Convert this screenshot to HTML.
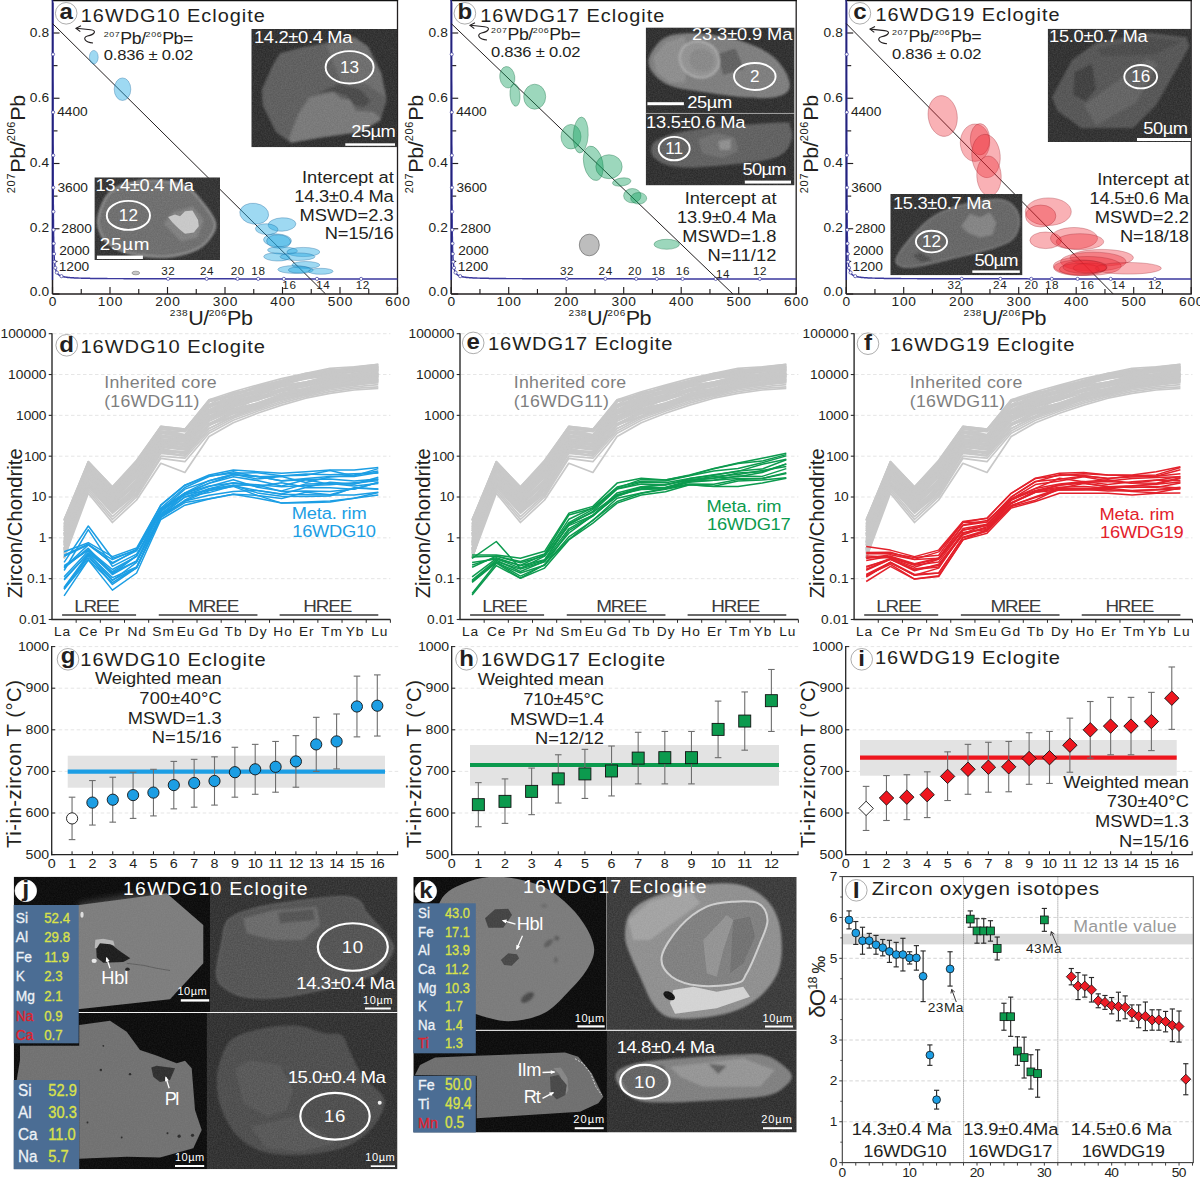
<!DOCTYPE html>
<html><head><meta charset="utf-8"><title>Figure</title>
<style>html,body{margin:0;padding:0;background:#fff;}body{width:1200px;height:1177px;overflow:hidden;font-family:"Liberation Sans",sans-serif;}svg{display:block;}</style></head>
<body>
<svg width="1200" height="1177" viewBox="0 0 1200 1177" font-family="'Liberation Sans', sans-serif">
<defs>
<filter id="nz" x="0" y="0" width="100%" height="100%"><feTurbulence type="fractalNoise" baseFrequency="0.75" numOctaves="2" seed="3" result="t"/><feColorMatrix in="t" type="matrix" values="0 0 0 0 1  0 0 0 0 1  0 0 0 0 1  1.6 0 0 0 -0.35"/></filter>
<filter id="b15" x="-10%" y="-10%" width="120%" height="120%"><feGaussianBlur stdDeviation="1.3"/></filter>
<filter id="b08" x="-10%" y="-10%" width="120%" height="120%"><feGaussianBlur stdDeviation="0.7"/></filter>
<filter id="b30" x="-20%" y="-20%" width="140%" height="140%"><feGaussianBlur stdDeviation="3"/></filter>
<clipPath id="cp1"><rect x="251.30" y="29.00" width="146.00" height="118.30"/></clipPath>
<clipPath id="cp2"><rect x="94.40" y="177.30" width="125.60" height="82.70"/></clipPath>
<clipPath id="cp3"><rect x="645.70" y="27.40" width="148.90" height="86.00"/></clipPath>
<clipPath id="cp4"><rect x="645.70" y="113.40" width="148.90" height="72.00"/></clipPath>
<clipPath id="cp5"><rect x="1047.70" y="28.70" width="143.60" height="113.30"/></clipPath>
<clipPath id="cp6"><rect x="890.30" y="194.00" width="132.20" height="81.30"/></clipPath>
<clipPath id="cp7"><rect x="13.70" y="876.70" width="196.30" height="135.80"/></clipPath>
<clipPath id="cp8"><rect x="13.70" y="1012.50" width="193.80" height="156.70"/></clipPath>
<clipPath id="cp9"><rect x="210.00" y="876.70" width="187.50" height="135.80"/></clipPath>
<clipPath id="cp10"><rect x="206.70" y="1012.50" width="190.80" height="156.70"/></clipPath>
<clipPath id="cp11"><rect x="413.30" y="877.00" width="193.40" height="153.30"/></clipPath>
<clipPath id="cp12"><rect x="413.30" y="1030.30" width="194.20" height="102.20"/></clipPath>
<clipPath id="cp13"><rect x="606.70" y="877.00" width="190.00" height="153.30"/></clipPath>
<clipPath id="cp14"><rect x="606.70" y="1030.30" width="190.00" height="102.20"/></clipPath>
</defs>
<line x1="52.50" y1="294.00" x2="398.10" y2="294.00" stroke="#231f20" stroke-width="1.4"/>
<line x1="397.50" y1="0.00" x2="397.50" y2="294.00" stroke="#231f20" stroke-width="1.3"/>
<line x1="51.90" y1="0.50" x2="398.10" y2="0.50" stroke="#111" stroke-width="1.6"/>
<line x1="52.50" y1="294.00" x2="59.50" y2="294.00" stroke="#231f20" stroke-width="1.15"/>
<line x1="52.50" y1="261.38" x2="57.50" y2="261.38" stroke="#231f20" stroke-width="1.15"/>
<line x1="52.50" y1="228.75" x2="59.50" y2="228.75" stroke="#231f20" stroke-width="1.15"/>
<line x1="52.50" y1="196.12" x2="57.50" y2="196.12" stroke="#231f20" stroke-width="1.15"/>
<line x1="52.50" y1="163.50" x2="59.50" y2="163.50" stroke="#231f20" stroke-width="1.15"/>
<line x1="52.50" y1="130.88" x2="57.50" y2="130.88" stroke="#231f20" stroke-width="1.15"/>
<line x1="52.50" y1="98.25" x2="59.50" y2="98.25" stroke="#231f20" stroke-width="1.15"/>
<line x1="52.50" y1="65.63" x2="57.50" y2="65.63" stroke="#231f20" stroke-width="1.15"/>
<line x1="52.50" y1="33.00" x2="59.50" y2="33.00" stroke="#231f20" stroke-width="1.15"/>
<line x1="52.50" y1="294.00" x2="52.50" y2="287.00" stroke="#231f20" stroke-width="1.15"/>
<line x1="81.25" y1="294.00" x2="81.25" y2="289.00" stroke="#231f20" stroke-width="1.15"/>
<line x1="110.00" y1="294.00" x2="110.00" y2="287.00" stroke="#231f20" stroke-width="1.15"/>
<line x1="138.75" y1="294.00" x2="138.75" y2="289.00" stroke="#231f20" stroke-width="1.15"/>
<line x1="167.50" y1="294.00" x2="167.50" y2="287.00" stroke="#231f20" stroke-width="1.15"/>
<line x1="196.25" y1="294.00" x2="196.25" y2="289.00" stroke="#231f20" stroke-width="1.15"/>
<line x1="225.00" y1="294.00" x2="225.00" y2="287.00" stroke="#231f20" stroke-width="1.15"/>
<line x1="253.75" y1="294.00" x2="253.75" y2="289.00" stroke="#231f20" stroke-width="1.15"/>
<line x1="282.50" y1="294.00" x2="282.50" y2="287.00" stroke="#231f20" stroke-width="1.15"/>
<line x1="311.25" y1="294.00" x2="311.25" y2="289.00" stroke="#231f20" stroke-width="1.15"/>
<line x1="340.00" y1="294.00" x2="340.00" y2="287.00" stroke="#231f20" stroke-width="1.15"/>
<line x1="368.75" y1="294.00" x2="368.75" y2="289.00" stroke="#231f20" stroke-width="1.15"/>
<line x1="397.50" y1="294.00" x2="397.50" y2="287.00" stroke="#231f20" stroke-width="1.15"/>
<text font-size="12.48" fill="#231f20" text-anchor="end" textLength="17.7" lengthAdjust="spacing" transform="translate(49.2 296.0) scale(1.1 1)">0.0</text>
<text font-size="12.48" fill="#231f20" text-anchor="end" textLength="17.7" lengthAdjust="spacing" transform="translate(49.2 232.3) scale(1.1 1)">0.2</text>
<text font-size="12.48" fill="#231f20" text-anchor="end" textLength="17.7" lengthAdjust="spacing" transform="translate(49.2 167.1) scale(1.1 1)">0.4</text>
<text font-size="12.48" fill="#231f20" text-anchor="end" textLength="17.7" lengthAdjust="spacing" transform="translate(49.2 101.8) scale(1.1 1)">0.6</text>
<text font-size="12.48" fill="#231f20" text-anchor="end" textLength="17.7" lengthAdjust="spacing" transform="translate(49.2 36.6) scale(1.1 1)">0.8</text>
<text font-size="12.48" fill="#231f20" text-anchor="middle" transform="translate(52.5 306.3) scale(1.1 1)">0</text>
<text font-size="12.48" fill="#231f20" text-anchor="middle" textLength="22.3" lengthAdjust="spacing" transform="translate(110.0 306.3) scale(1.1 1)">100</text>
<text font-size="12.48" fill="#231f20" text-anchor="middle" textLength="22.3" lengthAdjust="spacing" transform="translate(167.5 306.3) scale(1.1 1)">200</text>
<text font-size="12.48" fill="#231f20" text-anchor="middle" textLength="22.3" lengthAdjust="spacing" transform="translate(225.0 306.3) scale(1.1 1)">300</text>
<text font-size="12.48" fill="#231f20" text-anchor="middle" textLength="22.3" lengthAdjust="spacing" transform="translate(282.5 306.3) scale(1.1 1)">400</text>
<text font-size="12.48" fill="#231f20" text-anchor="middle" textLength="22.3" lengthAdjust="spacing" transform="translate(340.0 306.3) scale(1.1 1)">500</text>
<text font-size="12.48" fill="#231f20" text-anchor="middle" textLength="22.3" lengthAdjust="spacing" transform="translate(397.5 306.3) scale(1.1 1)">600</text>
<text font-size="20.59" fill="#231f20" textLength="93.8" lengthAdjust="spacing" transform="translate(24.5 193.2) rotate(-90) scale(1.05 1)"><tspan font-size="10.40" dy="-10.0" letter-spacing="1.0">207</tspan><tspan font-size="20.59" dy="10.0">Pb/</tspan><tspan font-size="10.40" dy="-10.0" letter-spacing="1.0">206</tspan><tspan font-size="20.59" dy="10.0">Pb</tspan></text>
<text font-size="19.55" fill="#231f20" textLength="75.5" lengthAdjust="spacing" transform="translate(169.8 325.0) scale(1.1 1)"><tspan font-size="9.15" dy="-9.0" letter-spacing="1.0">238</tspan><tspan font-size="19.55" dy="9.0">U/</tspan><tspan font-size="9.15" dy="-9.0" letter-spacing="1.0">206</tspan><tspan font-size="19.55" dy="9.0">Pb</tspan></text>
<polyline points="397.5,278.9 394.1,278.9 390.7,278.9 387.3,278.9 384.0,278.9 380.7,278.9 377.5,278.9 374.3,278.9 371.1,278.9 367.9,278.9 364.8,278.9 361.7,278.9 358.6,278.9 355.6,278.9 352.6,278.9 349.6,278.9 346.7,278.9 343.8,278.9 340.9,278.9 338.0,278.9 335.2,278.9 332.4,278.9 329.6,278.9 326.9,278.9 324.1,278.9 321.5,278.9 318.8,278.9 316.2,278.9 313.5,278.9 311.0,278.9 308.4,278.9 305.9,278.9 303.3,278.9 300.9,278.9 298.4,278.9 296.0,278.9 293.5,278.9 291.2,278.9 288.8,278.9 286.4,278.9 284.1,278.9 281.8,278.9 279.6,278.9 277.3,278.9 275.1,278.9 272.9,278.9 270.7,278.9 268.5,278.9 266.4,278.9 264.3,278.9 262.2,278.9 260.1,278.9 258.0,278.9 256.0,278.9 254.0,278.9 252.0,278.9 250.0,278.9 248.0,278.9 246.1,278.9 244.2,278.9 242.3,278.9 240.4,278.9 238.5,278.9 236.7,278.9 234.9,278.9 233.1,278.8 231.3,278.8 229.5,278.8 227.7,278.8 226.0,278.8 224.3,278.8 222.6,278.8 220.9,278.8 219.2,278.8 217.6,278.8 215.9,278.8 214.3,278.8 212.7,278.8 211.1,278.8 209.5,278.8 208.0,278.8 206.4,278.8 204.9,278.8 203.4,278.8 201.9,278.8 200.4,278.8 199.0,278.8 197.5,278.8 196.1,278.8 194.6,278.8 193.2,278.8 191.8,278.8 190.4,278.8 189.1,278.8 187.7,278.8 186.4,278.8 185.1,278.8 183.7,278.8 182.4,278.8 181.1,278.8 179.9,278.8 178.6,278.8 177.4,278.8 176.1,278.8 174.9,278.8 173.7,278.8 172.5,278.8 171.3,278.8 170.1,278.8 168.9,278.8 167.8,278.8 166.6,278.8 165.5,278.8 164.4,278.8 163.3,278.8 162.2,278.8 161.1,278.8 160.0,278.8 158.9,278.8 157.9,278.8 156.8,278.8 155.8,278.8 154.8,278.7 153.8,278.7 152.8,278.7 151.8,278.7 150.8,278.7 149.8,278.7 148.8,278.7 147.9,278.7 146.9,278.7 146.0,278.7 145.1,278.7 144.1,278.7 143.2,278.7 142.3,278.7 141.4,278.7 140.6,278.7 139.7,278.7 138.8,278.7 138.0,278.7 137.1,278.7 136.3,278.7 135.4,278.7 134.6,278.7 133.8,278.7 133.0,278.7 132.2,278.7 131.4,278.7 130.6,278.7 129.8,278.7 129.1,278.7 128.3,278.7 127.6,278.7 126.8,278.7 126.1,278.7 125.3,278.7 124.6,278.7 123.9,278.7 123.2,278.6 122.5,278.6 121.8,278.6 121.1,278.6 120.4,278.6 119.7,278.6 119.1,278.6 118.4,278.6 117.8,278.6 117.1,278.6 116.5,278.6 115.8,278.6 115.2,278.6 114.6,278.6 114.0,278.6 113.3,278.6 112.7,278.6 112.1,278.6 111.5,278.6 111.0,278.6 110.4,278.6 109.8,278.6 109.2,278.6 108.7,278.6 108.1,278.6 107.6,278.6 107.0,278.5 106.5,278.5 105.9,278.5 105.4,278.5 104.9,278.5 104.3,278.5 103.8,278.5 103.3,278.5 102.8,278.5 102.3,278.5 101.8,278.5 101.3,278.5 100.8,278.5 100.4,278.5 99.9,278.5 99.4,278.5 98.9,278.5 98.5,278.5 98.0,278.5 97.6,278.5 97.1,278.5 96.7,278.4 96.2,278.4 95.8,278.4 95.4,278.4 94.9,278.4 94.5,278.4 94.1,278.4 93.7,278.4 93.3,278.4 92.9,278.4 92.5,278.4 92.1,278.4 91.7,278.4 91.3,278.4 90.9,278.4 90.5,278.4 90.1,278.4 89.8,278.3 89.4,278.3 89.0,278.3 88.7,278.3 88.3,278.3 87.9,278.3 87.6,278.3 87.2,278.3 86.9,278.3 86.5,278.3 86.2,278.3 85.9,278.3 85.5,278.3 85.2,278.3 84.9,278.2 84.5,278.2 84.2,278.2 83.9,278.2 83.6,278.2 83.3,278.2 83.0,278.2 82.7,278.2 82.4,278.2 82.1,278.2 81.8,278.2 81.5,278.2 81.2,278.1 80.9,278.1 80.6,278.1 80.3,278.1 80.1,278.1 79.8,278.1 79.5,278.1 79.2,278.1 79.0,278.1 78.7,278.1 78.5,278.1 78.2,278.0 77.9,278.0 77.7,278.0 77.4,278.0 77.2,278.0 76.9,278.0 76.7,278.0 76.4,278.0 76.2,278.0 76.0,278.0 75.7,277.9 75.5,277.9 75.3,277.9 75.0,277.9 74.8,277.9 74.6,277.9 74.4,277.9 74.1,277.9 73.9,277.9 73.7,277.8 73.5,277.8 73.3,277.8 73.1,277.8 72.9,277.8 72.7,277.8 72.5,277.8 72.3,277.8 72.1,277.7 71.9,277.7 71.7,277.7 71.5,277.7 71.3,277.7 71.1,277.7 70.9,277.7 70.7,277.7 70.6,277.6 70.4,277.6 70.2,277.6 70.0,277.6 69.8,277.6 69.7,277.6 69.5,277.5 69.3,277.5 69.1,277.5 69.0,277.5 68.8,277.5 68.7,277.5 68.5,277.5 68.3,277.4 68.2,277.4 68.0,277.4 67.9,277.4 67.7,277.4 67.5,277.4 67.4,277.3 67.2,277.3 67.1,277.3 66.9,277.3 66.8,277.3 66.7,277.2 66.5,277.2 66.4,277.2 66.2,277.2 66.1,277.2 66.0,277.2 65.8,277.1 65.7,277.1 65.6,277.1 65.4,277.1 65.3,277.0 65.2,277.0 65.0,277.0 64.9,277.0 64.8,277.0 64.7,276.9 64.5,276.9 64.4,276.9 64.3,276.9 64.2,276.9 64.1,276.8 63.9,276.8 63.8,276.8 63.7,276.8 63.6,276.7 63.5,276.7 63.4,276.7 63.3,276.7 63.1,276.6 63.0,276.6 62.9,276.6 62.8,276.6 62.7,276.5 62.6,276.5 62.5,276.5 62.4,276.4 62.3,276.4 62.2,276.4 62.1,276.4 62.0,276.3 61.9,276.3 61.8,276.3 61.7,276.2 61.6,276.2 61.5,276.2 61.4,276.1 61.4,276.1 61.3,276.1 61.2,276.0 61.1,276.0 61.0,276.0 60.9,275.9 60.8,275.9 60.7,275.9 60.7,275.8 60.6,275.8 60.5,275.8 60.4,275.7 60.3,275.7 60.2,275.7 60.2,275.6 60.1,275.6 60.0,275.5 59.9,275.5 59.9,275.5 59.8,275.4 59.7,275.4 59.6,275.3 59.6,275.3 59.5,275.2 59.4,275.2 59.3,275.2 59.3,275.1 59.2,275.1 59.1,275.0 59.1,275.0 59.0,274.9 58.9,274.9 58.9,274.8 58.8,274.8 58.7,274.7 58.7,274.7 58.6,274.6 58.5,274.6 58.5,274.5 58.4,274.5 58.4,274.4 58.3,274.4 58.2,274.3 58.2,274.3 58.1,274.2 58.1,274.1 58.0,274.1 57.9,274.0 57.9,274.0 57.8,273.9 57.8,273.8 57.7,273.8 57.7,273.7 57.6,273.6 57.6,273.6 57.5,273.5 57.5,273.4 57.4,273.4 57.3,273.3 57.3,273.2 57.2,273.2 57.2,273.1 57.1,273.0 57.1,272.9 57.1,272.9 57.0,272.8 57.0,272.7 56.9,272.6 56.9,272.6 56.8,272.5 56.8,272.4 56.7,272.3 56.7,272.2 56.6,272.1 56.6,272.0 56.6,272.0 56.5,271.9 56.5,271.8 56.4,271.7 56.4,271.6 56.3,271.5 56.3,271.4 56.3,271.3 56.2,271.2 56.2,271.1 56.1,271.0 56.1,270.9 56.1,270.8 56.0,270.7 56.0,270.5 56.0,270.4 55.9,270.3 55.9,270.2 55.8,270.1 55.8,270.0 55.8,269.8 55.7,269.7 55.7,269.6 55.7,269.4 55.6,269.3 55.6,269.2 55.6,269.0 55.5,268.9 55.5,268.8 55.5,268.6 55.4,268.5 55.4,268.3 55.4,268.2 55.3,268.0 55.3,267.9 55.3,267.7 55.2,267.5 55.2,267.4 55.2,267.2 55.2,267.0 55.1,266.9 55.1,266.7 55.1,266.5 55.0,266.3 55.0,266.1 55.0,265.9 55.0,265.7 54.9,265.5 54.9,265.3 54.9,265.1 54.9,264.9 54.8,264.7 54.8,264.5 54.8,264.3 54.8,264.0 54.7,263.8 54.7,263.6 54.7,263.3 54.7,263.1 54.6,262.8 54.6,262.6 54.6,262.3 54.6,262.0 54.5,261.8 54.5,261.5 54.5,261.2 54.5,260.9 54.4,260.6 54.4,260.3 54.4,260.0 54.4,259.7 54.4,259.4 54.3,259.0 54.3,258.7 54.3,258.4 54.3,258.0 54.3,257.7 54.2,257.3 54.2,256.9 54.2,256.5 54.2,256.1 54.2,255.7 54.1,255.3 54.1,254.9 54.1,254.5 54.1,254.0 54.1,253.6 54.1,253.1 54.0,252.6 54.0,252.2 54.0,251.7 54.0,251.2 54.0,250.6 53.9,250.1 53.9,249.6 53.9,249.0 53.9,248.4 53.9,247.8 53.9,247.2 53.8,246.6 53.8,246.0 53.8,245.3 53.8,244.6 53.8,244.0 53.8,243.3 53.8,242.5 53.7,241.8 53.7,241.0 53.7,240.2 53.7,239.4 53.7,238.6 53.7,237.7 53.7,236.9 53.6,236.0 53.6,235.0 53.6,234.1 53.6,233.1 53.6,232.1 53.6,231.0 53.6,230.0 53.5,228.9 53.5,227.7 53.5,226.6 53.5,225.3 53.5,224.1 53.5,222.8 53.5,221.5 53.5,220.1 53.4,218.7 53.4,217.3 53.4,215.8 53.4,214.2 53.4,212.6 53.4,211.0 53.4,209.2 53.4,207.5 53.4,205.7 53.3,203.8 53.3,201.8 53.3,199.8 53.3,197.7 53.3,195.5 53.3,193.3 53.3,191.0 53.3,188.6 53.3,186.1 53.3,183.5 53.2,180.8 53.2,178.0 53.2,175.1 53.2,172.2 53.2,169.1 53.2,165.8 53.2,162.5 53.2,159.0 53.2,155.4 53.2,151.6 53.2,147.7 53.1,143.6 53.1,139.4 53.1,135.0 53.1,130.4 53.1,125.6 53.1,120.6 53.1,115.4 53.1,110.0 53.1,104.3 53.1,98.4 53.1,92.2 53.1,85.8 53.0,79.1 53.0,72.0 53.0,64.7 53.0,57.0 53.0,48.9 53.0,40.5 53.0,31.6 53.0,22.4 53.0,12.7 53.0,2.5" fill="none" stroke="#3b399e" stroke-width="1.45" stroke-linejoin="round"/>
<line x1="52.50" y1="0.00" x2="52.50" y2="280.00" stroke="#23227c" stroke-width="1.7"/>
<line x1="52.50" y1="280.00" x2="52.50" y2="294.00" stroke="#231f20" stroke-width="1.5"/>
<circle cx="361.10" cy="278.90" r="1.6" fill="#fff" stroke="#3b399e" stroke-width="0.7"/>
<circle cx="316.98" cy="278.89" r="1.6" fill="#fff" stroke="#3b399e" stroke-width="0.7"/>
<circle cx="283.88" cy="278.88" r="1.6" fill="#fff" stroke="#3b399e" stroke-width="0.7"/>
<circle cx="258.14" cy="278.86" r="1.6" fill="#fff" stroke="#3b399e" stroke-width="0.7"/>
<circle cx="237.55" cy="278.85" r="1.6" fill="#fff" stroke="#3b399e" stroke-width="0.7"/>
<circle cx="206.66" cy="278.83" r="1.6" fill="#fff" stroke="#3b399e" stroke-width="0.7"/>
<circle cx="168.05" cy="278.78" r="1.6" fill="#fff" stroke="#3b399e" stroke-width="0.7"/>
<circle cx="61.48" cy="276.15" r="1.6" fill="#fff" stroke="#3b399e" stroke-width="0.7"/>
<circle cx="56.85" cy="272.53" r="1.6" fill="#fff" stroke="#3b399e" stroke-width="0.7"/>
<circle cx="55.31" cy="267.86" r="1.6" fill="#fff" stroke="#3b399e" stroke-width="0.7"/>
<circle cx="54.54" cy="261.79" r="1.6" fill="#fff" stroke="#3b399e" stroke-width="0.7"/>
<circle cx="54.08" cy="253.88" r="1.6" fill="#fff" stroke="#3b399e" stroke-width="0.7"/>
<circle cx="53.77" cy="243.49" r="1.6" fill="#fff" stroke="#3b399e" stroke-width="0.7"/>
<circle cx="53.56" cy="229.79" r="1.6" fill="#fff" stroke="#3b399e" stroke-width="0.7"/>
<circle cx="53.39" cy="211.65" r="1.6" fill="#fff" stroke="#3b399e" stroke-width="0.7"/>
<circle cx="53.27" cy="187.53" r="1.6" fill="#fff" stroke="#3b399e" stroke-width="0.7"/>
<circle cx="53.17" cy="155.34" r="1.6" fill="#fff" stroke="#3b399e" stroke-width="0.7"/>
<circle cx="53.09" cy="112.23" r="1.6" fill="#fff" stroke="#3b399e" stroke-width="0.7"/>
<circle cx="53.02" cy="54.33" r="1.6" fill="#fff" stroke="#3b399e" stroke-width="0.7"/>
<text font-size="12.48" fill="#231f20" textLength="27.7" lengthAdjust="spacing" transform="translate(57.2 116.4) scale(1.1 1)">4400</text>
<text font-size="12.48" fill="#231f20" textLength="27.7" lengthAdjust="spacing" transform="translate(57.5 191.5) scale(1.1 1)">3600</text>
<text font-size="12.48" fill="#231f20" textLength="27.7" lengthAdjust="spacing" transform="translate(61.3 233.4) scale(1.1 1)">2800</text>
<text font-size="12.48" fill="#231f20" textLength="27.7" lengthAdjust="spacing" transform="translate(59.2 255.3) scale(1.1 1)">2000</text>
<text font-size="12.48" fill="#231f20" textLength="27.7" lengthAdjust="spacing" transform="translate(58.7 270.9) scale(1.1 1)">1200</text>
<text font-size="11.65" fill="#231f20" text-anchor="middle" textLength="13.6" lengthAdjust="spacing" transform="translate(168.0 275.3)">32</text>
<text font-size="11.65" fill="#231f20" text-anchor="middle" textLength="13.6" lengthAdjust="spacing" transform="translate(206.7 275.3)">24</text>
<text font-size="11.65" fill="#231f20" text-anchor="middle" textLength="13.6" lengthAdjust="spacing" transform="translate(237.5 275.3)">20</text>
<text font-size="11.65" fill="#231f20" text-anchor="middle" textLength="13.6" lengthAdjust="spacing" transform="translate(258.1 275.3)">18</text>
<text font-size="11.65" fill="#231f20" text-anchor="middle" textLength="13.6" lengthAdjust="spacing" transform="translate(289.1 288.6)">16</text>
<text font-size="11.65" fill="#231f20" text-anchor="middle" textLength="13.6" lengthAdjust="spacing" transform="translate(323.0 288.6)">14</text>
<text font-size="11.65" fill="#231f20" text-anchor="middle" textLength="13.6" lengthAdjust="spacing" transform="translate(362.5 288.6)">12</text>
<circle cx="66.2" cy="13.3" r="10.8" fill="#fff" stroke="#8a8a8a" stroke-width="0.7"/>
<text font-size="21.84" fill="#231f20" text-anchor="middle" font-weight="bold" transform="translate(66.2 18.9) scale(1.1 1)">a</text>
<text font-size="18.10" fill="#231f20" textLength="167.3" lengthAdjust="spacing" transform="translate(80.8 22.0) scale(1.1 1)">16WDG10 Eclogite</text>
<line x1="52.50" y1="23.50" x2="325.62" y2="294.00" stroke="#231f20" stroke-width="1.0"/>
<ellipse cx="93.80" cy="57.20" rx="4.40" ry="6.80" fill="rgba(41,171,226,0.45)" stroke="rgba(20,95,150,0.65)" stroke-width="0.5"/>
<ellipse cx="122.50" cy="89.20" rx="8.30" ry="11.30" fill="rgba(41,171,226,0.45)" stroke="rgba(20,95,150,0.65)" stroke-width="0.5"/>
<ellipse cx="254.20" cy="213.70" rx="14.50" ry="10.40" fill="rgba(41,171,226,0.45)" stroke="rgba(20,95,150,0.65)" stroke-width="0.5" transform="rotate(8 254.2 213.7)"/>
<ellipse cx="282.00" cy="224.50" rx="13.90" ry="6.70" fill="rgba(41,171,226,0.45)" stroke="rgba(20,95,150,0.65)" stroke-width="0.5" transform="rotate(-3 282.0 224.5)"/>
<ellipse cx="266.70" cy="229.20" rx="11.30" ry="5.40" fill="rgba(41,171,226,0.45)" stroke="rgba(20,95,150,0.65)" stroke-width="0.5" transform="rotate(3 266.7 229.2)"/>
<ellipse cx="277.50" cy="240.30" rx="14.00" ry="6.40" fill="rgba(41,171,226,0.45)" stroke="rgba(20,95,150,0.65)" stroke-width="0.5" transform="rotate(3 277.5 240.3)"/>
<ellipse cx="278.60" cy="241.50" rx="12.00" ry="6.80" fill="rgba(41,171,226,0.45)" stroke="rgba(20,95,150,0.65)" stroke-width="0.5" transform="rotate(3 278.6 241.5)"/>
<ellipse cx="282.50" cy="250.50" rx="15.00" ry="3.80" fill="rgba(41,171,226,0.45)" stroke="rgba(20,95,150,0.65)" stroke-width="0.5" transform="rotate(2 282.5 250.5)"/>
<ellipse cx="303.30" cy="252.00" rx="16.50" ry="4.60" fill="rgba(41,171,226,0.45)" stroke="rgba(20,95,150,0.65)" stroke-width="0.5"/>
<ellipse cx="276.70" cy="257.00" rx="13.00" ry="4.00" fill="rgba(41,171,226,0.45)" stroke="rgba(20,95,150,0.65)" stroke-width="0.5" transform="rotate(2 276.7 257.0)"/>
<ellipse cx="297.50" cy="256.70" rx="17.50" ry="3.80" fill="rgba(41,171,226,0.45)" stroke="rgba(20,95,150,0.65)" stroke-width="0.5"/>
<ellipse cx="305.80" cy="265.00" rx="14.00" ry="3.50" fill="rgba(41,171,226,0.45)" stroke="rgba(20,95,150,0.65)" stroke-width="0.5"/>
<ellipse cx="294.20" cy="269.50" rx="16.40" ry="3.90" fill="rgba(41,171,226,0.45)" stroke="rgba(20,95,150,0.65)" stroke-width="0.5"/>
<ellipse cx="300.80" cy="270.00" rx="12.50" ry="3.30" fill="rgba(41,171,226,0.45)" stroke="rgba(20,95,150,0.65)" stroke-width="0.5"/>
<ellipse cx="320.80" cy="271.30" rx="12.30" ry="3.00" fill="rgba(41,171,226,0.45)" stroke="rgba(20,95,150,0.65)" stroke-width="0.5"/>
<ellipse cx="135.80" cy="273.00" rx="3.90" ry="1.80" fill="#c8c8c8" stroke="#666" stroke-width="0.5"/>
<path d="M93.0,43.0 C85.0,42.5 82.0,37.5 87.5,36.0 C94.5,34.5 97.5,30.5 90.5,29.8 L76.5,28.3" fill="none" stroke="#231f20" stroke-width="1.1"/>
<path d="M81.0,25.8 L76.0,28.3 L80.3,31.6" fill="none" stroke="#231f20" stroke-width="1.1"/>
<text font-size="16.12" fill="#231f20" textLength="81.4" lengthAdjust="spacing" transform="translate(103.8 43.7) scale(1.1 1)"><tspan font-size="8.11" dy="-7.0" letter-spacing="0.9">207</tspan><tspan font-size="16.12" dy="7.0">Pb/</tspan><tspan font-size="8.11" dy="-7.0" letter-spacing="0.9">206</tspan><tspan font-size="16.12" dy="7.0">Pb=</tspan></text>
<text font-size="15.08" fill="#231f20" textLength="81.4" lengthAdjust="spacing" transform="translate(103.8 60.3) scale(1.1 1)">0.836 ± 0.02</text>
<text font-size="16.64" fill="#231f20" text-anchor="end" textLength="83.5" lengthAdjust="spacing" transform="translate(393.8 183.0) scale(1.1 1)">Intercept at</text>
<text font-size="16.64" fill="#231f20" text-anchor="end" textLength="90.5" lengthAdjust="spacing" transform="translate(393.8 202.0) scale(1.1 1)">14.3±0.4 Ma</text>
<text font-size="16.64" fill="#231f20" text-anchor="end" textLength="85.7" lengthAdjust="spacing" transform="translate(393.8 220.8) scale(1.1 1)">MSWD=2.3</text>
<text font-size="16.64" fill="#231f20" text-anchor="end" textLength="62.8" lengthAdjust="spacing" transform="translate(393.8 239.2) scale(1.1 1)">N=15/16</text>
<line x1="451.20" y1="294.00" x2="796.80" y2="294.00" stroke="#231f20" stroke-width="1.4"/>
<line x1="796.20" y1="0.00" x2="796.20" y2="294.00" stroke="#231f20" stroke-width="1.3"/>
<line x1="450.60" y1="0.50" x2="796.80" y2="0.50" stroke="#111" stroke-width="1.6"/>
<line x1="451.20" y1="294.00" x2="458.20" y2="294.00" stroke="#231f20" stroke-width="1.15"/>
<line x1="451.20" y1="261.38" x2="456.20" y2="261.38" stroke="#231f20" stroke-width="1.15"/>
<line x1="451.20" y1="228.75" x2="458.20" y2="228.75" stroke="#231f20" stroke-width="1.15"/>
<line x1="451.20" y1="196.12" x2="456.20" y2="196.12" stroke="#231f20" stroke-width="1.15"/>
<line x1="451.20" y1="163.50" x2="458.20" y2="163.50" stroke="#231f20" stroke-width="1.15"/>
<line x1="451.20" y1="130.88" x2="456.20" y2="130.88" stroke="#231f20" stroke-width="1.15"/>
<line x1="451.20" y1="98.25" x2="458.20" y2="98.25" stroke="#231f20" stroke-width="1.15"/>
<line x1="451.20" y1="65.63" x2="456.20" y2="65.63" stroke="#231f20" stroke-width="1.15"/>
<line x1="451.20" y1="33.00" x2="458.20" y2="33.00" stroke="#231f20" stroke-width="1.15"/>
<line x1="451.20" y1="294.00" x2="451.20" y2="287.00" stroke="#231f20" stroke-width="1.15"/>
<line x1="479.95" y1="294.00" x2="479.95" y2="289.00" stroke="#231f20" stroke-width="1.15"/>
<line x1="508.70" y1="294.00" x2="508.70" y2="287.00" stroke="#231f20" stroke-width="1.15"/>
<line x1="537.45" y1="294.00" x2="537.45" y2="289.00" stroke="#231f20" stroke-width="1.15"/>
<line x1="566.20" y1="294.00" x2="566.20" y2="287.00" stroke="#231f20" stroke-width="1.15"/>
<line x1="594.95" y1="294.00" x2="594.95" y2="289.00" stroke="#231f20" stroke-width="1.15"/>
<line x1="623.70" y1="294.00" x2="623.70" y2="287.00" stroke="#231f20" stroke-width="1.15"/>
<line x1="652.45" y1="294.00" x2="652.45" y2="289.00" stroke="#231f20" stroke-width="1.15"/>
<line x1="681.20" y1="294.00" x2="681.20" y2="287.00" stroke="#231f20" stroke-width="1.15"/>
<line x1="709.95" y1="294.00" x2="709.95" y2="289.00" stroke="#231f20" stroke-width="1.15"/>
<line x1="738.70" y1="294.00" x2="738.70" y2="287.00" stroke="#231f20" stroke-width="1.15"/>
<line x1="767.45" y1="294.00" x2="767.45" y2="289.00" stroke="#231f20" stroke-width="1.15"/>
<line x1="796.20" y1="294.00" x2="796.20" y2="287.00" stroke="#231f20" stroke-width="1.15"/>
<text font-size="12.48" fill="#231f20" text-anchor="end" textLength="17.7" lengthAdjust="spacing" transform="translate(447.9 296.0) scale(1.1 1)">0.0</text>
<text font-size="12.48" fill="#231f20" text-anchor="end" textLength="17.7" lengthAdjust="spacing" transform="translate(447.9 232.3) scale(1.1 1)">0.2</text>
<text font-size="12.48" fill="#231f20" text-anchor="end" textLength="17.7" lengthAdjust="spacing" transform="translate(447.9 167.1) scale(1.1 1)">0.4</text>
<text font-size="12.48" fill="#231f20" text-anchor="end" textLength="17.7" lengthAdjust="spacing" transform="translate(447.9 101.8) scale(1.1 1)">0.6</text>
<text font-size="12.48" fill="#231f20" text-anchor="end" textLength="17.7" lengthAdjust="spacing" transform="translate(447.9 36.6) scale(1.1 1)">0.8</text>
<text font-size="12.48" fill="#231f20" text-anchor="middle" transform="translate(451.2 306.3) scale(1.1 1)">0</text>
<text font-size="12.48" fill="#231f20" text-anchor="middle" textLength="22.3" lengthAdjust="spacing" transform="translate(508.7 306.3) scale(1.1 1)">100</text>
<text font-size="12.48" fill="#231f20" text-anchor="middle" textLength="22.3" lengthAdjust="spacing" transform="translate(566.2 306.3) scale(1.1 1)">200</text>
<text font-size="12.48" fill="#231f20" text-anchor="middle" textLength="22.3" lengthAdjust="spacing" transform="translate(623.7 306.3) scale(1.1 1)">300</text>
<text font-size="12.48" fill="#231f20" text-anchor="middle" textLength="22.3" lengthAdjust="spacing" transform="translate(681.2 306.3) scale(1.1 1)">400</text>
<text font-size="12.48" fill="#231f20" text-anchor="middle" textLength="22.3" lengthAdjust="spacing" transform="translate(738.7 306.3) scale(1.1 1)">500</text>
<text font-size="12.48" fill="#231f20" text-anchor="middle" textLength="22.3" lengthAdjust="spacing" transform="translate(796.2 306.3) scale(1.1 1)">600</text>
<text font-size="20.59" fill="#231f20" textLength="93.8" lengthAdjust="spacing" transform="translate(423.2 193.2) rotate(-90) scale(1.05 1)"><tspan font-size="10.40" dy="-10.0" letter-spacing="1.0">207</tspan><tspan font-size="20.59" dy="10.0">Pb/</tspan><tspan font-size="10.40" dy="-10.0" letter-spacing="1.0">206</tspan><tspan font-size="20.59" dy="10.0">Pb</tspan></text>
<text font-size="19.55" fill="#231f20" textLength="75.5" lengthAdjust="spacing" transform="translate(568.5 325.0) scale(1.1 1)"><tspan font-size="9.15" dy="-9.0" letter-spacing="1.0">238</tspan><tspan font-size="19.55" dy="9.0">U/</tspan><tspan font-size="9.15" dy="-9.0" letter-spacing="1.0">206</tspan><tspan font-size="19.55" dy="9.0">Pb</tspan></text>
<polyline points="796.2,278.9 792.8,278.9 789.4,278.9 786.0,278.9 782.7,278.9 779.4,278.9 776.2,278.9 773.0,278.9 769.8,278.9 766.6,278.9 763.5,278.9 760.4,278.9 757.3,278.9 754.3,278.9 751.3,278.9 748.3,278.9 745.4,278.9 742.5,278.9 739.6,278.9 736.7,278.9 733.9,278.9 731.1,278.9 728.3,278.9 725.6,278.9 722.8,278.9 720.2,278.9 717.5,278.9 714.9,278.9 712.2,278.9 709.7,278.9 707.1,278.9 704.6,278.9 702.0,278.9 699.6,278.9 697.1,278.9 694.7,278.9 692.2,278.9 689.9,278.9 687.5,278.9 685.1,278.9 682.8,278.9 680.5,278.9 678.3,278.9 676.0,278.9 673.8,278.9 671.6,278.9 669.4,278.9 667.2,278.9 665.1,278.9 663.0,278.9 660.9,278.9 658.8,278.9 656.7,278.9 654.7,278.9 652.7,278.9 650.7,278.9 648.7,278.9 646.7,278.9 644.8,278.9 642.9,278.9 641.0,278.9 639.1,278.9 637.2,278.9 635.4,278.9 633.6,278.9 631.8,278.8 630.0,278.8 628.2,278.8 626.4,278.8 624.7,278.8 623.0,278.8 621.3,278.8 619.6,278.8 617.9,278.8 616.3,278.8 614.6,278.8 613.0,278.8 611.4,278.8 609.8,278.8 608.2,278.8 606.7,278.8 605.1,278.8 603.6,278.8 602.1,278.8 600.6,278.8 599.1,278.8 597.7,278.8 596.2,278.8 594.8,278.8 593.3,278.8 591.9,278.8 590.5,278.8 589.1,278.8 587.8,278.8 586.4,278.8 585.1,278.8 583.8,278.8 582.4,278.8 581.1,278.8 579.8,278.8 578.6,278.8 577.3,278.8 576.1,278.8 574.8,278.8 573.6,278.8 572.4,278.8 571.2,278.8 570.0,278.8 568.8,278.8 567.6,278.8 566.5,278.8 565.3,278.8 564.2,278.8 563.1,278.8 562.0,278.8 560.9,278.8 559.8,278.8 558.7,278.8 557.6,278.8 556.6,278.8 555.5,278.8 554.5,278.8 553.5,278.7 552.5,278.7 551.5,278.7 550.5,278.7 549.5,278.7 548.5,278.7 547.5,278.7 546.6,278.7 545.6,278.7 544.7,278.7 543.8,278.7 542.8,278.7 541.9,278.7 541.0,278.7 540.1,278.7 539.3,278.7 538.4,278.7 537.5,278.7 536.7,278.7 535.8,278.7 535.0,278.7 534.1,278.7 533.3,278.7 532.5,278.7 531.7,278.7 530.9,278.7 530.1,278.7 529.3,278.7 528.5,278.7 527.8,278.7 527.0,278.7 526.3,278.7 525.5,278.7 524.8,278.7 524.0,278.7 523.3,278.7 522.6,278.7 521.9,278.6 521.2,278.6 520.5,278.6 519.8,278.6 519.1,278.6 518.4,278.6 517.8,278.6 517.1,278.6 516.5,278.6 515.8,278.6 515.2,278.6 514.5,278.6 513.9,278.6 513.3,278.6 512.7,278.6 512.0,278.6 511.4,278.6 510.8,278.6 510.2,278.6 509.7,278.6 509.1,278.6 508.5,278.6 507.9,278.6 507.4,278.6 506.8,278.6 506.3,278.6 505.7,278.5 505.2,278.5 504.6,278.5 504.1,278.5 503.6,278.5 503.0,278.5 502.5,278.5 502.0,278.5 501.5,278.5 501.0,278.5 500.5,278.5 500.0,278.5 499.5,278.5 499.1,278.5 498.6,278.5 498.1,278.5 497.6,278.5 497.2,278.5 496.7,278.5 496.3,278.5 495.8,278.5 495.4,278.4 494.9,278.4 494.5,278.4 494.1,278.4 493.6,278.4 493.2,278.4 492.8,278.4 492.4,278.4 492.0,278.4 491.6,278.4 491.2,278.4 490.8,278.4 490.4,278.4 490.0,278.4 489.6,278.4 489.2,278.4 488.8,278.4 488.5,278.3 488.1,278.3 487.7,278.3 487.4,278.3 487.0,278.3 486.6,278.3 486.3,278.3 485.9,278.3 485.6,278.3 485.2,278.3 484.9,278.3 484.6,278.3 484.2,278.3 483.9,278.3 483.6,278.2 483.2,278.2 482.9,278.2 482.6,278.2 482.3,278.2 482.0,278.2 481.7,278.2 481.4,278.2 481.1,278.2 480.8,278.2 480.5,278.2 480.2,278.2 479.9,278.1 479.6,278.1 479.3,278.1 479.0,278.1 478.8,278.1 478.5,278.1 478.2,278.1 477.9,278.1 477.7,278.1 477.4,278.1 477.2,278.1 476.9,278.0 476.6,278.0 476.4,278.0 476.1,278.0 475.9,278.0 475.6,278.0 475.4,278.0 475.1,278.0 474.9,278.0 474.7,278.0 474.4,277.9 474.2,277.9 474.0,277.9 473.7,277.9 473.5,277.9 473.3,277.9 473.1,277.9 472.8,277.9 472.6,277.9 472.4,277.8 472.2,277.8 472.0,277.8 471.8,277.8 471.6,277.8 471.4,277.8 471.2,277.8 471.0,277.8 470.8,277.7 470.6,277.7 470.4,277.7 470.2,277.7 470.0,277.7 469.8,277.7 469.6,277.7 469.4,277.7 469.3,277.6 469.1,277.6 468.9,277.6 468.7,277.6 468.5,277.6 468.4,277.6 468.2,277.5 468.0,277.5 467.8,277.5 467.7,277.5 467.5,277.5 467.4,277.5 467.2,277.5 467.0,277.4 466.9,277.4 466.7,277.4 466.6,277.4 466.4,277.4 466.2,277.4 466.1,277.3 465.9,277.3 465.8,277.3 465.6,277.3 465.5,277.3 465.4,277.2 465.2,277.2 465.1,277.2 464.9,277.2 464.8,277.2 464.7,277.2 464.5,277.1 464.4,277.1 464.3,277.1 464.1,277.1 464.0,277.0 463.9,277.0 463.7,277.0 463.6,277.0 463.5,277.0 463.4,276.9 463.2,276.9 463.1,276.9 463.0,276.9 462.9,276.9 462.8,276.8 462.6,276.8 462.5,276.8 462.4,276.8 462.3,276.7 462.2,276.7 462.1,276.7 462.0,276.7 461.8,276.6 461.7,276.6 461.6,276.6 461.5,276.6 461.4,276.5 461.3,276.5 461.2,276.5 461.1,276.4 461.0,276.4 460.9,276.4 460.8,276.4 460.7,276.3 460.6,276.3 460.5,276.3 460.4,276.2 460.3,276.2 460.2,276.2 460.1,276.1 460.1,276.1 460.0,276.1 459.9,276.0 459.8,276.0 459.7,276.0 459.6,275.9 459.5,275.9 459.4,275.9 459.4,275.8 459.3,275.8 459.2,275.8 459.1,275.7 459.0,275.7 458.9,275.7 458.9,275.6 458.8,275.6 458.7,275.5 458.6,275.5 458.6,275.5 458.5,275.4 458.4,275.4 458.3,275.3 458.3,275.3 458.2,275.2 458.1,275.2 458.0,275.2 458.0,275.1 457.9,275.1 457.8,275.0 457.8,275.0 457.7,274.9 457.6,274.9 457.6,274.8 457.5,274.8 457.4,274.7 457.4,274.7 457.3,274.6 457.2,274.6 457.2,274.5 457.1,274.5 457.1,274.4 457.0,274.4 456.9,274.3 456.9,274.3 456.8,274.2 456.8,274.1 456.7,274.1 456.6,274.0 456.6,274.0 456.5,273.9 456.5,273.8 456.4,273.8 456.4,273.7 456.3,273.6 456.3,273.6 456.2,273.5 456.2,273.4 456.1,273.4 456.0,273.3 456.0,273.2 455.9,273.2 455.9,273.1 455.8,273.0 455.8,272.9 455.8,272.9 455.7,272.8 455.7,272.7 455.6,272.6 455.6,272.6 455.5,272.5 455.5,272.4 455.4,272.3 455.4,272.2 455.3,272.1 455.3,272.0 455.3,272.0 455.2,271.9 455.2,271.8 455.1,271.7 455.1,271.6 455.0,271.5 455.0,271.4 455.0,271.3 454.9,271.2 454.9,271.1 454.8,271.0 454.8,270.9 454.8,270.8 454.7,270.7 454.7,270.5 454.7,270.4 454.6,270.3 454.6,270.2 454.5,270.1 454.5,270.0 454.5,269.8 454.4,269.7 454.4,269.6 454.4,269.4 454.3,269.3 454.3,269.2 454.3,269.0 454.2,268.9 454.2,268.8 454.2,268.6 454.1,268.5 454.1,268.3 454.1,268.2 454.0,268.0 454.0,267.9 454.0,267.7 453.9,267.5 453.9,267.4 453.9,267.2 453.9,267.0 453.8,266.9 453.8,266.7 453.8,266.5 453.7,266.3 453.7,266.1 453.7,265.9 453.7,265.7 453.6,265.5 453.6,265.3 453.6,265.1 453.6,264.9 453.5,264.7 453.5,264.5 453.5,264.3 453.5,264.0 453.4,263.8 453.4,263.6 453.4,263.3 453.4,263.1 453.3,262.8 453.3,262.6 453.3,262.3 453.3,262.0 453.2,261.8 453.2,261.5 453.2,261.2 453.2,260.9 453.1,260.6 453.1,260.3 453.1,260.0 453.1,259.7 453.1,259.4 453.0,259.0 453.0,258.7 453.0,258.4 453.0,258.0 453.0,257.7 452.9,257.3 452.9,256.9 452.9,256.5 452.9,256.1 452.9,255.7 452.8,255.3 452.8,254.9 452.8,254.5 452.8,254.0 452.8,253.6 452.8,253.1 452.7,252.6 452.7,252.2 452.7,251.7 452.7,251.2 452.7,250.6 452.6,250.1 452.6,249.6 452.6,249.0 452.6,248.4 452.6,247.8 452.6,247.2 452.5,246.6 452.5,246.0 452.5,245.3 452.5,244.6 452.5,244.0 452.5,243.3 452.5,242.5 452.4,241.8 452.4,241.0 452.4,240.2 452.4,239.4 452.4,238.6 452.4,237.7 452.4,236.9 452.3,236.0 452.3,235.0 452.3,234.1 452.3,233.1 452.3,232.1 452.3,231.0 452.3,230.0 452.2,228.9 452.2,227.7 452.2,226.6 452.2,225.3 452.2,224.1 452.2,222.8 452.2,221.5 452.2,220.1 452.1,218.7 452.1,217.3 452.1,215.8 452.1,214.2 452.1,212.6 452.1,211.0 452.1,209.2 452.1,207.5 452.1,205.7 452.0,203.8 452.0,201.8 452.0,199.8 452.0,197.7 452.0,195.5 452.0,193.3 452.0,191.0 452.0,188.6 452.0,186.1 452.0,183.5 451.9,180.8 451.9,178.0 451.9,175.1 451.9,172.2 451.9,169.1 451.9,165.8 451.9,162.5 451.9,159.0 451.9,155.4 451.9,151.6 451.9,147.7 451.8,143.6 451.8,139.4 451.8,135.0 451.8,130.4 451.8,125.6 451.8,120.6 451.8,115.4 451.8,110.0 451.8,104.3 451.8,98.4 451.8,92.2 451.8,85.8 451.7,79.1 451.7,72.0 451.7,64.7 451.7,57.0 451.7,48.9 451.7,40.5 451.7,31.6 451.7,22.4 451.7,12.7 451.7,2.5" fill="none" stroke="#3b399e" stroke-width="1.45" stroke-linejoin="round"/>
<line x1="451.20" y1="0.00" x2="451.20" y2="280.00" stroke="#23227c" stroke-width="1.7"/>
<line x1="451.20" y1="280.00" x2="451.20" y2="294.00" stroke="#231f20" stroke-width="1.5"/>
<circle cx="759.80" cy="278.90" r="1.6" fill="#fff" stroke="#3b399e" stroke-width="0.7"/>
<circle cx="715.68" cy="278.89" r="1.6" fill="#fff" stroke="#3b399e" stroke-width="0.7"/>
<circle cx="682.58" cy="278.88" r="1.6" fill="#fff" stroke="#3b399e" stroke-width="0.7"/>
<circle cx="656.84" cy="278.86" r="1.6" fill="#fff" stroke="#3b399e" stroke-width="0.7"/>
<circle cx="636.25" cy="278.85" r="1.6" fill="#fff" stroke="#3b399e" stroke-width="0.7"/>
<circle cx="605.36" cy="278.83" r="1.6" fill="#fff" stroke="#3b399e" stroke-width="0.7"/>
<circle cx="566.75" cy="278.78" r="1.6" fill="#fff" stroke="#3b399e" stroke-width="0.7"/>
<circle cx="460.18" cy="276.15" r="1.6" fill="#fff" stroke="#3b399e" stroke-width="0.7"/>
<circle cx="455.55" cy="272.53" r="1.6" fill="#fff" stroke="#3b399e" stroke-width="0.7"/>
<circle cx="454.01" cy="267.86" r="1.6" fill="#fff" stroke="#3b399e" stroke-width="0.7"/>
<circle cx="453.24" cy="261.79" r="1.6" fill="#fff" stroke="#3b399e" stroke-width="0.7"/>
<circle cx="452.78" cy="253.88" r="1.6" fill="#fff" stroke="#3b399e" stroke-width="0.7"/>
<circle cx="452.47" cy="243.49" r="1.6" fill="#fff" stroke="#3b399e" stroke-width="0.7"/>
<circle cx="452.26" cy="229.79" r="1.6" fill="#fff" stroke="#3b399e" stroke-width="0.7"/>
<circle cx="452.09" cy="211.65" r="1.6" fill="#fff" stroke="#3b399e" stroke-width="0.7"/>
<circle cx="451.97" cy="187.53" r="1.6" fill="#fff" stroke="#3b399e" stroke-width="0.7"/>
<circle cx="451.87" cy="155.34" r="1.6" fill="#fff" stroke="#3b399e" stroke-width="0.7"/>
<circle cx="451.79" cy="112.23" r="1.6" fill="#fff" stroke="#3b399e" stroke-width="0.7"/>
<circle cx="451.72" cy="54.33" r="1.6" fill="#fff" stroke="#3b399e" stroke-width="0.7"/>
<text font-size="12.48" fill="#231f20" textLength="27.7" lengthAdjust="spacing" transform="translate(456.2 116.4) scale(1.1 1)">4400</text>
<text font-size="12.48" fill="#231f20" textLength="27.7" lengthAdjust="spacing" transform="translate(456.5 191.5) scale(1.1 1)">3600</text>
<text font-size="12.48" fill="#231f20" textLength="27.7" lengthAdjust="spacing" transform="translate(460.3 233.4) scale(1.1 1)">2800</text>
<text font-size="12.48" fill="#231f20" textLength="27.7" lengthAdjust="spacing" transform="translate(458.2 255.3) scale(1.1 1)">2000</text>
<text font-size="12.48" fill="#231f20" textLength="27.7" lengthAdjust="spacing" transform="translate(457.7 270.9) scale(1.1 1)">1200</text>
<text font-size="11.65" fill="#231f20" text-anchor="middle" textLength="13.6" lengthAdjust="spacing" transform="translate(566.7 275.3)">32</text>
<text font-size="11.65" fill="#231f20" text-anchor="middle" textLength="13.6" lengthAdjust="spacing" transform="translate(605.4 275.3)">24</text>
<text font-size="11.65" fill="#231f20" text-anchor="middle" textLength="13.6" lengthAdjust="spacing" transform="translate(634.7 275.3)">20</text>
<text font-size="11.65" fill="#231f20" text-anchor="middle" textLength="13.6" lengthAdjust="spacing" transform="translate(658.3 275.3)">18</text>
<text font-size="11.65" fill="#231f20" text-anchor="middle" textLength="13.6" lengthAdjust="spacing" transform="translate(682.6 275.3)">16</text>
<text font-size="11.65" fill="#231f20" text-anchor="middle" textLength="13.6" lengthAdjust="spacing" transform="translate(722.7 277.5)">14</text>
<text font-size="11.65" fill="#231f20" text-anchor="middle" textLength="13.6" lengthAdjust="spacing" transform="translate(759.8 275.3)">12</text>
<circle cx="464.9" cy="13.3" r="10.8" fill="#fff" stroke="#8a8a8a" stroke-width="0.7"/>
<text font-size="21.84" fill="#231f20" text-anchor="middle" font-weight="bold" transform="translate(464.9 18.9) scale(1.1 1)">b</text>
<text font-size="18.10" fill="#231f20" textLength="167.3" lengthAdjust="spacing" transform="translate(480.3 21.5) scale(1.1 1)">16WDG17 Eclogite</text>
<line x1="451.20" y1="23.50" x2="732.95" y2="294.00" stroke="#231f20" stroke-width="1.0"/>
<ellipse cx="507.30" cy="77.30" rx="7.50" ry="10.80" fill="rgba(20,160,95,0.42)" stroke="rgba(10,100,55,0.65)" stroke-width="0.5" transform="rotate(-8 507.3 77.3)"/>
<ellipse cx="515.00" cy="95.00" rx="5.00" ry="11.30" fill="rgba(20,160,95,0.42)" stroke="rgba(10,100,55,0.65)" stroke-width="0.5" transform="rotate(-5 515.0 95.0)"/>
<ellipse cx="534.70" cy="96.70" rx="11.00" ry="12.50" fill="rgba(20,160,95,0.42)" stroke="rgba(10,100,55,0.65)" stroke-width="0.5"/>
<ellipse cx="571.00" cy="136.70" rx="10.00" ry="12.30" fill="rgba(20,160,95,0.42)" stroke="rgba(10,100,55,0.65)" stroke-width="0.5"/>
<ellipse cx="580.70" cy="135.00" rx="7.50" ry="18.00" fill="rgba(20,160,95,0.42)" stroke="rgba(10,100,55,0.65)" stroke-width="0.5" transform="rotate(3 580.7 135.0)"/>
<ellipse cx="593.30" cy="163.30" rx="9.50" ry="17.50" fill="rgba(20,160,95,0.42)" stroke="rgba(10,100,55,0.65)" stroke-width="0.5" transform="rotate(-12 593.3 163.3)"/>
<ellipse cx="609.00" cy="166.70" rx="13.20" ry="12.00" fill="rgba(20,160,95,0.42)" stroke="rgba(10,100,55,0.65)" stroke-width="0.5"/>
<ellipse cx="621.70" cy="182.00" rx="9.30" ry="4.00" fill="rgba(20,160,95,0.42)" stroke="rgba(10,100,55,0.65)" stroke-width="0.5" transform="rotate(-8 621.7 182.0)"/>
<ellipse cx="632.30" cy="195.70" rx="8.70" ry="7.20" fill="rgba(20,160,95,0.42)" stroke="rgba(10,100,55,0.65)" stroke-width="0.5"/>
<ellipse cx="638.70" cy="198.30" rx="8.00" ry="5.80" fill="rgba(20,160,95,0.42)" stroke="rgba(10,100,55,0.65)" stroke-width="0.5"/>
<ellipse cx="666.70" cy="244.30" rx="12.70" ry="5.00" fill="rgba(20,160,95,0.42)" stroke="rgba(10,100,55,0.65)" stroke-width="0.5"/>
<ellipse cx="589.30" cy="245.00" rx="10.00" ry="10.80" fill="#bdbdbd" stroke="#555" stroke-width="0.6"/>
<path d="M487.0,40.0 C479.0,39.5 476.0,34.5 481.5,33.0 C488.5,31.5 491.5,27.5 484.5,26.8 L470.5,25.3" fill="none" stroke="#231f20" stroke-width="1.1"/>
<path d="M475.0,22.8 L470.0,25.3 L474.3,28.6" fill="none" stroke="#231f20" stroke-width="1.1"/>
<text font-size="16.12" fill="#231f20" textLength="81.4" lengthAdjust="spacing" transform="translate(491.0 39.5) scale(1.1 1)"><tspan font-size="8.11" dy="-7.0" letter-spacing="0.9">207</tspan><tspan font-size="16.12" dy="7.0">Pb/</tspan><tspan font-size="8.11" dy="-7.0" letter-spacing="0.9">206</tspan><tspan font-size="16.12" dy="7.0">Pb=</tspan></text>
<text font-size="15.08" fill="#231f20" textLength="81.4" lengthAdjust="spacing" transform="translate(491.0 56.5) scale(1.1 1)">0.836 ± 0.02</text>
<text font-size="16.64" fill="#231f20" text-anchor="end" textLength="83.5" lengthAdjust="spacing" transform="translate(776.5 204.0) scale(1.1 1)">Intercept at</text>
<text font-size="16.64" fill="#231f20" text-anchor="end" textLength="90.5" lengthAdjust="spacing" transform="translate(776.5 222.7) scale(1.1 1)">13.9±0.4 Ma</text>
<text font-size="16.64" fill="#231f20" text-anchor="end" textLength="85.7" lengthAdjust="spacing" transform="translate(776.5 241.7) scale(1.1 1)">MSWD=1.8</text>
<text font-size="16.64" fill="#231f20" text-anchor="end" textLength="62.8" lengthAdjust="spacing" transform="translate(776.5 261.0) scale(1.1 1)">N=11/12</text>
<line x1="846.20" y1="294.00" x2="1191.80" y2="294.00" stroke="#231f20" stroke-width="1.4"/>
<line x1="1191.20" y1="0.00" x2="1191.20" y2="294.00" stroke="#231f20" stroke-width="1.3"/>
<line x1="845.60" y1="0.50" x2="1191.80" y2="0.50" stroke="#111" stroke-width="1.6"/>
<line x1="846.20" y1="294.00" x2="853.20" y2="294.00" stroke="#231f20" stroke-width="1.15"/>
<line x1="846.20" y1="261.38" x2="851.20" y2="261.38" stroke="#231f20" stroke-width="1.15"/>
<line x1="846.20" y1="228.75" x2="853.20" y2="228.75" stroke="#231f20" stroke-width="1.15"/>
<line x1="846.20" y1="196.12" x2="851.20" y2="196.12" stroke="#231f20" stroke-width="1.15"/>
<line x1="846.20" y1="163.50" x2="853.20" y2="163.50" stroke="#231f20" stroke-width="1.15"/>
<line x1="846.20" y1="130.88" x2="851.20" y2="130.88" stroke="#231f20" stroke-width="1.15"/>
<line x1="846.20" y1="98.25" x2="853.20" y2="98.25" stroke="#231f20" stroke-width="1.15"/>
<line x1="846.20" y1="65.63" x2="851.20" y2="65.63" stroke="#231f20" stroke-width="1.15"/>
<line x1="846.20" y1="33.00" x2="853.20" y2="33.00" stroke="#231f20" stroke-width="1.15"/>
<line x1="846.20" y1="294.00" x2="846.20" y2="287.00" stroke="#231f20" stroke-width="1.15"/>
<line x1="874.95" y1="294.00" x2="874.95" y2="289.00" stroke="#231f20" stroke-width="1.15"/>
<line x1="903.70" y1="294.00" x2="903.70" y2="287.00" stroke="#231f20" stroke-width="1.15"/>
<line x1="932.45" y1="294.00" x2="932.45" y2="289.00" stroke="#231f20" stroke-width="1.15"/>
<line x1="961.20" y1="294.00" x2="961.20" y2="287.00" stroke="#231f20" stroke-width="1.15"/>
<line x1="989.95" y1="294.00" x2="989.95" y2="289.00" stroke="#231f20" stroke-width="1.15"/>
<line x1="1018.70" y1="294.00" x2="1018.70" y2="287.00" stroke="#231f20" stroke-width="1.15"/>
<line x1="1047.45" y1="294.00" x2="1047.45" y2="289.00" stroke="#231f20" stroke-width="1.15"/>
<line x1="1076.20" y1="294.00" x2="1076.20" y2="287.00" stroke="#231f20" stroke-width="1.15"/>
<line x1="1104.95" y1="294.00" x2="1104.95" y2="289.00" stroke="#231f20" stroke-width="1.15"/>
<line x1="1133.70" y1="294.00" x2="1133.70" y2="287.00" stroke="#231f20" stroke-width="1.15"/>
<line x1="1162.45" y1="294.00" x2="1162.45" y2="289.00" stroke="#231f20" stroke-width="1.15"/>
<line x1="1191.20" y1="294.00" x2="1191.20" y2="287.00" stroke="#231f20" stroke-width="1.15"/>
<text font-size="12.48" fill="#231f20" text-anchor="end" textLength="17.7" lengthAdjust="spacing" transform="translate(842.9 296.0) scale(1.1 1)">0.0</text>
<text font-size="12.48" fill="#231f20" text-anchor="end" textLength="17.7" lengthAdjust="spacing" transform="translate(842.9 232.3) scale(1.1 1)">0.2</text>
<text font-size="12.48" fill="#231f20" text-anchor="end" textLength="17.7" lengthAdjust="spacing" transform="translate(842.9 167.1) scale(1.1 1)">0.4</text>
<text font-size="12.48" fill="#231f20" text-anchor="end" textLength="17.7" lengthAdjust="spacing" transform="translate(842.9 101.8) scale(1.1 1)">0.6</text>
<text font-size="12.48" fill="#231f20" text-anchor="end" textLength="17.7" lengthAdjust="spacing" transform="translate(842.9 36.6) scale(1.1 1)">0.8</text>
<text font-size="12.48" fill="#231f20" text-anchor="middle" transform="translate(846.2 306.3) scale(1.1 1)">0</text>
<text font-size="12.48" fill="#231f20" text-anchor="middle" textLength="22.3" lengthAdjust="spacing" transform="translate(903.7 306.3) scale(1.1 1)">100</text>
<text font-size="12.48" fill="#231f20" text-anchor="middle" textLength="22.3" lengthAdjust="spacing" transform="translate(961.2 306.3) scale(1.1 1)">200</text>
<text font-size="12.48" fill="#231f20" text-anchor="middle" textLength="22.3" lengthAdjust="spacing" transform="translate(1018.7 306.3) scale(1.1 1)">300</text>
<text font-size="12.48" fill="#231f20" text-anchor="middle" textLength="22.3" lengthAdjust="spacing" transform="translate(1076.2 306.3) scale(1.1 1)">400</text>
<text font-size="12.48" fill="#231f20" text-anchor="middle" textLength="22.3" lengthAdjust="spacing" transform="translate(1133.7 306.3) scale(1.1 1)">500</text>
<text font-size="12.48" fill="#231f20" text-anchor="middle" textLength="22.3" lengthAdjust="spacing" transform="translate(1191.2 306.3) scale(1.1 1)">600</text>
<text font-size="20.59" fill="#231f20" textLength="93.8" lengthAdjust="spacing" transform="translate(818.2 193.2) rotate(-90) scale(1.05 1)"><tspan font-size="10.40" dy="-10.0" letter-spacing="1.0">207</tspan><tspan font-size="20.59" dy="10.0">Pb/</tspan><tspan font-size="10.40" dy="-10.0" letter-spacing="1.0">206</tspan><tspan font-size="20.59" dy="10.0">Pb</tspan></text>
<text font-size="19.55" fill="#231f20" textLength="75.5" lengthAdjust="spacing" transform="translate(963.5 325.0) scale(1.1 1)"><tspan font-size="9.15" dy="-9.0" letter-spacing="1.0">238</tspan><tspan font-size="19.55" dy="9.0">U/</tspan><tspan font-size="9.15" dy="-9.0" letter-spacing="1.0">206</tspan><tspan font-size="19.55" dy="9.0">Pb</tspan></text>
<polyline points="1191.2,278.9 1187.8,278.9 1184.4,278.9 1181.0,278.9 1177.7,278.9 1174.4,278.9 1171.2,278.9 1168.0,278.9 1164.8,278.9 1161.6,278.9 1158.5,278.9 1155.4,278.9 1152.3,278.9 1149.3,278.9 1146.3,278.9 1143.3,278.9 1140.4,278.9 1137.5,278.9 1134.6,278.9 1131.7,278.9 1128.9,278.9 1126.1,278.9 1123.3,278.9 1120.6,278.9 1117.8,278.9 1115.2,278.9 1112.5,278.9 1109.9,278.9 1107.2,278.9 1104.7,278.9 1102.1,278.9 1099.6,278.9 1097.0,278.9 1094.6,278.9 1092.1,278.9 1089.7,278.9 1087.2,278.9 1084.9,278.9 1082.5,278.9 1080.1,278.9 1077.8,278.9 1075.5,278.9 1073.3,278.9 1071.0,278.9 1068.8,278.9 1066.6,278.9 1064.4,278.9 1062.2,278.9 1060.1,278.9 1058.0,278.9 1055.9,278.9 1053.8,278.9 1051.7,278.9 1049.7,278.9 1047.7,278.9 1045.7,278.9 1043.7,278.9 1041.7,278.9 1039.8,278.9 1037.9,278.9 1036.0,278.9 1034.1,278.9 1032.2,278.9 1030.4,278.9 1028.6,278.9 1026.8,278.8 1025.0,278.8 1023.2,278.8 1021.4,278.8 1019.7,278.8 1018.0,278.8 1016.3,278.8 1014.6,278.8 1012.9,278.8 1011.3,278.8 1009.6,278.8 1008.0,278.8 1006.4,278.8 1004.8,278.8 1003.2,278.8 1001.7,278.8 1000.1,278.8 998.6,278.8 997.1,278.8 995.6,278.8 994.1,278.8 992.7,278.8 991.2,278.8 989.8,278.8 988.3,278.8 986.9,278.8 985.5,278.8 984.1,278.8 982.8,278.8 981.4,278.8 980.1,278.8 978.8,278.8 977.4,278.8 976.1,278.8 974.8,278.8 973.6,278.8 972.3,278.8 971.1,278.8 969.8,278.8 968.6,278.8 967.4,278.8 966.2,278.8 965.0,278.8 963.8,278.8 962.6,278.8 961.5,278.8 960.3,278.8 959.2,278.8 958.1,278.8 957.0,278.8 955.9,278.8 954.8,278.8 953.7,278.8 952.6,278.8 951.6,278.8 950.5,278.8 949.5,278.8 948.5,278.7 947.5,278.7 946.5,278.7 945.5,278.7 944.5,278.7 943.5,278.7 942.5,278.7 941.6,278.7 940.6,278.7 939.7,278.7 938.8,278.7 937.8,278.7 936.9,278.7 936.0,278.7 935.1,278.7 934.3,278.7 933.4,278.7 932.5,278.7 931.7,278.7 930.8,278.7 930.0,278.7 929.1,278.7 928.3,278.7 927.5,278.7 926.7,278.7 925.9,278.7 925.1,278.7 924.3,278.7 923.5,278.7 922.8,278.7 922.0,278.7 921.3,278.7 920.5,278.7 919.8,278.7 919.0,278.7 918.3,278.7 917.6,278.7 916.9,278.6 916.2,278.6 915.5,278.6 914.8,278.6 914.1,278.6 913.4,278.6 912.8,278.6 912.1,278.6 911.5,278.6 910.8,278.6 910.2,278.6 909.5,278.6 908.9,278.6 908.3,278.6 907.7,278.6 907.0,278.6 906.4,278.6 905.8,278.6 905.2,278.6 904.7,278.6 904.1,278.6 903.5,278.6 902.9,278.6 902.4,278.6 901.8,278.6 901.3,278.6 900.7,278.5 900.2,278.5 899.6,278.5 899.1,278.5 898.6,278.5 898.0,278.5 897.5,278.5 897.0,278.5 896.5,278.5 896.0,278.5 895.5,278.5 895.0,278.5 894.5,278.5 894.1,278.5 893.6,278.5 893.1,278.5 892.6,278.5 892.2,278.5 891.7,278.5 891.3,278.5 890.8,278.5 890.4,278.4 889.9,278.4 889.5,278.4 889.1,278.4 888.6,278.4 888.2,278.4 887.8,278.4 887.4,278.4 887.0,278.4 886.6,278.4 886.2,278.4 885.8,278.4 885.4,278.4 885.0,278.4 884.6,278.4 884.2,278.4 883.8,278.4 883.5,278.3 883.1,278.3 882.7,278.3 882.4,278.3 882.0,278.3 881.6,278.3 881.3,278.3 880.9,278.3 880.6,278.3 880.2,278.3 879.9,278.3 879.6,278.3 879.2,278.3 878.9,278.3 878.6,278.2 878.2,278.2 877.9,278.2 877.6,278.2 877.3,278.2 877.0,278.2 876.7,278.2 876.4,278.2 876.1,278.2 875.8,278.2 875.5,278.2 875.2,278.2 874.9,278.1 874.6,278.1 874.3,278.1 874.0,278.1 873.8,278.1 873.5,278.1 873.2,278.1 872.9,278.1 872.7,278.1 872.4,278.1 872.2,278.1 871.9,278.0 871.6,278.0 871.4,278.0 871.1,278.0 870.9,278.0 870.6,278.0 870.4,278.0 870.1,278.0 869.9,278.0 869.7,278.0 869.4,277.9 869.2,277.9 869.0,277.9 868.7,277.9 868.5,277.9 868.3,277.9 868.1,277.9 867.8,277.9 867.6,277.9 867.4,277.8 867.2,277.8 867.0,277.8 866.8,277.8 866.6,277.8 866.4,277.8 866.2,277.8 866.0,277.8 865.8,277.7 865.6,277.7 865.4,277.7 865.2,277.7 865.0,277.7 864.8,277.7 864.6,277.7 864.4,277.7 864.3,277.6 864.1,277.6 863.9,277.6 863.7,277.6 863.5,277.6 863.4,277.6 863.2,277.5 863.0,277.5 862.8,277.5 862.7,277.5 862.5,277.5 862.4,277.5 862.2,277.5 862.0,277.4 861.9,277.4 861.7,277.4 861.6,277.4 861.4,277.4 861.2,277.4 861.1,277.3 860.9,277.3 860.8,277.3 860.6,277.3 860.5,277.3 860.4,277.2 860.2,277.2 860.1,277.2 859.9,277.2 859.8,277.2 859.7,277.2 859.5,277.1 859.4,277.1 859.3,277.1 859.1,277.1 859.0,277.0 858.9,277.0 858.7,277.0 858.6,277.0 858.5,277.0 858.4,276.9 858.2,276.9 858.1,276.9 858.0,276.9 857.9,276.9 857.8,276.8 857.6,276.8 857.5,276.8 857.4,276.8 857.3,276.7 857.2,276.7 857.1,276.7 857.0,276.7 856.8,276.6 856.7,276.6 856.6,276.6 856.5,276.6 856.4,276.5 856.3,276.5 856.2,276.5 856.1,276.4 856.0,276.4 855.9,276.4 855.8,276.4 855.7,276.3 855.6,276.3 855.5,276.3 855.4,276.2 855.3,276.2 855.2,276.2 855.1,276.1 855.1,276.1 855.0,276.1 854.9,276.0 854.8,276.0 854.7,276.0 854.6,275.9 854.5,275.9 854.4,275.9 854.4,275.8 854.3,275.8 854.2,275.8 854.1,275.7 854.0,275.7 853.9,275.7 853.9,275.6 853.8,275.6 853.7,275.5 853.6,275.5 853.6,275.5 853.5,275.4 853.4,275.4 853.3,275.3 853.3,275.3 853.2,275.2 853.1,275.2 853.0,275.2 853.0,275.1 852.9,275.1 852.8,275.0 852.8,275.0 852.7,274.9 852.6,274.9 852.6,274.8 852.5,274.8 852.4,274.7 852.4,274.7 852.3,274.6 852.2,274.6 852.2,274.5 852.1,274.5 852.1,274.4 852.0,274.4 851.9,274.3 851.9,274.3 851.8,274.2 851.8,274.1 851.7,274.1 851.6,274.0 851.6,274.0 851.5,273.9 851.5,273.8 851.4,273.8 851.4,273.7 851.3,273.6 851.3,273.6 851.2,273.5 851.2,273.4 851.1,273.4 851.0,273.3 851.0,273.2 850.9,273.2 850.9,273.1 850.8,273.0 850.8,272.9 850.8,272.9 850.7,272.8 850.7,272.7 850.6,272.6 850.6,272.6 850.5,272.5 850.5,272.4 850.4,272.3 850.4,272.2 850.3,272.1 850.3,272.0 850.3,272.0 850.2,271.9 850.2,271.8 850.1,271.7 850.1,271.6 850.0,271.5 850.0,271.4 850.0,271.3 849.9,271.2 849.9,271.1 849.8,271.0 849.8,270.9 849.8,270.8 849.7,270.7 849.7,270.5 849.7,270.4 849.6,270.3 849.6,270.2 849.5,270.1 849.5,270.0 849.5,269.8 849.4,269.7 849.4,269.6 849.4,269.4 849.3,269.3 849.3,269.2 849.3,269.0 849.2,268.9 849.2,268.8 849.2,268.6 849.1,268.5 849.1,268.3 849.1,268.2 849.0,268.0 849.0,267.9 849.0,267.7 848.9,267.5 848.9,267.4 848.9,267.2 848.9,267.0 848.8,266.9 848.8,266.7 848.8,266.5 848.7,266.3 848.7,266.1 848.7,265.9 848.7,265.7 848.6,265.5 848.6,265.3 848.6,265.1 848.6,264.9 848.5,264.7 848.5,264.5 848.5,264.3 848.5,264.0 848.4,263.8 848.4,263.6 848.4,263.3 848.4,263.1 848.3,262.8 848.3,262.6 848.3,262.3 848.3,262.0 848.2,261.8 848.2,261.5 848.2,261.2 848.2,260.9 848.1,260.6 848.1,260.3 848.1,260.0 848.1,259.7 848.1,259.4 848.0,259.0 848.0,258.7 848.0,258.4 848.0,258.0 848.0,257.7 847.9,257.3 847.9,256.9 847.9,256.5 847.9,256.1 847.9,255.7 847.8,255.3 847.8,254.9 847.8,254.5 847.8,254.0 847.8,253.6 847.8,253.1 847.7,252.6 847.7,252.2 847.7,251.7 847.7,251.2 847.7,250.6 847.6,250.1 847.6,249.6 847.6,249.0 847.6,248.4 847.6,247.8 847.6,247.2 847.5,246.6 847.5,246.0 847.5,245.3 847.5,244.6 847.5,244.0 847.5,243.3 847.5,242.5 847.4,241.8 847.4,241.0 847.4,240.2 847.4,239.4 847.4,238.6 847.4,237.7 847.4,236.9 847.3,236.0 847.3,235.0 847.3,234.1 847.3,233.1 847.3,232.1 847.3,231.0 847.3,230.0 847.2,228.9 847.2,227.7 847.2,226.6 847.2,225.3 847.2,224.1 847.2,222.8 847.2,221.5 847.2,220.1 847.1,218.7 847.1,217.3 847.1,215.8 847.1,214.2 847.1,212.6 847.1,211.0 847.1,209.2 847.1,207.5 847.1,205.7 847.0,203.8 847.0,201.8 847.0,199.8 847.0,197.7 847.0,195.5 847.0,193.3 847.0,191.0 847.0,188.6 847.0,186.1 847.0,183.5 846.9,180.8 846.9,178.0 846.9,175.1 846.9,172.2 846.9,169.1 846.9,165.8 846.9,162.5 846.9,159.0 846.9,155.4 846.9,151.6 846.9,147.7 846.8,143.6 846.8,139.4 846.8,135.0 846.8,130.4 846.8,125.6 846.8,120.6 846.8,115.4 846.8,110.0 846.8,104.3 846.8,98.4 846.8,92.2 846.8,85.8 846.7,79.1 846.7,72.0 846.7,64.7 846.7,57.0 846.7,48.9 846.7,40.5 846.7,31.6 846.7,22.4 846.7,12.7 846.7,2.5" fill="none" stroke="#3b399e" stroke-width="1.45" stroke-linejoin="round"/>
<line x1="846.20" y1="0.00" x2="846.20" y2="280.00" stroke="#23227c" stroke-width="1.7"/>
<line x1="846.20" y1="280.00" x2="846.20" y2="294.00" stroke="#231f20" stroke-width="1.5"/>
<circle cx="1154.80" cy="278.90" r="1.6" fill="#fff" stroke="#3b399e" stroke-width="0.7"/>
<circle cx="1110.68" cy="278.89" r="1.6" fill="#fff" stroke="#3b399e" stroke-width="0.7"/>
<circle cx="1077.58" cy="278.88" r="1.6" fill="#fff" stroke="#3b399e" stroke-width="0.7"/>
<circle cx="1051.84" cy="278.86" r="1.6" fill="#fff" stroke="#3b399e" stroke-width="0.7"/>
<circle cx="1031.25" cy="278.85" r="1.6" fill="#fff" stroke="#3b399e" stroke-width="0.7"/>
<circle cx="1000.36" cy="278.83" r="1.6" fill="#fff" stroke="#3b399e" stroke-width="0.7"/>
<circle cx="961.75" cy="278.78" r="1.6" fill="#fff" stroke="#3b399e" stroke-width="0.7"/>
<circle cx="855.18" cy="276.15" r="1.6" fill="#fff" stroke="#3b399e" stroke-width="0.7"/>
<circle cx="850.55" cy="272.53" r="1.6" fill="#fff" stroke="#3b399e" stroke-width="0.7"/>
<circle cx="849.01" cy="267.86" r="1.6" fill="#fff" stroke="#3b399e" stroke-width="0.7"/>
<circle cx="848.24" cy="261.79" r="1.6" fill="#fff" stroke="#3b399e" stroke-width="0.7"/>
<circle cx="847.78" cy="253.88" r="1.6" fill="#fff" stroke="#3b399e" stroke-width="0.7"/>
<circle cx="847.47" cy="243.49" r="1.6" fill="#fff" stroke="#3b399e" stroke-width="0.7"/>
<circle cx="847.26" cy="229.79" r="1.6" fill="#fff" stroke="#3b399e" stroke-width="0.7"/>
<circle cx="847.09" cy="211.65" r="1.6" fill="#fff" stroke="#3b399e" stroke-width="0.7"/>
<circle cx="846.97" cy="187.53" r="1.6" fill="#fff" stroke="#3b399e" stroke-width="0.7"/>
<circle cx="846.87" cy="155.34" r="1.6" fill="#fff" stroke="#3b399e" stroke-width="0.7"/>
<circle cx="846.79" cy="112.23" r="1.6" fill="#fff" stroke="#3b399e" stroke-width="0.7"/>
<circle cx="846.72" cy="54.33" r="1.6" fill="#fff" stroke="#3b399e" stroke-width="0.7"/>
<text font-size="12.48" fill="#231f20" textLength="27.7" lengthAdjust="spacing" transform="translate(850.9 116.4) scale(1.1 1)">4400</text>
<text font-size="12.48" fill="#231f20" textLength="27.7" lengthAdjust="spacing" transform="translate(851.2 191.5) scale(1.1 1)">3600</text>
<text font-size="12.48" fill="#231f20" textLength="27.7" lengthAdjust="spacing" transform="translate(855.0 233.4) scale(1.1 1)">2800</text>
<text font-size="12.48" fill="#231f20" textLength="27.7" lengthAdjust="spacing" transform="translate(852.9 255.3) scale(1.1 1)">2000</text>
<text font-size="12.48" fill="#231f20" textLength="27.7" lengthAdjust="spacing" transform="translate(852.4 270.9) scale(1.1 1)">1200</text>
<text font-size="11.65" fill="#231f20" text-anchor="middle" textLength="13.6" lengthAdjust="spacing" transform="translate(954.2 289.3)">32</text>
<text font-size="11.65" fill="#231f20" text-anchor="middle" textLength="13.6" lengthAdjust="spacing" transform="translate(999.9 289.3)">24</text>
<text font-size="11.65" fill="#231f20" text-anchor="middle" textLength="13.6" lengthAdjust="spacing" transform="translate(1031.2 289.3)">20</text>
<text font-size="11.65" fill="#231f20" text-anchor="middle" textLength="13.6" lengthAdjust="spacing" transform="translate(1051.8 289.3)">18</text>
<text font-size="11.65" fill="#231f20" text-anchor="middle" textLength="13.6" lengthAdjust="spacing" transform="translate(1087.1 289.3)">16</text>
<text font-size="11.65" fill="#231f20" text-anchor="middle" textLength="13.6" lengthAdjust="spacing" transform="translate(1118.2 289.3)">14</text>
<text font-size="11.65" fill="#231f20" text-anchor="middle" textLength="13.6" lengthAdjust="spacing" transform="translate(1154.8 289.3)">12</text>
<circle cx="859.9" cy="13.3" r="10.8" fill="#fff" stroke="#8a8a8a" stroke-width="0.7"/>
<text font-size="21.84" fill="#231f20" text-anchor="middle" font-weight="bold" transform="translate(859.9 18.9) scale(1.1 1)">c</text>
<text font-size="18.10" fill="#231f20" textLength="167.3" lengthAdjust="spacing" transform="translate(875.5 20.6) scale(1.1 1)">16WDG19 Eclogite</text>
<line x1="846.20" y1="23.50" x2="1113.29" y2="294.00" stroke="#231f20" stroke-width="1.0"/>
<ellipse cx="942.70" cy="116.00" rx="14.50" ry="20.50" fill="rgba(237,40,50,0.36)" stroke="rgba(150,30,40,0.6)" stroke-width="0.5" transform="rotate(-8 942.7 116.0)"/>
<ellipse cx="975.00" cy="142.70" rx="14.70" ry="18.70" fill="rgba(237,40,50,0.36)" stroke="rgba(150,30,40,0.6)" stroke-width="0.5"/>
<ellipse cx="980.00" cy="139.30" rx="9.70" ry="15.70" fill="rgba(237,40,50,0.36)" stroke="rgba(150,30,40,0.6)" stroke-width="0.5"/>
<ellipse cx="986.00" cy="156.00" rx="14.20" ry="21.70" fill="rgba(237,40,50,0.36)" stroke="rgba(150,30,40,0.6)" stroke-width="0.5" transform="rotate(-5 986.0 156.0)"/>
<ellipse cx="989.00" cy="176.00" rx="12.20" ry="20.00" fill="rgba(237,40,50,0.36)" stroke="rgba(150,30,40,0.6)" stroke-width="0.5" transform="rotate(-3 989.0 176.0)"/>
<ellipse cx="1048.30" cy="211.70" rx="23.00" ry="13.80" fill="rgba(237,40,50,0.36)" stroke="rgba(150,30,40,0.6)" stroke-width="0.5"/>
<ellipse cx="1040.70" cy="216.00" rx="15.20" ry="11.00" fill="rgba(237,40,50,0.36)" stroke="rgba(150,30,40,0.6)" stroke-width="0.5"/>
<ellipse cx="1045.70" cy="240.30" rx="15.80" ry="8.30" fill="rgba(237,40,50,0.36)" stroke="rgba(150,30,40,0.6)" stroke-width="0.5"/>
<ellipse cx="1074.00" cy="238.30" rx="23.50" ry="10.80" fill="rgba(237,40,50,0.36)" stroke="rgba(150,30,40,0.6)" stroke-width="0.5"/>
<ellipse cx="1080.00" cy="241.70" rx="23.70" ry="8.00" fill="rgba(237,40,50,0.36)" stroke="rgba(150,30,40,0.6)" stroke-width="0.5"/>
<ellipse cx="1101.70" cy="257.70" rx="31.70" ry="8.30" fill="rgba(237,40,50,0.36)" stroke="rgba(150,30,40,0.6)" stroke-width="0.5"/>
<ellipse cx="1093.30" cy="261.70" rx="32.80" ry="9.50" fill="rgba(237,40,50,0.36)" stroke="rgba(150,30,40,0.6)" stroke-width="0.5"/>
<ellipse cx="1087.30" cy="266.00" rx="34.00" ry="9.50" fill="rgba(237,40,50,0.36)" stroke="rgba(150,30,40,0.6)" stroke-width="0.5"/>
<ellipse cx="1080.00" cy="267.70" rx="26.30" ry="7.80" fill="rgba(237,40,50,0.36)" stroke="rgba(150,30,40,0.6)" stroke-width="0.5"/>
<ellipse cx="1128.30" cy="268.30" rx="33.00" ry="5.80" fill="rgba(237,40,50,0.36)" stroke="rgba(150,30,40,0.6)" stroke-width="0.5"/>
<ellipse cx="1079.30" cy="269.30" rx="20.00" ry="6.00" fill="rgba(237,40,50,0.36)" stroke="rgba(150,30,40,0.6)" stroke-width="0.5"/>
<ellipse cx="1090.00" cy="268.00" rx="17.00" ry="5.00" fill="rgba(237,40,50,0.36)" stroke="rgba(150,30,40,0.6)" stroke-width="0.5"/>
<ellipse cx="1085.00" cy="267.00" rx="22.00" ry="6.50" fill="rgba(237,40,50,0.36)" stroke="rgba(150,30,40,0.6)" stroke-width="0.5"/>
<path d="M887.0,43.8 C879.0,43.3 876.0,38.3 881.5,36.8 C888.5,35.3 891.5,31.3 884.5,30.6 L870.5,29.1" fill="none" stroke="#231f20" stroke-width="1.1"/>
<path d="M875.0,26.6 L870.0,29.1 L874.3,32.4" fill="none" stroke="#231f20" stroke-width="1.1"/>
<text font-size="16.12" fill="#231f20" textLength="81.4" lengthAdjust="spacing" transform="translate(892.0 42.0) scale(1.1 1)"><tspan font-size="8.11" dy="-7.0" letter-spacing="0.9">207</tspan><tspan font-size="16.12" dy="7.0">Pb/</tspan><tspan font-size="8.11" dy="-7.0" letter-spacing="0.9">206</tspan><tspan font-size="16.12" dy="7.0">Pb=</tspan></text>
<text font-size="15.08" fill="#231f20" textLength="81.4" lengthAdjust="spacing" transform="translate(892.0 59.0) scale(1.1 1)">0.836 ± 0.02</text>
<text font-size="16.64" fill="#231f20" text-anchor="end" textLength="83.5" lengthAdjust="spacing" transform="translate(1189.0 185.0) scale(1.1 1)">Intercept at</text>
<text font-size="16.64" fill="#231f20" text-anchor="end" textLength="90.5" lengthAdjust="spacing" transform="translate(1189.0 204.0) scale(1.1 1)">14.5±0.6 Ma</text>
<text font-size="16.64" fill="#231f20" text-anchor="end" textLength="85.7" lengthAdjust="spacing" transform="translate(1189.0 222.7) scale(1.1 1)">MSWD=2.2</text>
<text font-size="16.64" fill="#231f20" text-anchor="end" textLength="62.8" lengthAdjust="spacing" transform="translate(1189.0 241.7) scale(1.1 1)">N=18/18</text>
<g clip-path="url(#cp1)">
<rect x="251.30" y="29.00" width="146.00" height="118.30" fill="#2b2b2b"/>
<g filter="url(#b15)">
<polygon points="280.0,53.3 300.0,48.0 325.3,42.7 354.7,37.3 368.0,46.7 381.3,73.3 386.7,100.0 380.0,121.3 360.0,132.0 322.7,137.3 290.7,142.7 276.0,132.0 262.7,105.3 262.0,89.3 273.3,64.0" fill="#5a5a5a"/>
<polygon points="326.7,45.3 354.7,37.3 368.0,46.7 381.3,73.3 386.0,97.3 373.3,89.3 366.7,84.0 341.3,82.7 332.0,60.0" fill="#696969"/>
<polygon points="309.3,97.3 333.3,92.0 341.3,98.7 350.7,100.0 356.0,110.7 373.3,112.0 381.3,118.7 360.0,132.0 322.7,137.3 290.7,142.7 289.3,137.3 298.7,113.3" fill="#747474"/>
<polygon points="318.7,92.7 338.7,84.0 360.0,89.3 370.7,101.3 364.0,106.7 354.7,105.3 346.7,96.0 333.3,91.3" fill="#444"/>
</g>
<rect x="251.3" y="29.0" width="146.0" height="118.3" filter="url(#nz)" opacity="0.1"/>
</g>
<text font-size="16.64" fill="#fff" textLength="89.5" lengthAdjust="spacing" transform="translate(254.0 42.7) scale(1.1 1)">14.2±0.4 Ma</text>
<ellipse cx="349.60" cy="67.30" rx="24.00" ry="16.20" fill="none" stroke="#fff" stroke-width="1.9"/>
<text font-size="15.60" fill="#fff" text-anchor="middle" transform="translate(349.6 72.7) scale(1.1 1)">13</text>
<text font-size="16.64" fill="#fff" textLength="40.4" lengthAdjust="spacing" transform="translate(351.3 137.3) scale(1.1 1)">25µm</text>
<rect x="345.30" y="143.30" width="49.70" height="2.50" fill="#fff"/>
<g clip-path="url(#cp2)">
<rect x="94.40" y="177.30" width="125.60" height="82.70" fill="#2e2e2e"/>
<g filter="url(#b15)">
<path d="M98.1,223.8 C97.5,218.3 99.3,212.7 101.2,207.5 C103.2,202.3 105.8,196.5 110.0,192.5 C114.2,188.5 118.8,185.7 126.2,183.8 C133.8,181.8 145.2,180.2 155.0,180.6 C164.8,181.0 177.3,182.8 185.0,186.2 C192.7,189.7 196.2,195.2 201.2,201.2 C206.2,207.3 213.5,216.5 215.0,222.5 C216.5,228.5 212.9,233.1 210.0,237.5 C207.1,241.9 203.8,245.6 197.5,248.8 C191.2,251.9 180.8,255.0 172.5,256.2 C164.2,257.5 155.8,257.1 147.5,256.2 C139.2,255.4 129.6,254.0 122.5,251.2 C115.4,248.5 109.1,244.6 105.0,240.0 C100.9,235.4 98.8,229.2 98.1,223.8Z" fill="#6b6b6b" stroke="#8c8c8c" stroke-width="2.2"/>
<polygon points="163.8,223.8 172.5,212.5 192.5,206.2 203.8,220.0 197.5,237.5 181.2,241.2" fill="#7d7d7d"/>
</g>
<g filter="url(#b08)">
<polygon points="168.1,216.9 175.0,214.4 180.0,216.2 185.0,211.2 192.5,210.6 198.1,220.0 198.8,226.2 193.8,232.5 185.0,233.8 178.8,228.8 172.5,222.5" fill="#c6c6c6"/>
</g>
<rect x="94.4" y="177.3" width="125.6" height="82.7" filter="url(#nz)" opacity="0.1"/>
</g>
<text font-size="16.64" fill="#fff" textLength="89.6" lengthAdjust="spacing" transform="translate(95.4 191.0) scale(1.1 1)">13.4±0.4 Ma</text>
<ellipse cx="128.40" cy="215.40" rx="21.60" ry="14.50" fill="none" stroke="#fff" stroke-width="1.9"/>
<text font-size="15.60" fill="#fff" text-anchor="middle" transform="translate(128.4 220.8) scale(1.1 1)">12</text>
<text font-size="17.16" fill="#fff" textLength="45.1" lengthAdjust="spacing" transform="translate(99.8 250.4) scale(1.1 1)">25µm</text>
<rect x="96.90" y="255.60" width="46.00" height="3.40" fill="#fff"/>
<g clip-path="url(#cp3)">
<rect x="645.70" y="27.40" width="148.90" height="86.00" fill="#2a2a2a"/>
<g filter="url(#b15)">
<path d="M648.9,58.7 C650.4,53.0 656.4,43.5 662.3,39.3 C668.3,35.1 674.4,33.9 684.6,33.4 C694.8,32.9 711.9,34.4 723.3,36.4 C734.7,38.3 744.6,41.8 753.0,45.3 C761.4,48.7 768.1,52.2 773.8,57.2 C779.5,62.1 784.7,69.6 787.2,75.0 C789.7,80.5 790.9,86.2 788.7,89.9 C786.5,93.6 781.3,96.1 773.8,97.3 C766.4,98.6 756.5,98.3 744.1,97.3 C731.7,96.3 711.9,93.4 699.5,91.4 C687.1,89.4 677.4,88.4 669.7,85.4 C662.1,82.5 656.9,78.0 653.4,73.5 C649.9,69.1 647.4,64.4 648.9,58.7Z" fill="#7a7a7a"/>
<polygon points="653.4,57.2 665.3,42.3 684.6,36.4 689.1,57.2 684.6,82.5 669.7,82.5 656.4,72.0" fill="#8a8a8a"/>
<polygon points="717.3,54.2 735.2,48.3 744.1,69.1 723.3,75.0" fill="#5c5c5c"/>
<ellipse cx="699.48" cy="59.41" rx="20.07" ry="17.84" fill="#8f8f8f" stroke="#b0b0b0" stroke-width="1.6" transform="rotate(25 699.5 59.4)"/>
<ellipse cx="701.71" cy="60.15" rx="12.64" ry="11.15" fill="#858585" transform="rotate(25 701.7 60.1)"/>
</g>
<rect x="645.7" y="27.4" width="148.9" height="86.0" filter="url(#nz)" opacity="0.1"/>
</g>
<g clip-path="url(#cp4)">
<rect x="645.70" y="113.40" width="148.90" height="72.00" fill="#2a2a2a"/>
<g filter="url(#b15)">
<path d="M651.2,149.4 C651.4,146.4 652.0,143.2 656.4,140.4 C660.7,137.7 667.0,135.2 677.2,133.0 C687.3,130.8 699.7,128.8 717.3,127.1 C734.9,125.3 770.6,122.6 782.8,122.6 C794.9,122.6 788.7,124.3 790.2,127.1 C791.7,129.8 792.9,134.5 791.7,139.0 C790.4,143.4 788.2,150.1 782.8,153.8 C777.3,157.5 772.8,159.0 759.0,161.3 C745.1,163.5 714.3,166.5 699.5,167.2 C684.6,168.0 677.2,167.2 669.7,165.7 C662.3,164.2 658.0,161.0 654.9,158.3 C651.8,155.6 650.9,152.3 651.2,149.4Z" fill="#5c5c5c"/>
<polygon points="698.0,139.0 717.3,133.0 735.2,137.5 738.1,150.9 723.3,158.3 702.5,153.8" fill="#6c6c6c"/>
<polygon points="718.1,141.2 730.7,139.0 730.7,149.4 720.3,150.1" fill="#8c8c8c"/>
</g>
<rect x="645.7" y="113.4" width="148.9" height="72.0" filter="url(#nz)" opacity="0.1"/>
</g>
<line x1="645.70" y1="113.40" x2="794.60" y2="113.40" stroke="#9a9a9a" stroke-width="0.8"/>
<text font-size="16.64" fill="#fff" textLength="91.3" lengthAdjust="spacing" transform="translate(692.0 40.0) scale(1.1 1)">23.3±0.9 Ma</text>
<ellipse cx="754.80" cy="76.50" rx="20.80" ry="13.50" fill="none" stroke="#fff" stroke-width="1.9"/>
<text font-size="15.60" fill="#fff" text-anchor="middle" transform="translate(754.8 81.9) scale(1.1 1)">2</text>
<text font-size="16.64" fill="#fff" textLength="40.8" lengthAdjust="spacing" transform="translate(687.3 107.7) scale(1.1 1)">25µm</text>
<rect x="647.40" y="102.20" width="36.50" height="3.00" fill="#fff"/>
<text font-size="16.64" fill="#fff" textLength="90.5" lengthAdjust="spacing" transform="translate(646.0 128.3) scale(1.1 1)">13.5±0.6 Ma</text>
<ellipse cx="674.20" cy="148.60" rx="15.50" ry="11.70" fill="none" stroke="#fff" stroke-width="1.9"/>
<text font-size="15.60" fill="#fff" text-anchor="middle" transform="translate(674.2 154.0) scale(1.1 1)">11</text>
<text font-size="16.64" fill="#fff" textLength="39.9" lengthAdjust="spacing" transform="translate(742.6 174.6) scale(1.1 1)">50µm</text>
<rect x="744.80" y="180.60" width="46.20" height="3.00" fill="#fff"/>
<g clip-path="url(#cp5)">
<rect x="1047.70" y="28.70" width="143.60" height="113.30" fill="#2c2c2c"/>
<g filter="url(#b15)">
<polygon points="1052.0,97.3 1072.0,60.0 1096.0,42.7 1149.3,32.7 1186.7,37.3 1189.3,46.7 1156.0,105.3 1133.3,128.0 1081.3,128.0 1057.3,110.7" fill="#515151"/>
<polygon points="1084.0,105.3 1114.7,82.7 1146.7,58.7 1157.3,64.0 1136.0,102.7 1096.0,125.3" fill="#5f5f5f"/>
<polygon points="1074.7,72.0 1092.0,64.0 1096.0,89.3 1085.3,101.3 1073.3,94.7" fill="#3b3b3b"/>
<polygon points="1097.3,49.3 1149.3,37.3 1181.3,41.3 1154.7,54.7 1102.7,56.0" fill="#474747"/>
</g>
<rect x="1047.7" y="28.7" width="143.6" height="113.3" filter="url(#nz)" opacity="0.1"/>
</g>
<text font-size="16.64" fill="#fff" textLength="89.7" lengthAdjust="spacing" transform="translate(1049.0 41.7) scale(1.1 1)">15.0±0.7 Ma</text>
<ellipse cx="1140.70" cy="76.70" rx="16.40" ry="11.70" fill="none" stroke="#fff" stroke-width="1.9"/>
<text font-size="15.60" fill="#fff" text-anchor="middle" transform="translate(1140.7 82.1) scale(1.1 1)">16</text>
<text font-size="16.64" fill="#fff" textLength="40.6" lengthAdjust="spacing" transform="translate(1143.3 134.0) scale(1.1 1)">50µm</text>
<rect x="1137.00" y="138.00" width="54.00" height="3.00" fill="#fff"/>
<g clip-path="url(#cp6)">
<rect x="890.30" y="194.00" width="132.20" height="81.30" fill="#2d2d2d"/>
<g filter="url(#b15)">
<path d="M896.2,260.0 C896.9,256.5 899.8,251.5 905.0,245.0 C910.2,238.5 920.0,227.3 927.5,221.2 C935.0,215.2 941.2,212.1 950.0,208.8 C958.8,205.4 971.2,202.7 980.0,201.2 C988.8,199.8 996.5,198.5 1002.5,200.0 C1008.5,201.5 1013.5,205.6 1016.2,210.0 C1019.0,214.4 1019.6,221.2 1018.8,226.2 C1017.9,231.2 1016.0,236.2 1011.2,240.0 C1006.5,243.8 1000.2,245.6 990.0,248.8 C979.8,251.9 962.1,255.8 950.0,258.8 C937.9,261.7 925.6,265.0 917.5,266.2 C909.4,267.5 904.8,267.3 901.2,266.2 C897.7,265.2 895.6,263.5 896.2,260.0Z" fill="#626262" stroke="#7a7a7a" stroke-width="1.5"/>
<polygon points="961.2,226.2 970.0,213.8 980.0,217.5 990.0,212.5 996.2,222.5 992.5,235.0 980.0,237.5 967.5,232.5" fill="#808080"/>
<polygon points="912.5,255.0 921.2,252.5 932.5,260.0 921.2,262.5" fill="#4a4a4a"/>
</g>
<rect x="890.3" y="194.0" width="132.2" height="81.3" filter="url(#nz)" opacity="0.1"/>
</g>
<text font-size="16.64" fill="#fff" textLength="89.4" lengthAdjust="spacing" transform="translate(893.0 209.4) scale(1.1 1)">15.3±0.7 Ma</text>
<ellipse cx="931.50" cy="241.60" rx="15.60" ry="10.80" fill="none" stroke="#fff" stroke-width="1.9"/>
<text font-size="15.60" fill="#fff" text-anchor="middle" transform="translate(931.5 247.0) scale(1.1 1)">12</text>
<text font-size="16.64" fill="#fff" textLength="40.1" lengthAdjust="spacing" transform="translate(974.4 266.0) scale(1.1 1)">50µm</text>
<rect x="972.30" y="270.40" width="47.50" height="2.50" fill="#fff"/>
<line x1="53.00" y1="578.67" x2="390.38" y2="578.67" stroke="#dedede" stroke-width="0.8" stroke-dasharray="3.5 2.5"/>
<line x1="53.00" y1="537.84" x2="390.38" y2="537.84" stroke="#dedede" stroke-width="0.8" stroke-dasharray="3.5 2.5"/>
<line x1="53.00" y1="497.01" x2="390.38" y2="497.01" stroke="#dedede" stroke-width="0.8" stroke-dasharray="3.5 2.5"/>
<line x1="53.00" y1="456.18" x2="390.38" y2="456.18" stroke="#dedede" stroke-width="0.8" stroke-dasharray="3.5 2.5"/>
<line x1="53.00" y1="415.35" x2="390.38" y2="415.35" stroke="#dedede" stroke-width="0.8" stroke-dasharray="3.5 2.5"/>
<line x1="53.00" y1="374.52" x2="390.38" y2="374.52" stroke="#dedede" stroke-width="0.8" stroke-dasharray="3.5 2.5"/>
<line x1="53.00" y1="333.69" x2="390.38" y2="333.69" stroke="#dedede" stroke-width="0.8" stroke-dasharray="3.5 2.5"/>
<polyline points="64.1,558.3 88.3,486.8 112.4,513.3 136.6,493.3 160.8,453.3 184.9,455.8 209.1,428.4 233.3,416.6 257.4,408.4 281.6,399.8 305.8,394.1 330.0,388.4 354.1,385.1 378.3,382.7" fill="none" stroke="#c8c8c8" stroke-width="1.7" stroke-linejoin="round"/>
<polyline points="64.1,558.3 88.3,486.8 112.4,511.8 136.6,489.3 160.8,452.0 184.9,455.5 209.1,424.8 233.3,416.6 257.4,406.0 281.6,399.8 305.8,394.1 330.0,388.4 354.1,385.1 378.3,380.9" fill="none" stroke="#c8c8c8" stroke-width="1.7" stroke-linejoin="round"/>
<polyline points="64.1,558.3 88.3,485.0 112.4,511.2 136.6,492.4 160.8,451.6 184.9,455.8 209.1,428.4 233.3,416.6 257.4,406.3 281.6,399.0 305.8,393.8 330.0,387.0 354.1,384.3 378.3,382.4" fill="none" stroke="#c8c8c8" stroke-width="1.7" stroke-linejoin="round"/>
<polyline points="64.1,553.1 88.3,483.9 112.4,512.7 136.6,490.3 160.8,451.1 184.9,451.8 209.1,424.9 233.3,415.7 257.4,404.4 281.6,399.8 305.8,392.9 330.0,385.9 354.1,385.0 378.3,381.3" fill="none" stroke="#c8c8c8" stroke-width="1.7" stroke-linejoin="round"/>
<polyline points="64.1,558.0 88.3,483.5 112.4,509.3 136.6,489.6 160.8,448.7 184.9,454.2 209.1,424.5 233.3,413.7 257.4,405.8 281.6,397.9 305.8,390.7 330.0,384.7 354.1,383.4 378.3,380.3" fill="none" stroke="#c8c8c8" stroke-width="1.7" stroke-linejoin="round"/>
<polyline points="64.1,557.0 88.3,482.8 112.4,509.4 136.6,486.1 160.8,448.4 184.9,453.7 209.1,425.7 233.3,412.8 257.4,407.8 281.6,397.5 305.8,393.0 330.0,387.5 354.1,384.6 378.3,379.5" fill="none" stroke="#c8c8c8" stroke-width="1.7" stroke-linejoin="round"/>
<polyline points="64.1,555.7 88.3,484.5 112.4,510.2 136.6,486.2 160.8,451.8 184.9,452.3 209.1,424.1 233.3,411.1 257.4,403.6 281.6,395.3 305.8,392.1 330.0,385.9 354.1,383.1 378.3,378.7" fill="none" stroke="#c8c8c8" stroke-width="1.7" stroke-linejoin="round"/>
<polyline points="64.1,548.5 88.3,484.5 112.4,510.7 136.6,489.7 160.8,450.4 184.9,451.5 209.1,423.2 233.3,413.7 257.4,406.9 281.6,396.7 305.8,391.3 330.0,384.9 354.1,380.5 378.3,379.0" fill="none" stroke="#c8c8c8" stroke-width="1.7" stroke-linejoin="round"/>
<polyline points="64.1,551.0 88.3,481.6 112.4,507.5 136.6,490.2 160.8,446.2 184.9,449.4 209.1,421.0 233.3,410.5 257.4,404.6 281.6,396.3 305.8,391.9 330.0,384.2 354.1,383.3 378.3,380.9" fill="none" stroke="#c8c8c8" stroke-width="1.7" stroke-linejoin="round"/>
<polyline points="64.1,552.6 88.3,483.3 112.4,508.7 136.6,489.5 160.8,450.5 184.9,452.1 209.1,424.8 233.3,412.1 257.4,405.8 281.6,393.9 305.8,389.3 330.0,385.7 354.1,382.3 378.3,379.5" fill="none" stroke="#c8c8c8" stroke-width="1.7" stroke-linejoin="round"/>
<polyline points="64.1,550.5 88.3,483.0 112.4,505.4 136.6,482.5 160.8,447.4 184.9,449.8 209.1,424.3 233.3,412.9 257.4,403.8 281.6,396.0 305.8,388.0 330.0,385.2 354.1,382.7 378.3,376.8" fill="none" stroke="#c8c8c8" stroke-width="1.7" stroke-linejoin="round"/>
<polyline points="64.1,548.4 88.3,482.3 112.4,506.5 136.6,488.2 160.8,446.4 184.9,446.6 209.1,419.2 233.3,409.4 257.4,403.7 281.6,395.1 305.8,390.3 330.0,382.3 354.1,380.4 378.3,377.1" fill="none" stroke="#c8c8c8" stroke-width="1.7" stroke-linejoin="round"/>
<polyline points="64.1,549.1 88.3,481.4 112.4,504.5 136.6,481.1 160.8,444.1 184.9,446.9 209.1,418.8 233.3,408.6 257.4,403.4 281.6,394.0 305.8,389.1 330.0,384.9 354.1,381.9 378.3,378.5" fill="none" stroke="#c8c8c8" stroke-width="1.7" stroke-linejoin="round"/>
<polyline points="64.1,548.8 88.3,478.5 112.4,503.1 136.6,484.0 160.8,443.1 184.9,445.4 209.1,417.4 233.3,409.9 257.4,402.9 281.6,394.8 305.8,389.3 330.0,383.7 354.1,379.3 378.3,375.8" fill="none" stroke="#c8c8c8" stroke-width="1.7" stroke-linejoin="round"/>
<polyline points="64.1,543.5 88.3,479.0 112.4,504.2 136.6,480.9 160.8,447.1 184.9,446.6 209.1,417.1 233.3,407.3 257.4,399.9 281.6,393.2 305.8,388.9 330.0,380.9 354.1,380.0 378.3,375.8" fill="none" stroke="#c8c8c8" stroke-width="1.7" stroke-linejoin="round"/>
<polyline points="64.1,541.7 88.3,478.9 112.4,504.9 136.6,479.2 160.8,443.0 184.9,448.6 209.1,420.9 233.3,409.9 257.4,398.7 281.6,391.4 305.8,388.6 330.0,380.4 354.1,377.2 378.3,375.9" fill="none" stroke="#c8c8c8" stroke-width="1.7" stroke-linejoin="round"/>
<polyline points="64.1,545.6 88.3,477.6 112.4,505.8 136.6,484.7 160.8,441.1 184.9,445.5 209.1,418.0 233.3,405.5 257.4,400.4 281.6,390.6 305.8,385.3 330.0,382.4 354.1,379.5 378.3,376.9" fill="none" stroke="#c8c8c8" stroke-width="1.7" stroke-linejoin="round"/>
<polyline points="64.1,545.6 88.3,476.8 112.4,504.5 136.6,481.3 160.8,445.1 184.9,443.5 209.1,418.4 233.3,407.3 257.4,399.2 281.6,390.0 305.8,386.5 330.0,379.1 354.1,378.1 378.3,375.6" fill="none" stroke="#c8c8c8" stroke-width="1.7" stroke-linejoin="round"/>
<polyline points="64.1,542.6 88.3,479.1 112.4,503.0 136.6,482.1 160.8,445.2 184.9,443.5 209.1,418.8 233.3,406.7 257.4,398.0 281.6,391.1 305.8,386.5 330.0,380.3 354.1,377.5 378.3,374.3" fill="none" stroke="#c8c8c8" stroke-width="1.7" stroke-linejoin="round"/>
<polyline points="64.1,545.0 88.3,475.9 112.4,503.4 136.6,480.8 160.8,440.4 184.9,444.5 209.1,415.9 233.3,404.7 257.4,396.6 281.6,391.1 305.8,384.8 330.0,379.9 354.1,377.3 378.3,374.2" fill="none" stroke="#c8c8c8" stroke-width="1.7" stroke-linejoin="round"/>
<polyline points="64.1,541.5 88.3,475.4 112.4,501.6 136.6,475.7 160.8,440.2 184.9,441.9 209.1,413.2 233.3,406.7 257.4,397.8 281.6,388.5 305.8,383.4 330.0,380.9 354.1,378.3 378.3,374.7" fill="none" stroke="#c8c8c8" stroke-width="1.7" stroke-linejoin="round"/>
<polyline points="64.1,543.6 88.3,476.4 112.4,503.2 136.6,476.8 160.8,439.2 184.9,441.3 209.1,417.0 233.3,403.9 257.4,396.8 281.6,391.4 305.8,382.8 330.0,377.2 354.1,377.6 378.3,372.4" fill="none" stroke="#c8c8c8" stroke-width="1.7" stroke-linejoin="round"/>
<polyline points="64.1,540.3 88.3,474.6 112.4,497.8 136.6,475.0 160.8,442.0 184.9,443.2 209.1,414.3 233.3,405.2 257.4,398.4 281.6,390.2 305.8,383.0 330.0,380.5 354.1,376.0 378.3,373.9" fill="none" stroke="#c8c8c8" stroke-width="1.7" stroke-linejoin="round"/>
<polyline points="64.1,542.3 88.3,474.8 112.4,499.1 136.6,476.4 160.8,441.9 184.9,439.6 209.1,412.2 233.3,401.5 257.4,398.4 281.6,390.0 305.8,385.4 330.0,377.1 354.1,376.6 378.3,374.7" fill="none" stroke="#c8c8c8" stroke-width="1.7" stroke-linejoin="round"/>
<polyline points="64.1,538.4 88.3,471.4 112.4,497.5 136.6,477.3 160.8,440.9 184.9,439.4 209.1,412.8 233.3,402.3 257.4,397.9 281.6,390.4 305.8,382.2 330.0,378.0 354.1,376.9 378.3,371.3" fill="none" stroke="#c8c8c8" stroke-width="1.7" stroke-linejoin="round"/>
<polyline points="64.1,535.9 88.3,471.4 112.4,500.8 136.6,472.6 160.8,440.7 184.9,439.1 209.1,412.8 233.3,403.6 257.4,395.3 281.6,386.3 305.8,383.5 330.0,378.8 354.1,374.9 378.3,373.5" fill="none" stroke="#c8c8c8" stroke-width="1.7" stroke-linejoin="round"/>
<polyline points="64.1,539.1 88.3,474.0 112.4,500.4 136.6,476.3 160.8,438.8 184.9,441.5 209.1,410.5 233.3,403.3 257.4,395.0 281.6,389.0 305.8,382.8 330.0,378.8 354.1,375.5 378.3,373.9" fill="none" stroke="#c8c8c8" stroke-width="1.7" stroke-linejoin="round"/>
<polyline points="64.1,533.5 88.3,471.5 112.4,499.1 136.6,473.7 160.8,434.9 184.9,442.0 209.1,409.5 233.3,402.0 257.4,394.5 281.6,385.7 305.8,382.1 330.0,376.4 354.1,373.5 378.3,369.9" fill="none" stroke="#c8c8c8" stroke-width="1.7" stroke-linejoin="round"/>
<polyline points="64.1,535.7 88.3,469.6 112.4,495.8 136.6,471.9 160.8,437.1 184.9,440.1 209.1,413.3 233.3,403.0 257.4,396.0 281.6,385.7 305.8,382.2 330.0,377.4 354.1,375.3 378.3,370.0" fill="none" stroke="#c8c8c8" stroke-width="1.7" stroke-linejoin="round"/>
<polyline points="64.1,530.8 88.3,469.8 112.4,497.5 136.6,473.8 160.8,437.2 184.9,439.0 209.1,412.0 233.3,400.9 257.4,394.6 281.6,384.3 305.8,378.8 330.0,375.4 354.1,374.3 378.3,369.2" fill="none" stroke="#c8c8c8" stroke-width="1.7" stroke-linejoin="round"/>
<polyline points="64.1,534.3 88.3,470.9 112.4,498.4 136.6,472.2 160.8,435.6 184.9,438.2 209.1,411.2 233.3,400.0 257.4,395.3 281.6,386.8 305.8,382.0 330.0,375.5 354.1,374.6 378.3,372.3" fill="none" stroke="#c8c8c8" stroke-width="1.7" stroke-linejoin="round"/>
<polyline points="64.1,533.5 88.3,470.9 112.4,494.7 136.6,470.5 160.8,433.5 184.9,436.8 209.1,407.6 233.3,397.6 257.4,393.0 281.6,386.0 305.8,377.8 330.0,376.1 354.1,371.7 378.3,369.6" fill="none" stroke="#c8c8c8" stroke-width="1.7" stroke-linejoin="round"/>
<polyline points="64.1,534.6 88.3,467.4 112.4,492.5 136.6,469.1 160.8,433.0 184.9,435.4 209.1,410.3 233.3,398.9 257.4,391.9 281.6,383.4 305.8,378.1 330.0,373.0 354.1,371.8 378.3,368.3" fill="none" stroke="#c8c8c8" stroke-width="1.7" stroke-linejoin="round"/>
<polyline points="64.1,528.9 88.3,467.5 112.4,495.4 136.6,472.4 160.8,435.7 184.9,437.2 209.1,409.9 233.3,396.8 257.4,391.2 281.6,383.8 305.8,378.4 330.0,373.1 354.1,371.8 378.3,371.1" fill="none" stroke="#c8c8c8" stroke-width="1.7" stroke-linejoin="round"/>
<polyline points="64.1,527.2 88.3,466.7 112.4,493.4 136.6,468.3 160.8,432.3 184.9,438.2 209.1,405.6 233.3,399.1 257.4,392.9 281.6,384.9 305.8,377.5 330.0,374.6 354.1,370.5 378.3,367.2" fill="none" stroke="#c8c8c8" stroke-width="1.7" stroke-linejoin="round"/>
<polyline points="64.1,528.7 88.3,468.0 112.4,493.0 136.6,466.6 160.8,431.1 184.9,434.7 209.1,405.5 233.3,399.5 257.4,392.1 281.6,384.5 305.8,377.0 330.0,373.7 354.1,370.7 378.3,370.3" fill="none" stroke="#c8c8c8" stroke-width="1.7" stroke-linejoin="round"/>
<polyline points="64.1,531.2 88.3,468.0 112.4,491.4 136.6,465.8 160.8,431.0 184.9,435.8 209.1,405.6 233.3,397.0 257.4,390.1 281.6,384.6 305.8,376.0 330.0,373.7 354.1,368.8 378.3,366.5" fill="none" stroke="#c8c8c8" stroke-width="1.7" stroke-linejoin="round"/>
<polyline points="64.1,530.7 88.3,466.5 112.4,490.0 136.6,463.3 160.8,431.6 184.9,435.4 209.1,406.8 233.3,394.1 257.4,390.8 281.6,382.2 305.8,378.6 330.0,372.0 354.1,368.5 378.3,369.1" fill="none" stroke="#c8c8c8" stroke-width="1.7" stroke-linejoin="round"/>
<polyline points="64.1,523.7 88.3,465.7 112.4,489.1 136.6,464.3 160.8,432.2 184.9,431.4 209.1,404.6 233.3,398.1 257.4,391.2 281.6,382.1 305.8,376.9 330.0,372.4 354.1,371.1 378.3,367.9" fill="none" stroke="#c8c8c8" stroke-width="1.7" stroke-linejoin="round"/>
<polyline points="64.1,526.7 88.3,463.5 112.4,493.2 136.6,463.3 160.8,428.4 184.9,435.0 209.1,401.4 233.3,394.1 257.4,386.6 281.6,382.5 305.8,376.8 330.0,371.7 354.1,367.5 378.3,366.6" fill="none" stroke="#c8c8c8" stroke-width="1.7" stroke-linejoin="round"/>
<polyline points="64.1,525.5 88.3,465.1 112.4,491.2 136.6,467.2 160.8,431.7 184.9,430.6 209.1,404.5 233.3,392.5 257.4,389.1 281.6,382.1 305.8,375.7 330.0,372.0 354.1,369.4 378.3,364.8" fill="none" stroke="#c8c8c8" stroke-width="1.7" stroke-linejoin="round"/>
<polyline points="64.1,520.7 88.3,462.6 112.4,488.7 136.6,460.8 160.8,426.6 184.9,431.6 209.1,401.4 233.3,396.3 257.4,386.3 281.6,380.9 305.8,374.3 330.0,369.8 354.1,369.3 378.3,367.8" fill="none" stroke="#c8c8c8" stroke-width="1.7" stroke-linejoin="round"/>
<polyline points="64.1,519.9 88.3,465.5 112.4,489.0 136.6,463.8 160.8,429.5 184.9,430.0 209.1,399.8 233.3,394.8 257.4,386.2 281.6,381.1 305.8,374.6 330.0,370.3 354.1,369.4 378.3,367.0" fill="none" stroke="#c8c8c8" stroke-width="1.7" stroke-linejoin="round"/>
<polyline points="64.1,524.2 88.3,461.7 112.4,488.3 136.6,463.9 160.8,426.4 184.9,429.2 209.1,401.7 233.3,394.8 257.4,387.8 281.6,381.5 305.8,375.1 330.0,371.1 354.1,368.7 378.3,366.2" fill="none" stroke="#c8c8c8" stroke-width="1.7" stroke-linejoin="round"/>
<polyline points="64.1,520.6 88.3,461.7 112.4,486.8 136.6,461.9 160.8,427.7 184.9,430.0 209.1,401.5 233.3,393.3 257.4,387.9 281.6,380.2 305.8,373.3 330.0,370.5 354.1,367.3 378.3,364.4" fill="none" stroke="#c8c8c8" stroke-width="1.7" stroke-linejoin="round"/>
<polyline points="64.1,519.9 88.3,461.7 112.4,486.8 136.6,460.3 160.8,426.4 184.9,429.2 209.1,399.8 233.3,391.7 257.4,385.1 281.6,378.6 305.8,373.3 330.0,368.4 354.1,366.8 378.3,364.3" fill="none" stroke="#c8c8c8" stroke-width="1.7" stroke-linejoin="round"/>
<polyline points="64.1,558.3 88.3,493.3 112.4,522.5 136.6,500.0 160.8,463.3 184.9,472.5 209.1,436.6 233.3,422.7 257.4,413.3 281.6,405.1 305.8,398.2 330.0,393.3 354.1,390.0 378.3,388.4" fill="none" stroke="#c8c8c8" stroke-width="1.7" stroke-linejoin="round"/>
<polyline points="64.1,554.2 88.3,490.9 112.4,519.5 136.6,497.0 160.8,458.3 184.9,461.7 209.1,433.3 233.3,420.2 257.4,411.3 281.6,403.1 305.8,396.6 330.0,391.7 354.1,388.4 378.3,386.8" fill="none" stroke="#c8c8c8" stroke-width="1.7" stroke-linejoin="round"/>
<polyline points="64.1,550.1 88.3,488.8 112.4,516.6 136.6,495.0 160.8,456.2 184.9,458.2 209.1,430.9 233.3,418.2 257.4,409.6 281.6,401.5 305.8,395.3 330.0,390.0 354.1,386.8 378.3,384.7" fill="none" stroke="#c8c8c8" stroke-width="1.7" stroke-linejoin="round"/>
<polyline points="64.1,595.8 88.3,559.9 112.4,590.1 136.6,573.0 160.8,519.5 184.9,505.2 209.1,499.1 233.3,494.2 257.4,498.2 281.6,503.1 305.8,502.7 330.0,501.9 354.1,498.2 378.3,495.0" fill="none" stroke="#1c9ee4" stroke-width="1.5" stroke-linejoin="round"/>
<polyline points="64.1,589.2 88.3,559.9 112.4,582.6 136.6,567.5 160.8,517.5 184.9,502.6 209.1,498.8 233.3,494.2 257.4,495.4 281.6,503.1 305.8,502.1 330.0,500.9 354.1,498.2 378.3,492.5" fill="none" stroke="#1c9ee4" stroke-width="1.5" stroke-linejoin="round"/>
<polyline points="64.1,589.2 88.3,555.5 112.4,584.4 136.6,567.9 160.8,517.1 184.9,501.0 209.1,495.3 233.3,491.5 257.4,490.4 281.6,494.3 305.8,494.8 330.0,494.9 354.1,494.9 378.3,492.3" fill="none" stroke="#1c9ee4" stroke-width="1.5" stroke-linejoin="round"/>
<polyline points="64.1,587.9 88.3,557.8 112.4,580.0 136.6,567.8 160.8,514.8 184.9,501.1 209.1,490.6 233.3,486.4 257.4,495.5 281.6,498.4 305.8,492.2 330.0,494.7 354.1,488.1 378.3,489.3" fill="none" stroke="#1c9ee4" stroke-width="1.5" stroke-linejoin="round"/>
<polyline points="64.1,587.5 88.3,554.2 112.4,577.6 136.6,567.0 160.8,516.7 184.9,500.0 209.1,488.9 233.3,485.3 257.4,492.9 281.6,496.2 305.8,496.6 330.0,496.0 354.1,487.6 378.3,489.1" fill="none" stroke="#1c9ee4" stroke-width="1.5" stroke-linejoin="round"/>
<polyline points="64.1,579.0 88.3,553.8 112.4,580.5 136.6,562.3 160.8,515.6 184.9,497.1 209.1,492.6 233.3,485.8 257.4,490.5 281.6,494.0 305.8,487.5 330.0,487.7 354.1,489.3 378.3,482.2" fill="none" stroke="#1c9ee4" stroke-width="1.5" stroke-linejoin="round"/>
<polyline points="64.1,580.0 88.3,552.9 112.4,572.5 136.6,561.2 160.8,514.8 184.9,494.0 209.1,490.4 233.3,485.2 257.4,484.9 281.6,491.5 305.8,490.9 330.0,491.6 354.1,489.0 378.3,482.5" fill="none" stroke="#1c9ee4" stroke-width="1.5" stroke-linejoin="round"/>
<polyline points="64.1,576.7 88.3,550.9 112.4,574.5 136.6,560.8 160.8,510.6 184.9,495.3 209.1,486.5 233.3,479.8 257.4,487.2 281.6,490.9 305.8,483.9 330.0,483.4 354.1,486.0 378.3,483.5" fill="none" stroke="#1c9ee4" stroke-width="1.5" stroke-linejoin="round"/>
<polyline points="64.1,568.1 88.3,548.2 112.4,573.8 136.6,555.9 160.8,509.9 184.9,493.3 209.1,485.9 233.3,483.0 257.4,486.4 281.6,482.7 305.8,487.3 330.0,482.2 354.1,484.1 378.3,477.2" fill="none" stroke="#1c9ee4" stroke-width="1.5" stroke-linejoin="round"/>
<polyline points="64.1,566.8 88.3,549.9 112.4,571.7 136.6,555.8 160.8,512.0 184.9,493.9 209.1,483.4 233.3,476.7 257.4,480.6 281.6,486.0 305.8,479.7 330.0,484.2 354.1,483.9 378.3,479.3" fill="none" stroke="#1c9ee4" stroke-width="1.5" stroke-linejoin="round"/>
<polyline points="64.1,565.6 88.3,549.8 112.4,569.5 136.6,556.4 160.8,509.2 184.9,493.1 209.1,483.1 233.3,474.8 257.4,476.3 281.6,481.1 305.8,479.5 330.0,478.9 354.1,481.1 378.3,479.1" fill="none" stroke="#1c9ee4" stroke-width="1.5" stroke-linejoin="round"/>
<polyline points="64.1,567.5 88.3,544.9 112.4,562.7 136.6,550.9 160.8,510.3 184.9,489.1 209.1,480.7 233.3,474.2 257.4,479.1 281.6,476.4 305.8,482.4 330.0,477.1 354.1,474.9 378.3,471.1" fill="none" stroke="#1c9ee4" stroke-width="1.5" stroke-linejoin="round"/>
<polyline points="64.1,556.4 88.3,544.7 112.4,559.6 136.6,549.5 160.8,508.1 184.9,487.5 209.1,476.5 233.3,471.8 257.4,476.7 281.6,476.0 305.8,473.9 330.0,474.8 354.1,473.8 378.3,473.0" fill="none" stroke="#1c9ee4" stroke-width="1.5" stroke-linejoin="round"/>
<polyline points="64.1,555.2 88.3,544.0 112.4,563.6 136.6,549.6 160.8,505.2 184.9,485.2 209.1,475.9 233.3,473.2 257.4,472.7 281.6,475.7 305.8,475.3 330.0,470.4 354.1,475.9 378.3,468.6" fill="none" stroke="#1c9ee4" stroke-width="1.5" stroke-linejoin="round"/>
<polyline points="64.1,551.7 88.3,542.7 112.4,556.6 136.6,548.0 160.8,505.2 184.9,485.2 209.1,475.0 233.3,470.1 257.4,471.7 281.6,473.3 305.8,471.7 330.0,470.1 354.1,470.1 378.3,467.6" fill="none" stroke="#1c9ee4" stroke-width="1.5" stroke-linejoin="round"/>
<polyline points="64.1,562.3 88.3,526.0 112.4,558.3 136.6,550.1 160.8,509.3 184.9,492.9 209.1,480.7 233.3,474.6 257.4,476.6 281.6,480.7 305.8,478.6 330.0,476.6 354.1,476.6 378.3,472.5" fill="none" stroke="#1c9ee4" stroke-width="1.5" stroke-linejoin="round"/>
<polyline points="64.1,570.5 88.3,529.7 112.4,566.4 136.6,554.2 160.8,513.3 184.9,497.0 209.1,488.8 233.3,482.7 257.4,484.8 281.6,486.8 305.8,485.6 330.0,484.8 354.1,482.7 378.3,480.7" fill="none" stroke="#1c9ee4" stroke-width="1.5" stroke-linejoin="round"/>
<line x1="52.00" y1="333.19" x2="52.00" y2="620.10" stroke="#2a2a2a" stroke-width="1.4"/>
<line x1="51.40" y1="619.50" x2="390.38" y2="619.50" stroke="#2a2a2a" stroke-width="1.4"/>
<line x1="48.70" y1="619.50" x2="52.00" y2="619.50" stroke="#2a2a2a" stroke-width="1.1"/>
<line x1="48.70" y1="578.67" x2="52.00" y2="578.67" stroke="#2a2a2a" stroke-width="1.1"/>
<line x1="48.70" y1="537.84" x2="52.00" y2="537.84" stroke="#2a2a2a" stroke-width="1.1"/>
<line x1="48.70" y1="497.01" x2="52.00" y2="497.01" stroke="#2a2a2a" stroke-width="1.1"/>
<line x1="48.70" y1="456.18" x2="52.00" y2="456.18" stroke="#2a2a2a" stroke-width="1.1"/>
<line x1="48.70" y1="415.35" x2="52.00" y2="415.35" stroke="#2a2a2a" stroke-width="1.1"/>
<line x1="48.70" y1="374.52" x2="52.00" y2="374.52" stroke="#2a2a2a" stroke-width="1.1"/>
<line x1="48.70" y1="333.69" x2="52.00" y2="333.69" stroke="#2a2a2a" stroke-width="1.1"/>
<line x1="76.17" y1="619.50" x2="76.17" y2="622.80" stroke="#2a2a2a" stroke-width="1.0"/>
<line x1="100.34" y1="619.50" x2="100.34" y2="622.80" stroke="#2a2a2a" stroke-width="1.0"/>
<line x1="124.51" y1="619.50" x2="124.51" y2="622.80" stroke="#2a2a2a" stroke-width="1.0"/>
<line x1="148.68" y1="619.50" x2="148.68" y2="622.80" stroke="#2a2a2a" stroke-width="1.0"/>
<line x1="172.85" y1="619.50" x2="172.85" y2="622.80" stroke="#2a2a2a" stroke-width="1.0"/>
<line x1="197.02" y1="619.50" x2="197.02" y2="622.80" stroke="#2a2a2a" stroke-width="1.0"/>
<line x1="221.19" y1="619.50" x2="221.19" y2="622.80" stroke="#2a2a2a" stroke-width="1.0"/>
<line x1="245.36" y1="619.50" x2="245.36" y2="622.80" stroke="#2a2a2a" stroke-width="1.0"/>
<line x1="269.53" y1="619.50" x2="269.53" y2="622.80" stroke="#2a2a2a" stroke-width="1.0"/>
<line x1="293.70" y1="619.50" x2="293.70" y2="622.80" stroke="#2a2a2a" stroke-width="1.0"/>
<line x1="317.87" y1="619.50" x2="317.87" y2="622.80" stroke="#2a2a2a" stroke-width="1.0"/>
<line x1="342.04" y1="619.50" x2="342.04" y2="622.80" stroke="#2a2a2a" stroke-width="1.0"/>
<line x1="366.21" y1="619.50" x2="366.21" y2="622.80" stroke="#2a2a2a" stroke-width="1.0"/>
<line x1="390.38" y1="619.50" x2="390.38" y2="622.80" stroke="#2a2a2a" stroke-width="1.0"/>
<text font-size="12.48" fill="#231f20" text-anchor="end" textLength="41.8" lengthAdjust="spacing" transform="translate(46.5 338.0) scale(1.1 1)">100000</text>
<text font-size="12.48" fill="#231f20" text-anchor="end" textLength="35.0" lengthAdjust="spacing" transform="translate(46.5 378.8) scale(1.1 1)">10000</text>
<text font-size="12.48" fill="#231f20" text-anchor="end" textLength="27.7" lengthAdjust="spacing" transform="translate(46.5 419.7) scale(1.1 1)">1000</text>
<text font-size="12.48" fill="#231f20" text-anchor="end" textLength="20.5" lengthAdjust="spacing" transform="translate(46.5 460.5) scale(1.1 1)">100</text>
<text font-size="12.48" fill="#231f20" text-anchor="end" textLength="13.6" lengthAdjust="spacing" transform="translate(46.5 501.3) scale(1.1 1)">10</text>
<text font-size="12.48" fill="#231f20" text-anchor="end" transform="translate(46.5 542.1) scale(1.1 1)">1</text>
<text font-size="12.48" fill="#231f20" text-anchor="end" textLength="17.7" lengthAdjust="spacing" transform="translate(46.5 583.0) scale(1.1 1)">0.1</text>
<text font-size="12.48" fill="#231f20" text-anchor="end" textLength="25.0" lengthAdjust="spacing" transform="translate(46.5 623.8) scale(1.1 1)">0.01</text>
<text font-size="12.48" fill="#231f20" text-anchor="middle" letter-spacing="0.9" transform="translate(62.5 635.8) scale(1.1 1)">La</text>
<text font-size="12.48" fill="#231f20" text-anchor="middle" letter-spacing="0.9" transform="translate(88.7 635.8) scale(1.1 1)">Ce</text>
<text font-size="12.48" fill="#231f20" text-anchor="middle" letter-spacing="0.9" transform="translate(112.4 635.8) scale(1.1 1)">Pr</text>
<text font-size="12.48" fill="#231f20" text-anchor="middle" letter-spacing="0.9" transform="translate(137.2 635.8) scale(1.1 1)">Nd</text>
<text font-size="12.48" fill="#231f20" text-anchor="middle" letter-spacing="0.9" transform="translate(163.6 635.8) scale(1.1 1)">Sm</text>
<text font-size="12.48" fill="#231f20" text-anchor="middle" letter-spacing="0.9" transform="translate(186.1 635.8) scale(1.1 1)">Eu</text>
<text font-size="12.48" fill="#231f20" text-anchor="middle" letter-spacing="0.9" transform="translate(208.9 635.8) scale(1.1 1)">Gd</text>
<text font-size="12.48" fill="#231f20" text-anchor="middle" letter-spacing="0.9" transform="translate(233.6 635.8) scale(1.1 1)">Tb</text>
<text font-size="12.48" fill="#231f20" text-anchor="middle" letter-spacing="0.9" transform="translate(258.2 635.8) scale(1.1 1)">Dy</text>
<text font-size="12.48" fill="#231f20" text-anchor="middle" letter-spacing="0.9" transform="translate(283.1 635.8) scale(1.1 1)">Ho</text>
<text font-size="12.48" fill="#231f20" text-anchor="middle" letter-spacing="0.9" transform="translate(306.8 635.8) scale(1.1 1)">Er</text>
<text font-size="12.48" fill="#231f20" text-anchor="middle" letter-spacing="0.9" transform="translate(332.0 635.8) scale(1.1 1)">Tm</text>
<text font-size="12.48" fill="#231f20" text-anchor="middle" letter-spacing="0.9" transform="translate(355.1 635.8) scale(1.1 1)">Yb</text>
<text font-size="12.48" fill="#231f20" text-anchor="middle" letter-spacing="0.9" transform="translate(379.8 635.8) scale(1.1 1)">Lu</text>
<line x1="62.09" y1="615.00" x2="136.09" y2="615.00" stroke="#3a3a3a" stroke-width="1.3"/>
<text font-size="17.16" fill="#3c3c3c" textLength="41.4" lengthAdjust="spacing" transform="translate(74.2 612.4) scale(1.1 1)">LREE</text>
<line x1="158.77" y1="615.00" x2="257.45" y2="615.00" stroke="#3a3a3a" stroke-width="1.3"/>
<text font-size="17.16" fill="#3c3c3c" textLength="46.4" lengthAdjust="spacing" transform="translate(188.3 612.4) scale(1.1 1)">MREE</text>
<line x1="279.62" y1="615.00" x2="378.30" y2="615.00" stroke="#3a3a3a" stroke-width="1.3"/>
<text font-size="17.16" fill="#3c3c3c" textLength="44.5" lengthAdjust="spacing" transform="translate(303.3 612.4) scale(1.1 1)">HREE</text>
<text font-size="20.28" fill="#231f20" textLength="150.0" lengthAdjust="spacing" transform="translate(21.5 598.3) rotate(-90)">Zircon/Chondrite</text>
<text font-size="16.12" fill="#7f7f7f" textLength="102.3" lengthAdjust="spacing" transform="translate(104.2 388.0) scale(1.1 1)">Inherited core</text>
<text font-size="16.12" fill="#7f7f7f" textLength="86.6" lengthAdjust="spacing" transform="translate(104.2 407.0) scale(1.1 1)">(16WDG11)</text>
<text font-size="16.64" fill="#1c9ee4" textLength="68.2" lengthAdjust="spacing" transform="translate(291.7 519.0) scale(1.1 1)">Meta. rim</text>
<text font-size="16.64" fill="#1c9ee4" textLength="76.1" lengthAdjust="spacing" transform="translate(292.3 536.7) scale(1.1 1)">16WDG10</text>
<circle cx="66.7" cy="345.3" r="10.8" fill="#fff" stroke="#8a8a8a" stroke-width="0.7"/>
<text font-size="21.84" fill="#231f20" text-anchor="middle" font-weight="bold" transform="translate(66.7 351.8) scale(1.1 1)">d</text>
<text font-size="18.30" fill="#231f20" textLength="167.7" lengthAdjust="spacing" transform="translate(80.5 352.8) scale(1.1 1)">16WDG10 Eclogite</text>
<line x1="461.00" y1="578.67" x2="798.38" y2="578.67" stroke="#dedede" stroke-width="0.8" stroke-dasharray="3.5 2.5"/>
<line x1="461.00" y1="537.84" x2="798.38" y2="537.84" stroke="#dedede" stroke-width="0.8" stroke-dasharray="3.5 2.5"/>
<line x1="461.00" y1="497.01" x2="798.38" y2="497.01" stroke="#dedede" stroke-width="0.8" stroke-dasharray="3.5 2.5"/>
<line x1="461.00" y1="456.18" x2="798.38" y2="456.18" stroke="#dedede" stroke-width="0.8" stroke-dasharray="3.5 2.5"/>
<line x1="461.00" y1="415.35" x2="798.38" y2="415.35" stroke="#dedede" stroke-width="0.8" stroke-dasharray="3.5 2.5"/>
<line x1="461.00" y1="374.52" x2="798.38" y2="374.52" stroke="#dedede" stroke-width="0.8" stroke-dasharray="3.5 2.5"/>
<line x1="461.00" y1="333.69" x2="798.38" y2="333.69" stroke="#dedede" stroke-width="0.8" stroke-dasharray="3.5 2.5"/>
<polyline points="472.1,558.3 496.3,486.8 520.4,513.3 544.6,493.3 568.8,453.3 592.9,455.8 617.1,428.4 641.3,416.6 665.4,408.4 689.6,399.8 713.8,394.1 738.0,388.4 762.1,385.1 786.3,382.7" fill="none" stroke="#c8c8c8" stroke-width="1.7" stroke-linejoin="round"/>
<polyline points="472.1,558.3 496.3,486.8 520.4,511.8 544.6,489.3 568.8,452.0 592.9,455.5 617.1,424.8 641.3,416.6 665.4,406.0 689.6,399.8 713.8,394.1 738.0,388.4 762.1,385.1 786.3,380.9" fill="none" stroke="#c8c8c8" stroke-width="1.7" stroke-linejoin="round"/>
<polyline points="472.1,558.3 496.3,485.0 520.4,511.2 544.6,492.4 568.8,451.6 592.9,455.8 617.1,428.4 641.3,416.6 665.4,406.3 689.6,399.0 713.8,393.8 738.0,387.0 762.1,384.3 786.3,382.4" fill="none" stroke="#c8c8c8" stroke-width="1.7" stroke-linejoin="round"/>
<polyline points="472.1,553.1 496.3,483.9 520.4,512.7 544.6,490.3 568.8,451.1 592.9,451.8 617.1,424.9 641.3,415.7 665.4,404.4 689.6,399.8 713.8,392.9 738.0,385.9 762.1,385.0 786.3,381.3" fill="none" stroke="#c8c8c8" stroke-width="1.7" stroke-linejoin="round"/>
<polyline points="472.1,558.0 496.3,483.5 520.4,509.3 544.6,489.6 568.8,448.7 592.9,454.2 617.1,424.5 641.3,413.7 665.4,405.8 689.6,397.9 713.8,390.7 738.0,384.7 762.1,383.4 786.3,380.3" fill="none" stroke="#c8c8c8" stroke-width="1.7" stroke-linejoin="round"/>
<polyline points="472.1,557.0 496.3,482.8 520.4,509.4 544.6,486.1 568.8,448.4 592.9,453.7 617.1,425.7 641.3,412.8 665.4,407.8 689.6,397.5 713.8,393.0 738.0,387.5 762.1,384.6 786.3,379.5" fill="none" stroke="#c8c8c8" stroke-width="1.7" stroke-linejoin="round"/>
<polyline points="472.1,555.7 496.3,484.5 520.4,510.2 544.6,486.2 568.8,451.8 592.9,452.3 617.1,424.1 641.3,411.1 665.4,403.6 689.6,395.3 713.8,392.1 738.0,385.9 762.1,383.1 786.3,378.7" fill="none" stroke="#c8c8c8" stroke-width="1.7" stroke-linejoin="round"/>
<polyline points="472.1,548.5 496.3,484.5 520.4,510.7 544.6,489.7 568.8,450.4 592.9,451.5 617.1,423.2 641.3,413.7 665.4,406.9 689.6,396.7 713.8,391.3 738.0,384.9 762.1,380.5 786.3,379.0" fill="none" stroke="#c8c8c8" stroke-width="1.7" stroke-linejoin="round"/>
<polyline points="472.1,551.0 496.3,481.6 520.4,507.5 544.6,490.2 568.8,446.2 592.9,449.4 617.1,421.0 641.3,410.5 665.4,404.6 689.6,396.3 713.8,391.9 738.0,384.2 762.1,383.3 786.3,380.9" fill="none" stroke="#c8c8c8" stroke-width="1.7" stroke-linejoin="round"/>
<polyline points="472.1,552.6 496.3,483.3 520.4,508.7 544.6,489.5 568.8,450.5 592.9,452.1 617.1,424.8 641.3,412.1 665.4,405.8 689.6,393.9 713.8,389.3 738.0,385.7 762.1,382.3 786.3,379.5" fill="none" stroke="#c8c8c8" stroke-width="1.7" stroke-linejoin="round"/>
<polyline points="472.1,550.5 496.3,483.0 520.4,505.4 544.6,482.5 568.8,447.4 592.9,449.8 617.1,424.3 641.3,412.9 665.4,403.8 689.6,396.0 713.8,388.0 738.0,385.2 762.1,382.7 786.3,376.8" fill="none" stroke="#c8c8c8" stroke-width="1.7" stroke-linejoin="round"/>
<polyline points="472.1,548.4 496.3,482.3 520.4,506.5 544.6,488.2 568.8,446.4 592.9,446.6 617.1,419.2 641.3,409.4 665.4,403.7 689.6,395.1 713.8,390.3 738.0,382.3 762.1,380.4 786.3,377.1" fill="none" stroke="#c8c8c8" stroke-width="1.7" stroke-linejoin="round"/>
<polyline points="472.1,549.1 496.3,481.4 520.4,504.5 544.6,481.1 568.8,444.1 592.9,446.9 617.1,418.8 641.3,408.6 665.4,403.4 689.6,394.0 713.8,389.1 738.0,384.9 762.1,381.9 786.3,378.5" fill="none" stroke="#c8c8c8" stroke-width="1.7" stroke-linejoin="round"/>
<polyline points="472.1,548.8 496.3,478.5 520.4,503.1 544.6,484.0 568.8,443.1 592.9,445.4 617.1,417.4 641.3,409.9 665.4,402.9 689.6,394.8 713.8,389.3 738.0,383.7 762.1,379.3 786.3,375.8" fill="none" stroke="#c8c8c8" stroke-width="1.7" stroke-linejoin="round"/>
<polyline points="472.1,543.5 496.3,479.0 520.4,504.2 544.6,480.9 568.8,447.1 592.9,446.6 617.1,417.1 641.3,407.3 665.4,399.9 689.6,393.2 713.8,388.9 738.0,380.9 762.1,380.0 786.3,375.8" fill="none" stroke="#c8c8c8" stroke-width="1.7" stroke-linejoin="round"/>
<polyline points="472.1,541.7 496.3,478.9 520.4,504.9 544.6,479.2 568.8,443.0 592.9,448.6 617.1,420.9 641.3,409.9 665.4,398.7 689.6,391.4 713.8,388.6 738.0,380.4 762.1,377.2 786.3,375.9" fill="none" stroke="#c8c8c8" stroke-width="1.7" stroke-linejoin="round"/>
<polyline points="472.1,545.6 496.3,477.6 520.4,505.8 544.6,484.7 568.8,441.1 592.9,445.5 617.1,418.0 641.3,405.5 665.4,400.4 689.6,390.6 713.8,385.3 738.0,382.4 762.1,379.5 786.3,376.9" fill="none" stroke="#c8c8c8" stroke-width="1.7" stroke-linejoin="round"/>
<polyline points="472.1,545.6 496.3,476.8 520.4,504.5 544.6,481.3 568.8,445.1 592.9,443.5 617.1,418.4 641.3,407.3 665.4,399.2 689.6,390.0 713.8,386.5 738.0,379.1 762.1,378.1 786.3,375.6" fill="none" stroke="#c8c8c8" stroke-width="1.7" stroke-linejoin="round"/>
<polyline points="472.1,542.6 496.3,479.1 520.4,503.0 544.6,482.1 568.8,445.2 592.9,443.5 617.1,418.8 641.3,406.7 665.4,398.0 689.6,391.1 713.8,386.5 738.0,380.3 762.1,377.5 786.3,374.3" fill="none" stroke="#c8c8c8" stroke-width="1.7" stroke-linejoin="round"/>
<polyline points="472.1,545.0 496.3,475.9 520.4,503.4 544.6,480.8 568.8,440.4 592.9,444.5 617.1,415.9 641.3,404.7 665.4,396.6 689.6,391.1 713.8,384.8 738.0,379.9 762.1,377.3 786.3,374.2" fill="none" stroke="#c8c8c8" stroke-width="1.7" stroke-linejoin="round"/>
<polyline points="472.1,541.5 496.3,475.4 520.4,501.6 544.6,475.7 568.8,440.2 592.9,441.9 617.1,413.2 641.3,406.7 665.4,397.8 689.6,388.5 713.8,383.4 738.0,380.9 762.1,378.3 786.3,374.7" fill="none" stroke="#c8c8c8" stroke-width="1.7" stroke-linejoin="round"/>
<polyline points="472.1,543.6 496.3,476.4 520.4,503.2 544.6,476.8 568.8,439.2 592.9,441.3 617.1,417.0 641.3,403.9 665.4,396.8 689.6,391.4 713.8,382.8 738.0,377.2 762.1,377.6 786.3,372.4" fill="none" stroke="#c8c8c8" stroke-width="1.7" stroke-linejoin="round"/>
<polyline points="472.1,540.3 496.3,474.6 520.4,497.8 544.6,475.0 568.8,442.0 592.9,443.2 617.1,414.3 641.3,405.2 665.4,398.4 689.6,390.2 713.8,383.0 738.0,380.5 762.1,376.0 786.3,373.9" fill="none" stroke="#c8c8c8" stroke-width="1.7" stroke-linejoin="round"/>
<polyline points="472.1,542.3 496.3,474.8 520.4,499.1 544.6,476.4 568.8,441.9 592.9,439.6 617.1,412.2 641.3,401.5 665.4,398.4 689.6,390.0 713.8,385.4 738.0,377.1 762.1,376.6 786.3,374.7" fill="none" stroke="#c8c8c8" stroke-width="1.7" stroke-linejoin="round"/>
<polyline points="472.1,538.4 496.3,471.4 520.4,497.5 544.6,477.3 568.8,440.9 592.9,439.4 617.1,412.8 641.3,402.3 665.4,397.9 689.6,390.4 713.8,382.2 738.0,378.0 762.1,376.9 786.3,371.3" fill="none" stroke="#c8c8c8" stroke-width="1.7" stroke-linejoin="round"/>
<polyline points="472.1,535.9 496.3,471.4 520.4,500.8 544.6,472.6 568.8,440.7 592.9,439.1 617.1,412.8 641.3,403.6 665.4,395.3 689.6,386.3 713.8,383.5 738.0,378.8 762.1,374.9 786.3,373.5" fill="none" stroke="#c8c8c8" stroke-width="1.7" stroke-linejoin="round"/>
<polyline points="472.1,539.1 496.3,474.0 520.4,500.4 544.6,476.3 568.8,438.8 592.9,441.5 617.1,410.5 641.3,403.3 665.4,395.0 689.6,389.0 713.8,382.8 738.0,378.8 762.1,375.5 786.3,373.9" fill="none" stroke="#c8c8c8" stroke-width="1.7" stroke-linejoin="round"/>
<polyline points="472.1,533.5 496.3,471.5 520.4,499.1 544.6,473.7 568.8,434.9 592.9,442.0 617.1,409.5 641.3,402.0 665.4,394.5 689.6,385.7 713.8,382.1 738.0,376.4 762.1,373.5 786.3,369.9" fill="none" stroke="#c8c8c8" stroke-width="1.7" stroke-linejoin="round"/>
<polyline points="472.1,535.7 496.3,469.6 520.4,495.8 544.6,471.9 568.8,437.1 592.9,440.1 617.1,413.3 641.3,403.0 665.4,396.0 689.6,385.7 713.8,382.2 738.0,377.4 762.1,375.3 786.3,370.0" fill="none" stroke="#c8c8c8" stroke-width="1.7" stroke-linejoin="round"/>
<polyline points="472.1,530.8 496.3,469.8 520.4,497.5 544.6,473.8 568.8,437.2 592.9,439.0 617.1,412.0 641.3,400.9 665.4,394.6 689.6,384.3 713.8,378.8 738.0,375.4 762.1,374.3 786.3,369.2" fill="none" stroke="#c8c8c8" stroke-width="1.7" stroke-linejoin="round"/>
<polyline points="472.1,534.3 496.3,470.9 520.4,498.4 544.6,472.2 568.8,435.6 592.9,438.2 617.1,411.2 641.3,400.0 665.4,395.3 689.6,386.8 713.8,382.0 738.0,375.5 762.1,374.6 786.3,372.3" fill="none" stroke="#c8c8c8" stroke-width="1.7" stroke-linejoin="round"/>
<polyline points="472.1,533.5 496.3,470.9 520.4,494.7 544.6,470.5 568.8,433.5 592.9,436.8 617.1,407.6 641.3,397.6 665.4,393.0 689.6,386.0 713.8,377.8 738.0,376.1 762.1,371.7 786.3,369.6" fill="none" stroke="#c8c8c8" stroke-width="1.7" stroke-linejoin="round"/>
<polyline points="472.1,534.6 496.3,467.4 520.4,492.5 544.6,469.1 568.8,433.0 592.9,435.4 617.1,410.3 641.3,398.9 665.4,391.9 689.6,383.4 713.8,378.1 738.0,373.0 762.1,371.8 786.3,368.3" fill="none" stroke="#c8c8c8" stroke-width="1.7" stroke-linejoin="round"/>
<polyline points="472.1,528.9 496.3,467.5 520.4,495.4 544.6,472.4 568.8,435.7 592.9,437.2 617.1,409.9 641.3,396.8 665.4,391.2 689.6,383.8 713.8,378.4 738.0,373.1 762.1,371.8 786.3,371.1" fill="none" stroke="#c8c8c8" stroke-width="1.7" stroke-linejoin="round"/>
<polyline points="472.1,527.2 496.3,466.7 520.4,493.4 544.6,468.3 568.8,432.3 592.9,438.2 617.1,405.6 641.3,399.1 665.4,392.9 689.6,384.9 713.8,377.5 738.0,374.6 762.1,370.5 786.3,367.2" fill="none" stroke="#c8c8c8" stroke-width="1.7" stroke-linejoin="round"/>
<polyline points="472.1,528.7 496.3,468.0 520.4,493.0 544.6,466.6 568.8,431.1 592.9,434.7 617.1,405.5 641.3,399.5 665.4,392.1 689.6,384.5 713.8,377.0 738.0,373.7 762.1,370.7 786.3,370.3" fill="none" stroke="#c8c8c8" stroke-width="1.7" stroke-linejoin="round"/>
<polyline points="472.1,531.2 496.3,468.0 520.4,491.4 544.6,465.8 568.8,431.0 592.9,435.8 617.1,405.6 641.3,397.0 665.4,390.1 689.6,384.6 713.8,376.0 738.0,373.7 762.1,368.8 786.3,366.5" fill="none" stroke="#c8c8c8" stroke-width="1.7" stroke-linejoin="round"/>
<polyline points="472.1,530.7 496.3,466.5 520.4,490.0 544.6,463.3 568.8,431.6 592.9,435.4 617.1,406.8 641.3,394.1 665.4,390.8 689.6,382.2 713.8,378.6 738.0,372.0 762.1,368.5 786.3,369.1" fill="none" stroke="#c8c8c8" stroke-width="1.7" stroke-linejoin="round"/>
<polyline points="472.1,523.7 496.3,465.7 520.4,489.1 544.6,464.3 568.8,432.2 592.9,431.4 617.1,404.6 641.3,398.1 665.4,391.2 689.6,382.1 713.8,376.9 738.0,372.4 762.1,371.1 786.3,367.9" fill="none" stroke="#c8c8c8" stroke-width="1.7" stroke-linejoin="round"/>
<polyline points="472.1,526.7 496.3,463.5 520.4,493.2 544.6,463.3 568.8,428.4 592.9,435.0 617.1,401.4 641.3,394.1 665.4,386.6 689.6,382.5 713.8,376.8 738.0,371.7 762.1,367.5 786.3,366.6" fill="none" stroke="#c8c8c8" stroke-width="1.7" stroke-linejoin="round"/>
<polyline points="472.1,525.5 496.3,465.1 520.4,491.2 544.6,467.2 568.8,431.7 592.9,430.6 617.1,404.5 641.3,392.5 665.4,389.1 689.6,382.1 713.8,375.7 738.0,372.0 762.1,369.4 786.3,364.8" fill="none" stroke="#c8c8c8" stroke-width="1.7" stroke-linejoin="round"/>
<polyline points="472.1,520.7 496.3,462.6 520.4,488.7 544.6,460.8 568.8,426.6 592.9,431.6 617.1,401.4 641.3,396.3 665.4,386.3 689.6,380.9 713.8,374.3 738.0,369.8 762.1,369.3 786.3,367.8" fill="none" stroke="#c8c8c8" stroke-width="1.7" stroke-linejoin="round"/>
<polyline points="472.1,519.9 496.3,465.5 520.4,489.0 544.6,463.8 568.8,429.5 592.9,430.0 617.1,399.8 641.3,394.8 665.4,386.2 689.6,381.1 713.8,374.6 738.0,370.3 762.1,369.4 786.3,367.0" fill="none" stroke="#c8c8c8" stroke-width="1.7" stroke-linejoin="round"/>
<polyline points="472.1,524.2 496.3,461.7 520.4,488.3 544.6,463.9 568.8,426.4 592.9,429.2 617.1,401.7 641.3,394.8 665.4,387.8 689.6,381.5 713.8,375.1 738.0,371.1 762.1,368.7 786.3,366.2" fill="none" stroke="#c8c8c8" stroke-width="1.7" stroke-linejoin="round"/>
<polyline points="472.1,520.6 496.3,461.7 520.4,486.8 544.6,461.9 568.8,427.7 592.9,430.0 617.1,401.5 641.3,393.3 665.4,387.9 689.6,380.2 713.8,373.3 738.0,370.5 762.1,367.3 786.3,364.4" fill="none" stroke="#c8c8c8" stroke-width="1.7" stroke-linejoin="round"/>
<polyline points="472.1,519.9 496.3,461.7 520.4,486.8 544.6,460.3 568.8,426.4 592.9,429.2 617.1,399.8 641.3,391.7 665.4,385.1 689.6,378.6 713.8,373.3 738.0,368.4 762.1,366.8 786.3,364.3" fill="none" stroke="#c8c8c8" stroke-width="1.7" stroke-linejoin="round"/>
<polyline points="472.1,558.3 496.3,493.3 520.4,522.5 544.6,500.0 568.8,463.3 592.9,472.5 617.1,436.6 641.3,422.7 665.4,413.3 689.6,405.1 713.8,398.2 738.0,393.3 762.1,390.0 786.3,388.4" fill="none" stroke="#c8c8c8" stroke-width="1.7" stroke-linejoin="round"/>
<polyline points="472.1,554.2 496.3,490.9 520.4,519.5 544.6,497.0 568.8,458.3 592.9,461.7 617.1,433.3 641.3,420.2 665.4,411.3 689.6,403.1 713.8,396.6 738.0,391.7 762.1,388.4 786.3,386.8" fill="none" stroke="#c8c8c8" stroke-width="1.7" stroke-linejoin="round"/>
<polyline points="472.1,550.1 496.3,488.8 520.4,516.6 544.6,495.0 568.8,456.2 592.9,458.2 617.1,430.9 641.3,418.2 665.4,409.6 689.6,401.5 713.8,395.3 738.0,390.0 762.1,386.8 786.3,384.7" fill="none" stroke="#c8c8c8" stroke-width="1.7" stroke-linejoin="round"/>
<polyline points="472.1,595.0 496.3,565.6 520.4,578.3 544.6,568.1 568.8,539.9 592.9,523.1 617.1,503.1 641.3,495.0 665.4,491.7 689.6,484.8 713.8,486.4 738.0,486.4 762.1,483.1 786.3,478.2" fill="none" stroke="#0c9a4e" stroke-width="1.5" stroke-linejoin="round"/>
<polyline points="472.1,593.5 496.3,563.2 520.4,578.1 544.6,564.6 568.8,539.5 592.9,520.2 617.1,501.5 641.3,493.3 665.4,489.2 689.6,484.8 713.8,486.2 738.0,481.0 762.1,480.0 786.3,477.8" fill="none" stroke="#0c9a4e" stroke-width="1.5" stroke-linejoin="round"/>
<polyline points="472.1,581.6 496.3,562.2 520.4,576.1 544.6,564.9 568.8,536.9 592.9,520.5 617.1,498.3 641.3,492.9 665.4,488.6 689.6,483.9 713.8,484.2 738.0,479.6 762.1,478.6 786.3,473.6" fill="none" stroke="#0c9a4e" stroke-width="1.5" stroke-linejoin="round"/>
<polyline points="472.1,582.3 496.3,562.6 520.4,573.0 544.6,565.2 568.8,530.6 592.9,516.2 617.1,494.8 641.3,489.4 665.4,488.7 689.6,482.3 713.8,480.3 738.0,478.6 762.1,478.4 786.3,472.7" fill="none" stroke="#0c9a4e" stroke-width="1.5" stroke-linejoin="round"/>
<polyline points="472.1,581.4 496.3,561.6 520.4,569.1 544.6,561.8 568.8,533.2 592.9,515.5 617.1,496.0 641.3,488.6 665.4,488.1 689.6,481.3 713.8,480.2 738.0,476.0 762.1,476.4 786.3,468.6" fill="none" stroke="#0c9a4e" stroke-width="1.5" stroke-linejoin="round"/>
<polyline points="472.1,580.0 496.3,560.2 520.4,571.5 544.6,561.4 568.8,528.8 592.9,514.9 617.1,496.3 641.3,487.5 665.4,487.2 689.6,480.8 713.8,478.3 738.0,473.0 762.1,471.8 786.3,463.9" fill="none" stroke="#0c9a4e" stroke-width="1.5" stroke-linejoin="round"/>
<polyline points="472.1,576.8 496.3,558.7 520.4,568.1 544.6,560.3 568.8,523.8 592.9,512.3 617.1,494.9 641.3,486.9 665.4,484.5 689.6,479.9 713.8,477.9 738.0,476.8 762.1,472.6 786.3,464.0" fill="none" stroke="#0c9a4e" stroke-width="1.5" stroke-linejoin="round"/>
<polyline points="472.1,565.0 496.3,557.6 520.4,565.7 544.6,559.7 568.8,524.5 592.9,511.4 617.1,488.9 641.3,483.9 665.4,485.1 689.6,478.6 713.8,475.3 738.0,471.1 762.1,469.1 786.3,459.8" fill="none" stroke="#0c9a4e" stroke-width="1.5" stroke-linejoin="round"/>
<polyline points="472.1,562.6 496.3,559.0 520.4,565.2 544.6,554.6 568.8,522.6 592.9,509.4 617.1,488.9 641.3,482.3 665.4,482.7 689.6,478.5 713.8,474.7 738.0,471.4 762.1,464.3 786.3,459.3" fill="none" stroke="#0c9a4e" stroke-width="1.5" stroke-linejoin="round"/>
<polyline points="472.1,567.2 496.3,556.1 520.4,562.8 544.6,555.9 568.8,519.3 592.9,507.8 617.1,487.0 641.3,481.2 665.4,481.0 689.6,475.8 713.8,471.0 738.0,468.5 762.1,462.8 786.3,455.9" fill="none" stroke="#0c9a4e" stroke-width="1.5" stroke-linejoin="round"/>
<polyline points="472.1,557.0 496.3,556.1 520.4,561.5 544.6,554.0 568.8,515.0 592.9,508.2 617.1,488.1 641.3,479.4 665.4,480.1 689.6,475.4 713.8,468.8 738.0,463.5 762.1,461.1 786.3,454.6" fill="none" stroke="#0c9a4e" stroke-width="1.5" stroke-linejoin="round"/>
<polyline points="472.1,555.0 496.3,555.0 520.4,558.3 544.6,551.3 568.8,513.3 592.9,506.4 617.1,483.1 641.3,478.2 665.4,479.9 689.6,475.0 713.8,468.4 738.0,463.1 762.1,458.2 786.3,453.3" fill="none" stroke="#0c9a4e" stroke-width="1.5" stroke-linejoin="round"/>
<polyline points="472.1,558.3 496.3,541.5 520.4,568.5 544.6,556.2 568.8,525.6 592.9,515.4 617.1,492.9 641.3,486.8 665.4,484.8 689.6,479.9 713.8,476.6 738.0,474.6 762.1,470.5 786.3,466.4" fill="none" stroke="#0c9a4e" stroke-width="1.5" stroke-linejoin="round"/>
<line x1="460.00" y1="333.19" x2="460.00" y2="620.10" stroke="#2a2a2a" stroke-width="1.4"/>
<line x1="459.40" y1="619.50" x2="798.38" y2="619.50" stroke="#2a2a2a" stroke-width="1.4"/>
<line x1="456.70" y1="619.50" x2="460.00" y2="619.50" stroke="#2a2a2a" stroke-width="1.1"/>
<line x1="456.70" y1="578.67" x2="460.00" y2="578.67" stroke="#2a2a2a" stroke-width="1.1"/>
<line x1="456.70" y1="537.84" x2="460.00" y2="537.84" stroke="#2a2a2a" stroke-width="1.1"/>
<line x1="456.70" y1="497.01" x2="460.00" y2="497.01" stroke="#2a2a2a" stroke-width="1.1"/>
<line x1="456.70" y1="456.18" x2="460.00" y2="456.18" stroke="#2a2a2a" stroke-width="1.1"/>
<line x1="456.70" y1="415.35" x2="460.00" y2="415.35" stroke="#2a2a2a" stroke-width="1.1"/>
<line x1="456.70" y1="374.52" x2="460.00" y2="374.52" stroke="#2a2a2a" stroke-width="1.1"/>
<line x1="456.70" y1="333.69" x2="460.00" y2="333.69" stroke="#2a2a2a" stroke-width="1.1"/>
<line x1="484.17" y1="619.50" x2="484.17" y2="622.80" stroke="#2a2a2a" stroke-width="1.0"/>
<line x1="508.34" y1="619.50" x2="508.34" y2="622.80" stroke="#2a2a2a" stroke-width="1.0"/>
<line x1="532.51" y1="619.50" x2="532.51" y2="622.80" stroke="#2a2a2a" stroke-width="1.0"/>
<line x1="556.68" y1="619.50" x2="556.68" y2="622.80" stroke="#2a2a2a" stroke-width="1.0"/>
<line x1="580.85" y1="619.50" x2="580.85" y2="622.80" stroke="#2a2a2a" stroke-width="1.0"/>
<line x1="605.02" y1="619.50" x2="605.02" y2="622.80" stroke="#2a2a2a" stroke-width="1.0"/>
<line x1="629.19" y1="619.50" x2="629.19" y2="622.80" stroke="#2a2a2a" stroke-width="1.0"/>
<line x1="653.36" y1="619.50" x2="653.36" y2="622.80" stroke="#2a2a2a" stroke-width="1.0"/>
<line x1="677.53" y1="619.50" x2="677.53" y2="622.80" stroke="#2a2a2a" stroke-width="1.0"/>
<line x1="701.70" y1="619.50" x2="701.70" y2="622.80" stroke="#2a2a2a" stroke-width="1.0"/>
<line x1="725.87" y1="619.50" x2="725.87" y2="622.80" stroke="#2a2a2a" stroke-width="1.0"/>
<line x1="750.04" y1="619.50" x2="750.04" y2="622.80" stroke="#2a2a2a" stroke-width="1.0"/>
<line x1="774.21" y1="619.50" x2="774.21" y2="622.80" stroke="#2a2a2a" stroke-width="1.0"/>
<line x1="798.38" y1="619.50" x2="798.38" y2="622.80" stroke="#2a2a2a" stroke-width="1.0"/>
<text font-size="12.48" fill="#231f20" text-anchor="end" textLength="41.8" lengthAdjust="spacing" transform="translate(454.5 338.0) scale(1.1 1)">100000</text>
<text font-size="12.48" fill="#231f20" text-anchor="end" textLength="35.0" lengthAdjust="spacing" transform="translate(454.5 378.8) scale(1.1 1)">10000</text>
<text font-size="12.48" fill="#231f20" text-anchor="end" textLength="27.7" lengthAdjust="spacing" transform="translate(454.5 419.7) scale(1.1 1)">1000</text>
<text font-size="12.48" fill="#231f20" text-anchor="end" textLength="20.5" lengthAdjust="spacing" transform="translate(454.5 460.5) scale(1.1 1)">100</text>
<text font-size="12.48" fill="#231f20" text-anchor="end" textLength="13.6" lengthAdjust="spacing" transform="translate(454.5 501.3) scale(1.1 1)">10</text>
<text font-size="12.48" fill="#231f20" text-anchor="end" transform="translate(454.5 542.1) scale(1.1 1)">1</text>
<text font-size="12.48" fill="#231f20" text-anchor="end" textLength="17.7" lengthAdjust="spacing" transform="translate(454.5 583.0) scale(1.1 1)">0.1</text>
<text font-size="12.48" fill="#231f20" text-anchor="end" textLength="25.0" lengthAdjust="spacing" transform="translate(454.5 623.8) scale(1.1 1)">0.01</text>
<text font-size="12.48" fill="#231f20" text-anchor="middle" letter-spacing="0.9" transform="translate(470.5 635.8) scale(1.1 1)">La</text>
<text font-size="12.48" fill="#231f20" text-anchor="middle" letter-spacing="0.9" transform="translate(496.7 635.8) scale(1.1 1)">Ce</text>
<text font-size="12.48" fill="#231f20" text-anchor="middle" letter-spacing="0.9" transform="translate(520.4 635.8) scale(1.1 1)">Pr</text>
<text font-size="12.48" fill="#231f20" text-anchor="middle" letter-spacing="0.9" transform="translate(545.2 635.8) scale(1.1 1)">Nd</text>
<text font-size="12.48" fill="#231f20" text-anchor="middle" letter-spacing="0.9" transform="translate(571.6 635.8) scale(1.1 1)">Sm</text>
<text font-size="12.48" fill="#231f20" text-anchor="middle" letter-spacing="0.9" transform="translate(594.1 635.8) scale(1.1 1)">Eu</text>
<text font-size="12.48" fill="#231f20" text-anchor="middle" letter-spacing="0.9" transform="translate(616.9 635.8) scale(1.1 1)">Gd</text>
<text font-size="12.48" fill="#231f20" text-anchor="middle" letter-spacing="0.9" transform="translate(641.6 635.8) scale(1.1 1)">Tb</text>
<text font-size="12.48" fill="#231f20" text-anchor="middle" letter-spacing="0.9" transform="translate(666.2 635.8) scale(1.1 1)">Dy</text>
<text font-size="12.48" fill="#231f20" text-anchor="middle" letter-spacing="0.9" transform="translate(691.1 635.8) scale(1.1 1)">Ho</text>
<text font-size="12.48" fill="#231f20" text-anchor="middle" letter-spacing="0.9" transform="translate(714.8 635.8) scale(1.1 1)">Er</text>
<text font-size="12.48" fill="#231f20" text-anchor="middle" letter-spacing="0.9" transform="translate(740.0 635.8) scale(1.1 1)">Tm</text>
<text font-size="12.48" fill="#231f20" text-anchor="middle" letter-spacing="0.9" transform="translate(763.1 635.8) scale(1.1 1)">Yb</text>
<text font-size="12.48" fill="#231f20" text-anchor="middle" letter-spacing="0.9" transform="translate(787.8 635.8) scale(1.1 1)">Lu</text>
<line x1="470.08" y1="615.00" x2="544.10" y2="615.00" stroke="#3a3a3a" stroke-width="1.3"/>
<text font-size="17.16" fill="#3c3c3c" textLength="41.4" lengthAdjust="spacing" transform="translate(482.2 612.4) scale(1.1 1)">LREE</text>
<line x1="566.76" y1="615.00" x2="665.45" y2="615.00" stroke="#3a3a3a" stroke-width="1.3"/>
<text font-size="17.16" fill="#3c3c3c" textLength="46.4" lengthAdjust="spacing" transform="translate(596.3 612.4) scale(1.1 1)">MREE</text>
<line x1="687.62" y1="615.00" x2="786.30" y2="615.00" stroke="#3a3a3a" stroke-width="1.3"/>
<text font-size="17.16" fill="#3c3c3c" textLength="44.5" lengthAdjust="spacing" transform="translate(711.3 612.4) scale(1.1 1)">HREE</text>
<text font-size="20.28" fill="#231f20" textLength="150.0" lengthAdjust="spacing" transform="translate(429.5 598.3) rotate(-90)">Zircon/Chondrite</text>
<text font-size="16.12" fill="#7f7f7f" textLength="102.3" lengthAdjust="spacing" transform="translate(513.7 388.0) scale(1.1 1)">Inherited core</text>
<text font-size="16.12" fill="#7f7f7f" textLength="86.6" lengthAdjust="spacing" transform="translate(513.7 407.0) scale(1.1 1)">(16WDG11)</text>
<text font-size="16.64" fill="#0c9a4e" textLength="68.2" lengthAdjust="spacing" transform="translate(706.5 511.5) scale(1.1 1)">Meta. rim</text>
<text font-size="16.64" fill="#0c9a4e" textLength="76.1" lengthAdjust="spacing" transform="translate(707.0 529.5) scale(1.1 1)">16WDG17</text>
<circle cx="473.2" cy="342.9" r="10.8" fill="#fff" stroke="#8a8a8a" stroke-width="0.7"/>
<text font-size="21.84" fill="#231f20" text-anchor="middle" font-weight="bold" transform="translate(473.2 349.4) scale(1.1 1)">e</text>
<text font-size="18.30" fill="#231f20" textLength="167.7" lengthAdjust="spacing" transform="translate(488.0 349.8) scale(1.1 1)">16WDG17 Eclogite</text>
<line x1="855.10" y1="578.67" x2="1192.48" y2="578.67" stroke="#dedede" stroke-width="0.8" stroke-dasharray="3.5 2.5"/>
<line x1="855.10" y1="537.84" x2="1192.48" y2="537.84" stroke="#dedede" stroke-width="0.8" stroke-dasharray="3.5 2.5"/>
<line x1="855.10" y1="497.01" x2="1192.48" y2="497.01" stroke="#dedede" stroke-width="0.8" stroke-dasharray="3.5 2.5"/>
<line x1="855.10" y1="456.18" x2="1192.48" y2="456.18" stroke="#dedede" stroke-width="0.8" stroke-dasharray="3.5 2.5"/>
<line x1="855.10" y1="415.35" x2="1192.48" y2="415.35" stroke="#dedede" stroke-width="0.8" stroke-dasharray="3.5 2.5"/>
<line x1="855.10" y1="374.52" x2="1192.48" y2="374.52" stroke="#dedede" stroke-width="0.8" stroke-dasharray="3.5 2.5"/>
<line x1="855.10" y1="333.69" x2="1192.48" y2="333.69" stroke="#dedede" stroke-width="0.8" stroke-dasharray="3.5 2.5"/>
<polyline points="866.2,558.3 890.4,486.8 914.5,513.3 938.7,493.3 962.9,453.3 987.0,455.8 1011.2,428.4 1035.4,416.6 1059.5,408.4 1083.7,399.8 1107.9,394.1 1132.1,388.4 1156.2,385.1 1180.4,382.7" fill="none" stroke="#c8c8c8" stroke-width="1.7" stroke-linejoin="round"/>
<polyline points="866.2,558.3 890.4,486.8 914.5,511.8 938.7,489.3 962.9,452.0 987.0,455.5 1011.2,424.8 1035.4,416.6 1059.5,406.0 1083.7,399.8 1107.9,394.1 1132.1,388.4 1156.2,385.1 1180.4,380.9" fill="none" stroke="#c8c8c8" stroke-width="1.7" stroke-linejoin="round"/>
<polyline points="866.2,558.3 890.4,485.0 914.5,511.2 938.7,492.4 962.9,451.6 987.0,455.8 1011.2,428.4 1035.4,416.6 1059.5,406.3 1083.7,399.0 1107.9,393.8 1132.1,387.0 1156.2,384.3 1180.4,382.4" fill="none" stroke="#c8c8c8" stroke-width="1.7" stroke-linejoin="round"/>
<polyline points="866.2,553.1 890.4,483.9 914.5,512.7 938.7,490.3 962.9,451.1 987.0,451.8 1011.2,424.9 1035.4,415.7 1059.5,404.4 1083.7,399.8 1107.9,392.9 1132.1,385.9 1156.2,385.0 1180.4,381.3" fill="none" stroke="#c8c8c8" stroke-width="1.7" stroke-linejoin="round"/>
<polyline points="866.2,558.0 890.4,483.5 914.5,509.3 938.7,489.6 962.9,448.7 987.0,454.2 1011.2,424.5 1035.4,413.7 1059.5,405.8 1083.7,397.9 1107.9,390.7 1132.1,384.7 1156.2,383.4 1180.4,380.3" fill="none" stroke="#c8c8c8" stroke-width="1.7" stroke-linejoin="round"/>
<polyline points="866.2,557.0 890.4,482.8 914.5,509.4 938.7,486.1 962.9,448.4 987.0,453.7 1011.2,425.7 1035.4,412.8 1059.5,407.8 1083.7,397.5 1107.9,393.0 1132.1,387.5 1156.2,384.6 1180.4,379.5" fill="none" stroke="#c8c8c8" stroke-width="1.7" stroke-linejoin="round"/>
<polyline points="866.2,555.7 890.4,484.5 914.5,510.2 938.7,486.2 962.9,451.8 987.0,452.3 1011.2,424.1 1035.4,411.1 1059.5,403.6 1083.7,395.3 1107.9,392.1 1132.1,385.9 1156.2,383.1 1180.4,378.7" fill="none" stroke="#c8c8c8" stroke-width="1.7" stroke-linejoin="round"/>
<polyline points="866.2,548.5 890.4,484.5 914.5,510.7 938.7,489.7 962.9,450.4 987.0,451.5 1011.2,423.2 1035.4,413.7 1059.5,406.9 1083.7,396.7 1107.9,391.3 1132.1,384.9 1156.2,380.5 1180.4,379.0" fill="none" stroke="#c8c8c8" stroke-width="1.7" stroke-linejoin="round"/>
<polyline points="866.2,551.0 890.4,481.6 914.5,507.5 938.7,490.2 962.9,446.2 987.0,449.4 1011.2,421.0 1035.4,410.5 1059.5,404.6 1083.7,396.3 1107.9,391.9 1132.1,384.2 1156.2,383.3 1180.4,380.9" fill="none" stroke="#c8c8c8" stroke-width="1.7" stroke-linejoin="round"/>
<polyline points="866.2,552.6 890.4,483.3 914.5,508.7 938.7,489.5 962.9,450.5 987.0,452.1 1011.2,424.8 1035.4,412.1 1059.5,405.8 1083.7,393.9 1107.9,389.3 1132.1,385.7 1156.2,382.3 1180.4,379.5" fill="none" stroke="#c8c8c8" stroke-width="1.7" stroke-linejoin="round"/>
<polyline points="866.2,550.5 890.4,483.0 914.5,505.4 938.7,482.5 962.9,447.4 987.0,449.8 1011.2,424.3 1035.4,412.9 1059.5,403.8 1083.7,396.0 1107.9,388.0 1132.1,385.2 1156.2,382.7 1180.4,376.8" fill="none" stroke="#c8c8c8" stroke-width="1.7" stroke-linejoin="round"/>
<polyline points="866.2,548.4 890.4,482.3 914.5,506.5 938.7,488.2 962.9,446.4 987.0,446.6 1011.2,419.2 1035.4,409.4 1059.5,403.7 1083.7,395.1 1107.9,390.3 1132.1,382.3 1156.2,380.4 1180.4,377.1" fill="none" stroke="#c8c8c8" stroke-width="1.7" stroke-linejoin="round"/>
<polyline points="866.2,549.1 890.4,481.4 914.5,504.5 938.7,481.1 962.9,444.1 987.0,446.9 1011.2,418.8 1035.4,408.6 1059.5,403.4 1083.7,394.0 1107.9,389.1 1132.1,384.9 1156.2,381.9 1180.4,378.5" fill="none" stroke="#c8c8c8" stroke-width="1.7" stroke-linejoin="round"/>
<polyline points="866.2,548.8 890.4,478.5 914.5,503.1 938.7,484.0 962.9,443.1 987.0,445.4 1011.2,417.4 1035.4,409.9 1059.5,402.9 1083.7,394.8 1107.9,389.3 1132.1,383.7 1156.2,379.3 1180.4,375.8" fill="none" stroke="#c8c8c8" stroke-width="1.7" stroke-linejoin="round"/>
<polyline points="866.2,543.5 890.4,479.0 914.5,504.2 938.7,480.9 962.9,447.1 987.0,446.6 1011.2,417.1 1035.4,407.3 1059.5,399.9 1083.7,393.2 1107.9,388.9 1132.1,380.9 1156.2,380.0 1180.4,375.8" fill="none" stroke="#c8c8c8" stroke-width="1.7" stroke-linejoin="round"/>
<polyline points="866.2,541.7 890.4,478.9 914.5,504.9 938.7,479.2 962.9,443.0 987.0,448.6 1011.2,420.9 1035.4,409.9 1059.5,398.7 1083.7,391.4 1107.9,388.6 1132.1,380.4 1156.2,377.2 1180.4,375.9" fill="none" stroke="#c8c8c8" stroke-width="1.7" stroke-linejoin="round"/>
<polyline points="866.2,545.6 890.4,477.6 914.5,505.8 938.7,484.7 962.9,441.1 987.0,445.5 1011.2,418.0 1035.4,405.5 1059.5,400.4 1083.7,390.6 1107.9,385.3 1132.1,382.4 1156.2,379.5 1180.4,376.9" fill="none" stroke="#c8c8c8" stroke-width="1.7" stroke-linejoin="round"/>
<polyline points="866.2,545.6 890.4,476.8 914.5,504.5 938.7,481.3 962.9,445.1 987.0,443.5 1011.2,418.4 1035.4,407.3 1059.5,399.2 1083.7,390.0 1107.9,386.5 1132.1,379.1 1156.2,378.1 1180.4,375.6" fill="none" stroke="#c8c8c8" stroke-width="1.7" stroke-linejoin="round"/>
<polyline points="866.2,542.6 890.4,479.1 914.5,503.0 938.7,482.1 962.9,445.2 987.0,443.5 1011.2,418.8 1035.4,406.7 1059.5,398.0 1083.7,391.1 1107.9,386.5 1132.1,380.3 1156.2,377.5 1180.4,374.3" fill="none" stroke="#c8c8c8" stroke-width="1.7" stroke-linejoin="round"/>
<polyline points="866.2,545.0 890.4,475.9 914.5,503.4 938.7,480.8 962.9,440.4 987.0,444.5 1011.2,415.9 1035.4,404.7 1059.5,396.6 1083.7,391.1 1107.9,384.8 1132.1,379.9 1156.2,377.3 1180.4,374.2" fill="none" stroke="#c8c8c8" stroke-width="1.7" stroke-linejoin="round"/>
<polyline points="866.2,541.5 890.4,475.4 914.5,501.6 938.7,475.7 962.9,440.2 987.0,441.9 1011.2,413.2 1035.4,406.7 1059.5,397.8 1083.7,388.5 1107.9,383.4 1132.1,380.9 1156.2,378.3 1180.4,374.7" fill="none" stroke="#c8c8c8" stroke-width="1.7" stroke-linejoin="round"/>
<polyline points="866.2,543.6 890.4,476.4 914.5,503.2 938.7,476.8 962.9,439.2 987.0,441.3 1011.2,417.0 1035.4,403.9 1059.5,396.8 1083.7,391.4 1107.9,382.8 1132.1,377.2 1156.2,377.6 1180.4,372.4" fill="none" stroke="#c8c8c8" stroke-width="1.7" stroke-linejoin="round"/>
<polyline points="866.2,540.3 890.4,474.6 914.5,497.8 938.7,475.0 962.9,442.0 987.0,443.2 1011.2,414.3 1035.4,405.2 1059.5,398.4 1083.7,390.2 1107.9,383.0 1132.1,380.5 1156.2,376.0 1180.4,373.9" fill="none" stroke="#c8c8c8" stroke-width="1.7" stroke-linejoin="round"/>
<polyline points="866.2,542.3 890.4,474.8 914.5,499.1 938.7,476.4 962.9,441.9 987.0,439.6 1011.2,412.2 1035.4,401.5 1059.5,398.4 1083.7,390.0 1107.9,385.4 1132.1,377.1 1156.2,376.6 1180.4,374.7" fill="none" stroke="#c8c8c8" stroke-width="1.7" stroke-linejoin="round"/>
<polyline points="866.2,538.4 890.4,471.4 914.5,497.5 938.7,477.3 962.9,440.9 987.0,439.4 1011.2,412.8 1035.4,402.3 1059.5,397.9 1083.7,390.4 1107.9,382.2 1132.1,378.0 1156.2,376.9 1180.4,371.3" fill="none" stroke="#c8c8c8" stroke-width="1.7" stroke-linejoin="round"/>
<polyline points="866.2,535.9 890.4,471.4 914.5,500.8 938.7,472.6 962.9,440.7 987.0,439.1 1011.2,412.8 1035.4,403.6 1059.5,395.3 1083.7,386.3 1107.9,383.5 1132.1,378.8 1156.2,374.9 1180.4,373.5" fill="none" stroke="#c8c8c8" stroke-width="1.7" stroke-linejoin="round"/>
<polyline points="866.2,539.1 890.4,474.0 914.5,500.4 938.7,476.3 962.9,438.8 987.0,441.5 1011.2,410.5 1035.4,403.3 1059.5,395.0 1083.7,389.0 1107.9,382.8 1132.1,378.8 1156.2,375.5 1180.4,373.9" fill="none" stroke="#c8c8c8" stroke-width="1.7" stroke-linejoin="round"/>
<polyline points="866.2,533.5 890.4,471.5 914.5,499.1 938.7,473.7 962.9,434.9 987.0,442.0 1011.2,409.5 1035.4,402.0 1059.5,394.5 1083.7,385.7 1107.9,382.1 1132.1,376.4 1156.2,373.5 1180.4,369.9" fill="none" stroke="#c8c8c8" stroke-width="1.7" stroke-linejoin="round"/>
<polyline points="866.2,535.7 890.4,469.6 914.5,495.8 938.7,471.9 962.9,437.1 987.0,440.1 1011.2,413.3 1035.4,403.0 1059.5,396.0 1083.7,385.7 1107.9,382.2 1132.1,377.4 1156.2,375.3 1180.4,370.0" fill="none" stroke="#c8c8c8" stroke-width="1.7" stroke-linejoin="round"/>
<polyline points="866.2,530.8 890.4,469.8 914.5,497.5 938.7,473.8 962.9,437.2 987.0,439.0 1011.2,412.0 1035.4,400.9 1059.5,394.6 1083.7,384.3 1107.9,378.8 1132.1,375.4 1156.2,374.3 1180.4,369.2" fill="none" stroke="#c8c8c8" stroke-width="1.7" stroke-linejoin="round"/>
<polyline points="866.2,534.3 890.4,470.9 914.5,498.4 938.7,472.2 962.9,435.6 987.0,438.2 1011.2,411.2 1035.4,400.0 1059.5,395.3 1083.7,386.8 1107.9,382.0 1132.1,375.5 1156.2,374.6 1180.4,372.3" fill="none" stroke="#c8c8c8" stroke-width="1.7" stroke-linejoin="round"/>
<polyline points="866.2,533.5 890.4,470.9 914.5,494.7 938.7,470.5 962.9,433.5 987.0,436.8 1011.2,407.6 1035.4,397.6 1059.5,393.0 1083.7,386.0 1107.9,377.8 1132.1,376.1 1156.2,371.7 1180.4,369.6" fill="none" stroke="#c8c8c8" stroke-width="1.7" stroke-linejoin="round"/>
<polyline points="866.2,534.6 890.4,467.4 914.5,492.5 938.7,469.1 962.9,433.0 987.0,435.4 1011.2,410.3 1035.4,398.9 1059.5,391.9 1083.7,383.4 1107.9,378.1 1132.1,373.0 1156.2,371.8 1180.4,368.3" fill="none" stroke="#c8c8c8" stroke-width="1.7" stroke-linejoin="round"/>
<polyline points="866.2,528.9 890.4,467.5 914.5,495.4 938.7,472.4 962.9,435.7 987.0,437.2 1011.2,409.9 1035.4,396.8 1059.5,391.2 1083.7,383.8 1107.9,378.4 1132.1,373.1 1156.2,371.8 1180.4,371.1" fill="none" stroke="#c8c8c8" stroke-width="1.7" stroke-linejoin="round"/>
<polyline points="866.2,527.2 890.4,466.7 914.5,493.4 938.7,468.3 962.9,432.3 987.0,438.2 1011.2,405.6 1035.4,399.1 1059.5,392.9 1083.7,384.9 1107.9,377.5 1132.1,374.6 1156.2,370.5 1180.4,367.2" fill="none" stroke="#c8c8c8" stroke-width="1.7" stroke-linejoin="round"/>
<polyline points="866.2,528.7 890.4,468.0 914.5,493.0 938.7,466.6 962.9,431.1 987.0,434.7 1011.2,405.5 1035.4,399.5 1059.5,392.1 1083.7,384.5 1107.9,377.0 1132.1,373.7 1156.2,370.7 1180.4,370.3" fill="none" stroke="#c8c8c8" stroke-width="1.7" stroke-linejoin="round"/>
<polyline points="866.2,531.2 890.4,468.0 914.5,491.4 938.7,465.8 962.9,431.0 987.0,435.8 1011.2,405.6 1035.4,397.0 1059.5,390.1 1083.7,384.6 1107.9,376.0 1132.1,373.7 1156.2,368.8 1180.4,366.5" fill="none" stroke="#c8c8c8" stroke-width="1.7" stroke-linejoin="round"/>
<polyline points="866.2,530.7 890.4,466.5 914.5,490.0 938.7,463.3 962.9,431.6 987.0,435.4 1011.2,406.8 1035.4,394.1 1059.5,390.8 1083.7,382.2 1107.9,378.6 1132.1,372.0 1156.2,368.5 1180.4,369.1" fill="none" stroke="#c8c8c8" stroke-width="1.7" stroke-linejoin="round"/>
<polyline points="866.2,523.7 890.4,465.7 914.5,489.1 938.7,464.3 962.9,432.2 987.0,431.4 1011.2,404.6 1035.4,398.1 1059.5,391.2 1083.7,382.1 1107.9,376.9 1132.1,372.4 1156.2,371.1 1180.4,367.9" fill="none" stroke="#c8c8c8" stroke-width="1.7" stroke-linejoin="round"/>
<polyline points="866.2,526.7 890.4,463.5 914.5,493.2 938.7,463.3 962.9,428.4 987.0,435.0 1011.2,401.4 1035.4,394.1 1059.5,386.6 1083.7,382.5 1107.9,376.8 1132.1,371.7 1156.2,367.5 1180.4,366.6" fill="none" stroke="#c8c8c8" stroke-width="1.7" stroke-linejoin="round"/>
<polyline points="866.2,525.5 890.4,465.1 914.5,491.2 938.7,467.2 962.9,431.7 987.0,430.6 1011.2,404.5 1035.4,392.5 1059.5,389.1 1083.7,382.1 1107.9,375.7 1132.1,372.0 1156.2,369.4 1180.4,364.8" fill="none" stroke="#c8c8c8" stroke-width="1.7" stroke-linejoin="round"/>
<polyline points="866.2,520.7 890.4,462.6 914.5,488.7 938.7,460.8 962.9,426.6 987.0,431.6 1011.2,401.4 1035.4,396.3 1059.5,386.3 1083.7,380.9 1107.9,374.3 1132.1,369.8 1156.2,369.3 1180.4,367.8" fill="none" stroke="#c8c8c8" stroke-width="1.7" stroke-linejoin="round"/>
<polyline points="866.2,519.9 890.4,465.5 914.5,489.0 938.7,463.8 962.9,429.5 987.0,430.0 1011.2,399.8 1035.4,394.8 1059.5,386.2 1083.7,381.1 1107.9,374.6 1132.1,370.3 1156.2,369.4 1180.4,367.0" fill="none" stroke="#c8c8c8" stroke-width="1.7" stroke-linejoin="round"/>
<polyline points="866.2,524.2 890.4,461.7 914.5,488.3 938.7,463.9 962.9,426.4 987.0,429.2 1011.2,401.7 1035.4,394.8 1059.5,387.8 1083.7,381.5 1107.9,375.1 1132.1,371.1 1156.2,368.7 1180.4,366.2" fill="none" stroke="#c8c8c8" stroke-width="1.7" stroke-linejoin="round"/>
<polyline points="866.2,520.6 890.4,461.7 914.5,486.8 938.7,461.9 962.9,427.7 987.0,430.0 1011.2,401.5 1035.4,393.3 1059.5,387.9 1083.7,380.2 1107.9,373.3 1132.1,370.5 1156.2,367.3 1180.4,364.4" fill="none" stroke="#c8c8c8" stroke-width="1.7" stroke-linejoin="round"/>
<polyline points="866.2,519.9 890.4,461.7 914.5,486.8 938.7,460.3 962.9,426.4 987.0,429.2 1011.2,399.8 1035.4,391.7 1059.5,385.1 1083.7,378.6 1107.9,373.3 1132.1,368.4 1156.2,366.8 1180.4,364.3" fill="none" stroke="#c8c8c8" stroke-width="1.7" stroke-linejoin="round"/>
<polyline points="866.2,558.3 890.4,493.3 914.5,522.5 938.7,500.0 962.9,463.3 987.0,472.5 1011.2,436.6 1035.4,422.7 1059.5,413.3 1083.7,405.1 1107.9,398.2 1132.1,393.3 1156.2,390.0 1180.4,388.4" fill="none" stroke="#c8c8c8" stroke-width="1.7" stroke-linejoin="round"/>
<polyline points="866.2,554.2 890.4,490.9 914.5,519.5 938.7,497.0 962.9,458.3 987.0,461.7 1011.2,433.3 1035.4,420.2 1059.5,411.3 1083.7,403.1 1107.9,396.6 1132.1,391.7 1156.2,388.4 1180.4,386.8" fill="none" stroke="#c8c8c8" stroke-width="1.7" stroke-linejoin="round"/>
<polyline points="866.2,550.1 890.4,488.8 914.5,516.6 938.7,495.0 962.9,456.2 987.0,458.2 1011.2,430.9 1035.4,418.2 1059.5,409.6 1083.7,401.5 1107.9,395.3 1132.1,390.0 1156.2,386.8 1180.4,384.7" fill="none" stroke="#c8c8c8" stroke-width="1.7" stroke-linejoin="round"/>
<polyline points="866.2,581.5 890.4,566.4 914.5,579.1 938.7,576.6 962.9,539.9 987.0,533.3 1011.2,508.0 1035.4,501.5 1059.5,493.3 1083.7,493.3 1107.9,493.3 1132.1,495.0 1156.2,493.3 1180.4,492.9" fill="none" stroke="#e3212b" stroke-width="1.5" stroke-linejoin="round"/>
<polyline points="866.2,575.2 890.4,564.4 914.5,579.1 938.7,575.7 962.9,539.8 987.0,530.5 1011.2,505.5 1035.4,497.5 1059.5,489.8 1083.7,490.1 1107.9,489.5 1132.1,491.6 1156.2,492.7 1180.4,488.1" fill="none" stroke="#e3212b" stroke-width="1.5" stroke-linejoin="round"/>
<polyline points="866.2,576.2 890.4,562.8 914.5,575.2 938.7,573.0 962.9,537.7 987.0,531.3 1011.2,506.4 1035.4,500.2 1059.5,488.5 1083.7,488.5 1107.9,488.1 1132.1,490.8 1156.2,489.6 1180.4,487.2" fill="none" stroke="#e3212b" stroke-width="1.5" stroke-linejoin="round"/>
<polyline points="866.2,577.2 890.4,562.1 914.5,574.5 938.7,573.1 962.9,537.3 987.0,530.0 1011.2,505.8 1035.4,496.7 1059.5,488.4 1083.7,489.3 1107.9,491.1 1132.1,490.6 1156.2,490.1 1180.4,489.0" fill="none" stroke="#e3212b" stroke-width="1.5" stroke-linejoin="round"/>
<polyline points="866.2,574.4 890.4,562.4 914.5,575.3 938.7,568.1 962.9,532.5 987.0,529.5 1011.2,503.1 1035.4,492.3 1059.5,490.1 1083.7,489.4 1107.9,486.7 1132.1,487.6 1156.2,486.5 1180.4,487.9" fill="none" stroke="#e3212b" stroke-width="1.5" stroke-linejoin="round"/>
<polyline points="866.2,570.2 890.4,559.2 914.5,569.1 938.7,565.4 962.9,535.0 987.0,526.8 1011.2,503.5 1035.4,492.2 1059.5,488.3 1083.7,483.6 1107.9,486.5 1132.1,486.9 1156.2,487.5 1180.4,483.1" fill="none" stroke="#e3212b" stroke-width="1.5" stroke-linejoin="round"/>
<polyline points="866.2,566.5 890.4,559.4 914.5,570.8 938.7,564.3 962.9,533.2 987.0,528.0 1011.2,503.3 1035.4,490.9 1059.5,487.2 1083.7,486.4 1107.9,487.9 1132.1,486.1 1156.2,484.2 1180.4,482.0" fill="none" stroke="#e3212b" stroke-width="1.5" stroke-linejoin="round"/>
<polyline points="866.2,569.3 890.4,559.0 914.5,569.5 938.7,567.0 962.9,533.6 987.0,524.3 1011.2,502.6 1035.4,491.8 1059.5,485.2 1083.7,483.0 1107.9,486.7 1132.1,485.7 1156.2,483.9 1180.4,478.4" fill="none" stroke="#e3212b" stroke-width="1.5" stroke-linejoin="round"/>
<polyline points="866.2,567.4 890.4,558.4 914.5,567.2 938.7,559.3 962.9,530.0 987.0,525.4 1011.2,499.6 1035.4,490.4 1059.5,485.1 1083.7,482.3 1107.9,481.6 1132.1,483.1 1156.2,483.2 1180.4,477.8" fill="none" stroke="#e3212b" stroke-width="1.5" stroke-linejoin="round"/>
<polyline points="866.2,557.5 890.4,557.7 914.5,565.2 938.7,561.9 962.9,530.2 987.0,525.2 1011.2,500.4 1035.4,488.6 1059.5,483.9 1083.7,481.5 1107.9,484.4 1132.1,481.7 1156.2,479.9 1180.4,480.8" fill="none" stroke="#e3212b" stroke-width="1.5" stroke-linejoin="round"/>
<polyline points="866.2,556.0 890.4,557.0 914.5,564.5 938.7,558.8 962.9,528.6 987.0,524.3 1011.2,498.6 1035.4,488.4 1059.5,478.3 1083.7,481.8 1107.9,479.7 1132.1,483.3 1156.2,480.2 1180.4,476.5" fill="none" stroke="#e3212b" stroke-width="1.5" stroke-linejoin="round"/>
<polyline points="866.2,560.6 890.4,556.3 914.5,563.7 938.7,558.0 962.9,524.9 987.0,520.6 1011.2,499.2 1035.4,484.6 1059.5,480.9 1083.7,476.7 1107.9,481.0 1132.1,478.5 1156.2,477.5 1180.4,476.7" fill="none" stroke="#e3212b" stroke-width="1.5" stroke-linejoin="round"/>
<polyline points="866.2,558.6 890.4,554.7 914.5,559.4 938.7,558.3 962.9,525.6 987.0,522.1 1011.2,497.1 1035.4,481.5 1059.5,479.2 1083.7,475.9 1107.9,478.2 1132.1,477.1 1156.2,476.3 1180.4,469.7" fill="none" stroke="#e3212b" stroke-width="1.5" stroke-linejoin="round"/>
<polyline points="866.2,552.4 890.4,552.3 914.5,559.4 938.7,551.9 962.9,522.5 987.0,522.1 1011.2,497.0 1035.4,481.7 1059.5,474.8 1083.7,475.6 1107.9,478.8 1132.1,475.7 1156.2,476.2 1180.4,473.7" fill="none" stroke="#e3212b" stroke-width="1.5" stroke-linejoin="round"/>
<polyline points="866.2,553.8 890.4,553.6 914.5,557.4 938.7,555.3 962.9,522.2 987.0,518.2 1011.2,493.3 1035.4,478.5 1059.5,475.6 1083.7,473.8 1107.9,475.1 1132.1,475.7 1156.2,474.9 1180.4,467.5" fill="none" stroke="#e3212b" stroke-width="1.5" stroke-linejoin="round"/>
<polyline points="866.2,546.4 890.4,550.1 914.5,556.6 938.7,550.1 962.9,521.5 987.0,518.2 1011.2,493.3 1035.4,478.2 1059.5,473.3 1083.7,472.5 1107.9,475.0 1132.1,475.0 1156.2,471.7 1180.4,466.8" fill="none" stroke="#e3212b" stroke-width="1.5" stroke-linejoin="round"/>
<line x1="854.10" y1="333.19" x2="854.10" y2="620.10" stroke="#2a2a2a" stroke-width="1.4"/>
<line x1="853.50" y1="619.50" x2="1192.48" y2="619.50" stroke="#2a2a2a" stroke-width="1.4"/>
<line x1="850.80" y1="619.50" x2="854.10" y2="619.50" stroke="#2a2a2a" stroke-width="1.1"/>
<line x1="850.80" y1="578.67" x2="854.10" y2="578.67" stroke="#2a2a2a" stroke-width="1.1"/>
<line x1="850.80" y1="537.84" x2="854.10" y2="537.84" stroke="#2a2a2a" stroke-width="1.1"/>
<line x1="850.80" y1="497.01" x2="854.10" y2="497.01" stroke="#2a2a2a" stroke-width="1.1"/>
<line x1="850.80" y1="456.18" x2="854.10" y2="456.18" stroke="#2a2a2a" stroke-width="1.1"/>
<line x1="850.80" y1="415.35" x2="854.10" y2="415.35" stroke="#2a2a2a" stroke-width="1.1"/>
<line x1="850.80" y1="374.52" x2="854.10" y2="374.52" stroke="#2a2a2a" stroke-width="1.1"/>
<line x1="850.80" y1="333.69" x2="854.10" y2="333.69" stroke="#2a2a2a" stroke-width="1.1"/>
<line x1="878.27" y1="619.50" x2="878.27" y2="622.80" stroke="#2a2a2a" stroke-width="1.0"/>
<line x1="902.44" y1="619.50" x2="902.44" y2="622.80" stroke="#2a2a2a" stroke-width="1.0"/>
<line x1="926.61" y1="619.50" x2="926.61" y2="622.80" stroke="#2a2a2a" stroke-width="1.0"/>
<line x1="950.78" y1="619.50" x2="950.78" y2="622.80" stroke="#2a2a2a" stroke-width="1.0"/>
<line x1="974.95" y1="619.50" x2="974.95" y2="622.80" stroke="#2a2a2a" stroke-width="1.0"/>
<line x1="999.12" y1="619.50" x2="999.12" y2="622.80" stroke="#2a2a2a" stroke-width="1.0"/>
<line x1="1023.29" y1="619.50" x2="1023.29" y2="622.80" stroke="#2a2a2a" stroke-width="1.0"/>
<line x1="1047.46" y1="619.50" x2="1047.46" y2="622.80" stroke="#2a2a2a" stroke-width="1.0"/>
<line x1="1071.63" y1="619.50" x2="1071.63" y2="622.80" stroke="#2a2a2a" stroke-width="1.0"/>
<line x1="1095.80" y1="619.50" x2="1095.80" y2="622.80" stroke="#2a2a2a" stroke-width="1.0"/>
<line x1="1119.97" y1="619.50" x2="1119.97" y2="622.80" stroke="#2a2a2a" stroke-width="1.0"/>
<line x1="1144.14" y1="619.50" x2="1144.14" y2="622.80" stroke="#2a2a2a" stroke-width="1.0"/>
<line x1="1168.31" y1="619.50" x2="1168.31" y2="622.80" stroke="#2a2a2a" stroke-width="1.0"/>
<line x1="1192.48" y1="619.50" x2="1192.48" y2="622.80" stroke="#2a2a2a" stroke-width="1.0"/>
<text font-size="12.48" fill="#231f20" text-anchor="end" textLength="41.8" lengthAdjust="spacing" transform="translate(848.6 338.0) scale(1.1 1)">100000</text>
<text font-size="12.48" fill="#231f20" text-anchor="end" textLength="35.0" lengthAdjust="spacing" transform="translate(848.6 378.8) scale(1.1 1)">10000</text>
<text font-size="12.48" fill="#231f20" text-anchor="end" textLength="27.7" lengthAdjust="spacing" transform="translate(848.6 419.7) scale(1.1 1)">1000</text>
<text font-size="12.48" fill="#231f20" text-anchor="end" textLength="20.5" lengthAdjust="spacing" transform="translate(848.6 460.5) scale(1.1 1)">100</text>
<text font-size="12.48" fill="#231f20" text-anchor="end" textLength="13.6" lengthAdjust="spacing" transform="translate(848.6 501.3) scale(1.1 1)">10</text>
<text font-size="12.48" fill="#231f20" text-anchor="end" transform="translate(848.6 542.1) scale(1.1 1)">1</text>
<text font-size="12.48" fill="#231f20" text-anchor="end" textLength="17.7" lengthAdjust="spacing" transform="translate(848.6 583.0) scale(1.1 1)">0.1</text>
<text font-size="12.48" fill="#231f20" text-anchor="end" textLength="25.0" lengthAdjust="spacing" transform="translate(848.6 623.8) scale(1.1 1)">0.01</text>
<text font-size="12.48" fill="#231f20" text-anchor="middle" letter-spacing="0.9" transform="translate(864.6 635.8) scale(1.1 1)">La</text>
<text font-size="12.48" fill="#231f20" text-anchor="middle" letter-spacing="0.9" transform="translate(890.8 635.8) scale(1.1 1)">Ce</text>
<text font-size="12.48" fill="#231f20" text-anchor="middle" letter-spacing="0.9" transform="translate(914.5 635.8) scale(1.1 1)">Pr</text>
<text font-size="12.48" fill="#231f20" text-anchor="middle" letter-spacing="0.9" transform="translate(939.3 635.8) scale(1.1 1)">Nd</text>
<text font-size="12.48" fill="#231f20" text-anchor="middle" letter-spacing="0.9" transform="translate(965.7 635.8) scale(1.1 1)">Sm</text>
<text font-size="12.48" fill="#231f20" text-anchor="middle" letter-spacing="0.9" transform="translate(988.2 635.8) scale(1.1 1)">Eu</text>
<text font-size="12.48" fill="#231f20" text-anchor="middle" letter-spacing="0.9" transform="translate(1011.0 635.8) scale(1.1 1)">Gd</text>
<text font-size="12.48" fill="#231f20" text-anchor="middle" letter-spacing="0.9" transform="translate(1035.7 635.8) scale(1.1 1)">Tb</text>
<text font-size="12.48" fill="#231f20" text-anchor="middle" letter-spacing="0.9" transform="translate(1060.3 635.8) scale(1.1 1)">Dy</text>
<text font-size="12.48" fill="#231f20" text-anchor="middle" letter-spacing="0.9" transform="translate(1085.2 635.8) scale(1.1 1)">Ho</text>
<text font-size="12.48" fill="#231f20" text-anchor="middle" letter-spacing="0.9" transform="translate(1108.9 635.8) scale(1.1 1)">Er</text>
<text font-size="12.48" fill="#231f20" text-anchor="middle" letter-spacing="0.9" transform="translate(1134.1 635.8) scale(1.1 1)">Tm</text>
<text font-size="12.48" fill="#231f20" text-anchor="middle" letter-spacing="0.9" transform="translate(1157.2 635.8) scale(1.1 1)">Yb</text>
<text font-size="12.48" fill="#231f20" text-anchor="middle" letter-spacing="0.9" transform="translate(1181.9 635.8) scale(1.1 1)">Lu</text>
<line x1="864.19" y1="615.00" x2="938.20" y2="615.00" stroke="#3a3a3a" stroke-width="1.3"/>
<text font-size="17.16" fill="#3c3c3c" textLength="41.4" lengthAdjust="spacing" transform="translate(876.3 612.4) scale(1.1 1)">LREE</text>
<line x1="960.87" y1="615.00" x2="1059.55" y2="615.00" stroke="#3a3a3a" stroke-width="1.3"/>
<text font-size="17.16" fill="#3c3c3c" textLength="46.4" lengthAdjust="spacing" transform="translate(990.4 612.4) scale(1.1 1)">MREE</text>
<line x1="1081.72" y1="615.00" x2="1180.39" y2="615.00" stroke="#3a3a3a" stroke-width="1.3"/>
<text font-size="17.16" fill="#3c3c3c" textLength="44.5" lengthAdjust="spacing" transform="translate(1105.4 612.4) scale(1.1 1)">HREE</text>
<text font-size="20.28" fill="#231f20" textLength="150.0" lengthAdjust="spacing" transform="translate(823.6 598.3) rotate(-90)">Zircon/Chondrite</text>
<text font-size="16.12" fill="#7f7f7f" textLength="102.3" lengthAdjust="spacing" transform="translate(909.8 388.0) scale(1.1 1)">Inherited core</text>
<text font-size="16.12" fill="#7f7f7f" textLength="86.6" lengthAdjust="spacing" transform="translate(909.8 407.0) scale(1.1 1)">(16WDG11)</text>
<text font-size="16.64" fill="#e3212b" textLength="68.2" lengthAdjust="spacing" transform="translate(1099.5 519.5) scale(1.1 1)">Meta. rim</text>
<text font-size="16.64" fill="#e3212b" textLength="76.1" lengthAdjust="spacing" transform="translate(1100.0 537.5) scale(1.1 1)">16WDG19</text>
<circle cx="868.0" cy="343.7" r="10.8" fill="#fff" stroke="#8a8a8a" stroke-width="0.7"/>
<text font-size="21.84" fill="#231f20" text-anchor="middle" font-weight="bold" transform="translate(868.0 350.2) scale(1.1 1)">f</text>
<text font-size="18.30" fill="#231f20" textLength="167.7" lengthAdjust="spacing" transform="translate(890.0 350.8) scale(1.1 1)">16WDG19 Eclogite</text>
<line x1="52.70" y1="813.00" x2="398.15" y2="813.00" stroke="#dedede" stroke-width="0.8" stroke-dasharray="3.5 2.5"/>
<line x1="52.70" y1="771.40" x2="398.15" y2="771.40" stroke="#dedede" stroke-width="0.8" stroke-dasharray="3.5 2.5"/>
<line x1="52.70" y1="729.80" x2="398.15" y2="729.80" stroke="#dedede" stroke-width="0.8" stroke-dasharray="3.5 2.5"/>
<line x1="52.70" y1="688.20" x2="398.15" y2="688.20" stroke="#dedede" stroke-width="0.8" stroke-dasharray="3.5 2.5"/>
<line x1="52.70" y1="646.60" x2="398.15" y2="646.60" stroke="#dedede" stroke-width="0.8" stroke-dasharray="3.5 2.5"/>
<rect x="67.70" y="755.70" width="317.30" height="32.00" fill="#e3e3e3"/>
<line x1="67.70" y1="771.70" x2="385.00" y2="771.70" stroke="#1c9ee4" stroke-width="4.2"/>
<line x1="51.70" y1="646.10" x2="51.70" y2="855.20" stroke="#232323" stroke-width="1.3"/>
<line x1="51.10" y1="854.60" x2="398.15" y2="854.60" stroke="#232323" stroke-width="1.3"/>
<line x1="51.70" y1="854.60" x2="55.20" y2="854.60" stroke="#232323" stroke-width="1.0"/>
<text font-size="12.79" fill="#231f20" text-anchor="end" textLength="21.4" lengthAdjust="spacing" transform="translate(49.1 858.6) scale(1.1 1)">500</text>
<line x1="51.70" y1="813.00" x2="55.20" y2="813.00" stroke="#232323" stroke-width="1.0"/>
<text font-size="12.79" fill="#231f20" text-anchor="end" textLength="21.4" lengthAdjust="spacing" transform="translate(49.1 817.0) scale(1.1 1)">600</text>
<line x1="51.70" y1="771.40" x2="55.20" y2="771.40" stroke="#232323" stroke-width="1.0"/>
<text font-size="12.79" fill="#231f20" text-anchor="end" textLength="21.4" lengthAdjust="spacing" transform="translate(49.1 775.4) scale(1.1 1)">700</text>
<line x1="51.70" y1="729.80" x2="55.20" y2="729.80" stroke="#232323" stroke-width="1.0"/>
<text font-size="12.79" fill="#231f20" text-anchor="end" textLength="21.4" lengthAdjust="spacing" transform="translate(49.1 733.8) scale(1.1 1)">800</text>
<line x1="51.70" y1="688.20" x2="55.20" y2="688.20" stroke="#232323" stroke-width="1.0"/>
<text font-size="12.79" fill="#231f20" text-anchor="end" textLength="21.4" lengthAdjust="spacing" transform="translate(49.1 692.2) scale(1.1 1)">900</text>
<line x1="51.70" y1="646.60" x2="55.20" y2="646.60" stroke="#232323" stroke-width="1.0"/>
<text font-size="12.79" fill="#231f20" text-anchor="end" textLength="28.2" lengthAdjust="spacing" transform="translate(49.1 650.6) scale(1.1 1)">1000</text>
<line x1="397.65" y1="854.60" x2="397.65" y2="851.30" stroke="#232323" stroke-width="1.0"/>
<line x1="51.70" y1="854.60" x2="51.70" y2="851.30" stroke="#232323" stroke-width="1.0"/>
<text font-size="13.00" fill="#231f20" text-anchor="middle" transform="translate(51.7 867.8) scale(1.1 1)">0</text>
<line x1="72.05" y1="854.60" x2="72.05" y2="851.30" stroke="#232323" stroke-width="1.0"/>
<text font-size="13.00" fill="#231f20" text-anchor="middle" transform="translate(72.1 867.8) scale(1.1 1)">1</text>
<line x1="92.40" y1="854.60" x2="92.40" y2="851.30" stroke="#232323" stroke-width="1.0"/>
<text font-size="13.00" fill="#231f20" text-anchor="middle" transform="translate(92.4 867.8) scale(1.1 1)">2</text>
<line x1="112.75" y1="854.60" x2="112.75" y2="851.30" stroke="#232323" stroke-width="1.0"/>
<text font-size="13.00" fill="#231f20" text-anchor="middle" transform="translate(112.8 867.8) scale(1.1 1)">3</text>
<line x1="133.10" y1="854.60" x2="133.10" y2="851.30" stroke="#232323" stroke-width="1.0"/>
<text font-size="13.00" fill="#231f20" text-anchor="middle" transform="translate(133.1 867.8) scale(1.1 1)">4</text>
<line x1="153.45" y1="854.60" x2="153.45" y2="851.30" stroke="#232323" stroke-width="1.0"/>
<text font-size="13.00" fill="#231f20" text-anchor="middle" transform="translate(153.4 867.8) scale(1.1 1)">5</text>
<line x1="173.80" y1="854.60" x2="173.80" y2="851.30" stroke="#232323" stroke-width="1.0"/>
<text font-size="13.00" fill="#231f20" text-anchor="middle" transform="translate(173.8 867.8) scale(1.1 1)">6</text>
<line x1="194.15" y1="854.60" x2="194.15" y2="851.30" stroke="#232323" stroke-width="1.0"/>
<text font-size="13.00" fill="#231f20" text-anchor="middle" transform="translate(194.2 867.8) scale(1.1 1)">7</text>
<line x1="214.50" y1="854.60" x2="214.50" y2="851.30" stroke="#232323" stroke-width="1.0"/>
<text font-size="13.00" fill="#231f20" text-anchor="middle" transform="translate(214.5 867.8) scale(1.1 1)">8</text>
<line x1="234.85" y1="854.60" x2="234.85" y2="851.30" stroke="#232323" stroke-width="1.0"/>
<text font-size="13.00" fill="#231f20" text-anchor="middle" transform="translate(234.9 867.8) scale(1.1 1)">9</text>
<line x1="255.20" y1="854.60" x2="255.20" y2="851.30" stroke="#232323" stroke-width="1.0"/>
<text font-size="13.00" fill="#231f20" text-anchor="middle" textLength="13.6" lengthAdjust="spacing" transform="translate(255.2 867.8) scale(1.1 1)">10</text>
<line x1="275.55" y1="854.60" x2="275.55" y2="851.30" stroke="#232323" stroke-width="1.0"/>
<text font-size="13.00" fill="#231f20" text-anchor="middle" textLength="13.6" lengthAdjust="spacing" transform="translate(275.6 867.8) scale(1.1 1)">11</text>
<line x1="295.90" y1="854.60" x2="295.90" y2="851.30" stroke="#232323" stroke-width="1.0"/>
<text font-size="13.00" fill="#231f20" text-anchor="middle" textLength="13.6" lengthAdjust="spacing" transform="translate(295.9 867.8) scale(1.1 1)">12</text>
<line x1="316.25" y1="854.60" x2="316.25" y2="851.30" stroke="#232323" stroke-width="1.0"/>
<text font-size="13.00" fill="#231f20" text-anchor="middle" textLength="13.6" lengthAdjust="spacing" transform="translate(316.2 867.8) scale(1.1 1)">13</text>
<line x1="336.60" y1="854.60" x2="336.60" y2="851.30" stroke="#232323" stroke-width="1.0"/>
<text font-size="13.00" fill="#231f20" text-anchor="middle" textLength="13.6" lengthAdjust="spacing" transform="translate(336.6 867.8) scale(1.1 1)">14</text>
<line x1="356.95" y1="854.60" x2="356.95" y2="851.30" stroke="#232323" stroke-width="1.0"/>
<text font-size="13.00" fill="#231f20" text-anchor="middle" textLength="13.6" lengthAdjust="spacing" transform="translate(356.9 867.8) scale(1.1 1)">15</text>
<line x1="377.30" y1="854.60" x2="377.30" y2="851.30" stroke="#232323" stroke-width="1.0"/>
<text font-size="13.00" fill="#231f20" text-anchor="middle" textLength="13.6" lengthAdjust="spacing" transform="translate(377.3 867.8) scale(1.1 1)">16</text>
<line x1="72.05" y1="797.19" x2="72.05" y2="839.62" stroke="#6e6e6e" stroke-width="1.1"/>
<line x1="68.75" y1="797.19" x2="75.35" y2="797.19" stroke="#6e6e6e" stroke-width="1.1"/>
<line x1="68.75" y1="839.62" x2="75.35" y2="839.62" stroke="#6e6e6e" stroke-width="1.1"/>
<line x1="92.40" y1="780.55" x2="92.40" y2="825.06" stroke="#6e6e6e" stroke-width="1.1"/>
<line x1="89.10" y1="780.55" x2="95.70" y2="780.55" stroke="#6e6e6e" stroke-width="1.1"/>
<line x1="89.10" y1="825.06" x2="95.70" y2="825.06" stroke="#6e6e6e" stroke-width="1.1"/>
<line x1="112.75" y1="777.22" x2="112.75" y2="822.15" stroke="#6e6e6e" stroke-width="1.1"/>
<line x1="109.45" y1="777.22" x2="116.05" y2="777.22" stroke="#6e6e6e" stroke-width="1.1"/>
<line x1="109.45" y1="822.15" x2="116.05" y2="822.15" stroke="#6e6e6e" stroke-width="1.1"/>
<line x1="133.10" y1="772.23" x2="133.10" y2="818.41" stroke="#6e6e6e" stroke-width="1.1"/>
<line x1="129.80" y1="772.23" x2="136.40" y2="772.23" stroke="#6e6e6e" stroke-width="1.1"/>
<line x1="129.80" y1="818.41" x2="136.40" y2="818.41" stroke="#6e6e6e" stroke-width="1.1"/>
<line x1="153.45" y1="769.32" x2="153.45" y2="815.91" stroke="#6e6e6e" stroke-width="1.1"/>
<line x1="150.15" y1="769.32" x2="156.75" y2="769.32" stroke="#6e6e6e" stroke-width="1.1"/>
<line x1="150.15" y1="815.91" x2="156.75" y2="815.91" stroke="#6e6e6e" stroke-width="1.1"/>
<line x1="173.80" y1="761.42" x2="173.80" y2="808.84" stroke="#6e6e6e" stroke-width="1.1"/>
<line x1="170.50" y1="761.42" x2="177.10" y2="761.42" stroke="#6e6e6e" stroke-width="1.1"/>
<line x1="170.50" y1="808.84" x2="177.10" y2="808.84" stroke="#6e6e6e" stroke-width="1.1"/>
<line x1="194.15" y1="759.34" x2="194.15" y2="807.18" stroke="#6e6e6e" stroke-width="1.1"/>
<line x1="190.85" y1="759.34" x2="197.45" y2="759.34" stroke="#6e6e6e" stroke-width="1.1"/>
<line x1="190.85" y1="807.18" x2="197.45" y2="807.18" stroke="#6e6e6e" stroke-width="1.1"/>
<line x1="214.50" y1="756.84" x2="214.50" y2="805.10" stroke="#6e6e6e" stroke-width="1.1"/>
<line x1="211.20" y1="756.84" x2="217.80" y2="756.84" stroke="#6e6e6e" stroke-width="1.1"/>
<line x1="211.20" y1="805.10" x2="217.80" y2="805.10" stroke="#6e6e6e" stroke-width="1.1"/>
<line x1="234.85" y1="747.27" x2="234.85" y2="797.19" stroke="#6e6e6e" stroke-width="1.1"/>
<line x1="231.55" y1="747.27" x2="238.15" y2="747.27" stroke="#6e6e6e" stroke-width="1.1"/>
<line x1="231.55" y1="797.19" x2="238.15" y2="797.19" stroke="#6e6e6e" stroke-width="1.1"/>
<line x1="255.20" y1="744.36" x2="255.20" y2="794.28" stroke="#6e6e6e" stroke-width="1.1"/>
<line x1="251.90" y1="744.36" x2="258.50" y2="744.36" stroke="#6e6e6e" stroke-width="1.1"/>
<line x1="251.90" y1="794.28" x2="258.50" y2="794.28" stroke="#6e6e6e" stroke-width="1.1"/>
<line x1="275.55" y1="741.45" x2="275.55" y2="792.20" stroke="#6e6e6e" stroke-width="1.1"/>
<line x1="272.25" y1="741.45" x2="278.85" y2="741.45" stroke="#6e6e6e" stroke-width="1.1"/>
<line x1="272.25" y1="792.20" x2="278.85" y2="792.20" stroke="#6e6e6e" stroke-width="1.1"/>
<line x1="295.90" y1="735.62" x2="295.90" y2="787.21" stroke="#6e6e6e" stroke-width="1.1"/>
<line x1="292.60" y1="735.62" x2="299.20" y2="735.62" stroke="#6e6e6e" stroke-width="1.1"/>
<line x1="292.60" y1="787.21" x2="299.20" y2="787.21" stroke="#6e6e6e" stroke-width="1.1"/>
<line x1="316.25" y1="717.32" x2="316.25" y2="771.40" stroke="#6e6e6e" stroke-width="1.1"/>
<line x1="312.95" y1="717.32" x2="319.55" y2="717.32" stroke="#6e6e6e" stroke-width="1.1"/>
<line x1="312.95" y1="771.40" x2="319.55" y2="771.40" stroke="#6e6e6e" stroke-width="1.1"/>
<line x1="336.60" y1="713.99" x2="336.60" y2="768.90" stroke="#6e6e6e" stroke-width="1.1"/>
<line x1="333.30" y1="713.99" x2="339.90" y2="713.99" stroke="#6e6e6e" stroke-width="1.1"/>
<line x1="333.30" y1="768.90" x2="339.90" y2="768.90" stroke="#6e6e6e" stroke-width="1.1"/>
<line x1="356.95" y1="676.14" x2="356.95" y2="736.87" stroke="#6e6e6e" stroke-width="1.1"/>
<line x1="353.65" y1="676.14" x2="360.25" y2="676.14" stroke="#6e6e6e" stroke-width="1.1"/>
<line x1="353.65" y1="736.87" x2="360.25" y2="736.87" stroke="#6e6e6e" stroke-width="1.1"/>
<line x1="377.30" y1="674.89" x2="377.30" y2="736.04" stroke="#6e6e6e" stroke-width="1.1"/>
<line x1="374.00" y1="674.89" x2="380.60" y2="674.89" stroke="#6e6e6e" stroke-width="1.1"/>
<line x1="374.00" y1="736.04" x2="380.60" y2="736.04" stroke="#6e6e6e" stroke-width="1.1"/>
<circle cx="72.1" cy="818.4" r="5.6" fill="#fff" stroke="#111" stroke-width="0.9"/>
<circle cx="92.4" cy="802.6" r="5.6" fill="#1c9ee4" stroke="#111" stroke-width="0.9"/>
<circle cx="112.8" cy="799.7" r="5.6" fill="#1c9ee4" stroke="#111" stroke-width="0.9"/>
<circle cx="133.1" cy="795.1" r="5.6" fill="#1c9ee4" stroke="#111" stroke-width="0.9"/>
<circle cx="153.4" cy="792.6" r="5.6" fill="#1c9ee4" stroke="#111" stroke-width="0.9"/>
<circle cx="173.8" cy="785.1" r="5.6" fill="#1c9ee4" stroke="#111" stroke-width="0.9"/>
<circle cx="194.2" cy="783.0" r="5.6" fill="#1c9ee4" stroke="#111" stroke-width="0.9"/>
<circle cx="214.5" cy="781.0" r="5.6" fill="#1c9ee4" stroke="#111" stroke-width="0.9"/>
<circle cx="234.9" cy="772.2" r="5.6" fill="#1c9ee4" stroke="#111" stroke-width="0.9"/>
<circle cx="255.2" cy="769.3" r="5.6" fill="#1c9ee4" stroke="#111" stroke-width="0.9"/>
<circle cx="275.6" cy="766.8" r="5.6" fill="#1c9ee4" stroke="#111" stroke-width="0.9"/>
<circle cx="295.9" cy="761.4" r="5.6" fill="#1c9ee4" stroke="#111" stroke-width="0.9"/>
<circle cx="316.2" cy="744.4" r="5.6" fill="#1c9ee4" stroke="#111" stroke-width="0.9"/>
<circle cx="336.6" cy="741.4" r="5.6" fill="#1c9ee4" stroke="#111" stroke-width="0.9"/>
<circle cx="356.9" cy="706.5" r="5.6" fill="#1c9ee4" stroke="#111" stroke-width="0.9"/>
<circle cx="377.3" cy="705.7" r="5.6" fill="#1c9ee4" stroke="#111" stroke-width="0.9"/>
<text font-size="20.28" fill="#231f20" textLength="168.0" lengthAdjust="spacing" transform="translate(21.0 848.0) rotate(-90)">Ti-in-zircon T (°C)</text>
<circle cx="68.0" cy="659.3" r="10.8" fill="#fff" stroke="#8a8a8a" stroke-width="0.7"/>
<text font-size="21.84" fill="#231f20" text-anchor="middle" font-weight="bold" transform="translate(68.0 663.1) scale(1.1 1)">g</text>
<text font-size="18.20" fill="#231f20" textLength="168.6" lengthAdjust="spacing" transform="translate(80.3 666.0) scale(1.1 1)">16WDG10 Eclogite</text>
<text font-size="16.64" fill="#231f20" text-anchor="end" textLength="115.2" lengthAdjust="spacing" transform="translate(221.7 684.3) scale(1.1 1)">Weighted mean</text>
<text font-size="16.64" fill="#231f20" text-anchor="end" textLength="74.9" lengthAdjust="spacing" transform="translate(221.7 704.0) scale(1.1 1)">700±40°C</text>
<text font-size="16.64" fill="#231f20" text-anchor="end" textLength="85.5" lengthAdjust="spacing" transform="translate(221.7 724.3) scale(1.1 1)">MSWD=1.3</text>
<text font-size="16.64" fill="#231f20" text-anchor="end" textLength="63.6" lengthAdjust="spacing" transform="translate(221.7 743.3) scale(1.1 1)">N=15/16</text>
<line x1="452.70" y1="813.00" x2="798.52" y2="813.00" stroke="#dedede" stroke-width="0.8" stroke-dasharray="3.5 2.5"/>
<line x1="452.70" y1="771.40" x2="798.52" y2="771.40" stroke="#dedede" stroke-width="0.8" stroke-dasharray="3.5 2.5"/>
<line x1="452.70" y1="729.80" x2="798.52" y2="729.80" stroke="#dedede" stroke-width="0.8" stroke-dasharray="3.5 2.5"/>
<line x1="452.70" y1="688.20" x2="798.52" y2="688.20" stroke="#dedede" stroke-width="0.8" stroke-dasharray="3.5 2.5"/>
<line x1="452.70" y1="646.60" x2="798.52" y2="646.60" stroke="#dedede" stroke-width="0.8" stroke-dasharray="3.5 2.5"/>
<rect x="470.00" y="745.00" width="309.00" height="40.70" fill="#e3e3e3"/>
<line x1="470.00" y1="765.00" x2="779.00" y2="765.00" stroke="#0c9a4e" stroke-width="4.2"/>
<line x1="451.70" y1="646.10" x2="451.70" y2="855.20" stroke="#232323" stroke-width="1.3"/>
<line x1="451.10" y1="854.60" x2="798.52" y2="854.60" stroke="#232323" stroke-width="1.3"/>
<line x1="451.70" y1="854.60" x2="455.20" y2="854.60" stroke="#232323" stroke-width="1.0"/>
<text font-size="12.79" fill="#231f20" text-anchor="end" textLength="21.4" lengthAdjust="spacing" transform="translate(449.1 858.6) scale(1.1 1)">500</text>
<line x1="451.70" y1="813.00" x2="455.20" y2="813.00" stroke="#232323" stroke-width="1.0"/>
<text font-size="12.79" fill="#231f20" text-anchor="end" textLength="21.4" lengthAdjust="spacing" transform="translate(449.1 817.0) scale(1.1 1)">600</text>
<line x1="451.70" y1="771.40" x2="455.20" y2="771.40" stroke="#232323" stroke-width="1.0"/>
<text font-size="12.79" fill="#231f20" text-anchor="end" textLength="21.4" lengthAdjust="spacing" transform="translate(449.1 775.4) scale(1.1 1)">700</text>
<line x1="451.70" y1="729.80" x2="455.20" y2="729.80" stroke="#232323" stroke-width="1.0"/>
<text font-size="12.79" fill="#231f20" text-anchor="end" textLength="21.4" lengthAdjust="spacing" transform="translate(449.1 733.8) scale(1.1 1)">800</text>
<line x1="451.70" y1="688.20" x2="455.20" y2="688.20" stroke="#232323" stroke-width="1.0"/>
<text font-size="12.79" fill="#231f20" text-anchor="end" textLength="21.4" lengthAdjust="spacing" transform="translate(449.1 692.2) scale(1.1 1)">900</text>
<line x1="451.70" y1="646.60" x2="455.20" y2="646.60" stroke="#232323" stroke-width="1.0"/>
<text font-size="12.79" fill="#231f20" text-anchor="end" textLength="28.2" lengthAdjust="spacing" transform="translate(449.1 650.6) scale(1.1 1)">1000</text>
<line x1="798.02" y1="854.60" x2="798.02" y2="851.30" stroke="#232323" stroke-width="1.0"/>
<line x1="451.70" y1="854.60" x2="451.70" y2="851.30" stroke="#232323" stroke-width="1.0"/>
<text font-size="13.00" fill="#231f20" text-anchor="middle" transform="translate(451.7 867.8) scale(1.1 1)">0</text>
<line x1="478.34" y1="854.60" x2="478.34" y2="851.30" stroke="#232323" stroke-width="1.0"/>
<text font-size="13.00" fill="#231f20" text-anchor="middle" transform="translate(478.3 867.8) scale(1.1 1)">1</text>
<line x1="504.98" y1="854.60" x2="504.98" y2="851.30" stroke="#232323" stroke-width="1.0"/>
<text font-size="13.00" fill="#231f20" text-anchor="middle" transform="translate(505.0 867.8) scale(1.1 1)">2</text>
<line x1="531.62" y1="854.60" x2="531.62" y2="851.30" stroke="#232323" stroke-width="1.0"/>
<text font-size="13.00" fill="#231f20" text-anchor="middle" transform="translate(531.6 867.8) scale(1.1 1)">3</text>
<line x1="558.26" y1="854.60" x2="558.26" y2="851.30" stroke="#232323" stroke-width="1.0"/>
<text font-size="13.00" fill="#231f20" text-anchor="middle" transform="translate(558.3 867.8) scale(1.1 1)">4</text>
<line x1="584.90" y1="854.60" x2="584.90" y2="851.30" stroke="#232323" stroke-width="1.0"/>
<text font-size="13.00" fill="#231f20" text-anchor="middle" transform="translate(584.9 867.8) scale(1.1 1)">5</text>
<line x1="611.54" y1="854.60" x2="611.54" y2="851.30" stroke="#232323" stroke-width="1.0"/>
<text font-size="13.00" fill="#231f20" text-anchor="middle" transform="translate(611.5 867.8) scale(1.1 1)">6</text>
<line x1="638.18" y1="854.60" x2="638.18" y2="851.30" stroke="#232323" stroke-width="1.0"/>
<text font-size="13.00" fill="#231f20" text-anchor="middle" transform="translate(638.2 867.8) scale(1.1 1)">7</text>
<line x1="664.82" y1="854.60" x2="664.82" y2="851.30" stroke="#232323" stroke-width="1.0"/>
<text font-size="13.00" fill="#231f20" text-anchor="middle" transform="translate(664.8 867.8) scale(1.1 1)">8</text>
<line x1="691.46" y1="854.60" x2="691.46" y2="851.30" stroke="#232323" stroke-width="1.0"/>
<text font-size="13.00" fill="#231f20" text-anchor="middle" transform="translate(691.5 867.8) scale(1.1 1)">9</text>
<line x1="718.10" y1="854.60" x2="718.10" y2="851.30" stroke="#232323" stroke-width="1.0"/>
<text font-size="13.00" fill="#231f20" text-anchor="middle" textLength="13.6" lengthAdjust="spacing" transform="translate(718.1 867.8) scale(1.1 1)">10</text>
<line x1="744.74" y1="854.60" x2="744.74" y2="851.30" stroke="#232323" stroke-width="1.0"/>
<text font-size="13.00" fill="#231f20" text-anchor="middle" textLength="13.6" lengthAdjust="spacing" transform="translate(744.7 867.8) scale(1.1 1)">11</text>
<line x1="771.38" y1="854.60" x2="771.38" y2="851.30" stroke="#232323" stroke-width="1.0"/>
<text font-size="13.00" fill="#231f20" text-anchor="middle" textLength="13.6" lengthAdjust="spacing" transform="translate(771.4 867.8) scale(1.1 1)">12</text>
<line x1="478.34" y1="782.63" x2="478.34" y2="826.73" stroke="#6e6e6e" stroke-width="1.1"/>
<line x1="475.04" y1="782.63" x2="481.64" y2="782.63" stroke="#6e6e6e" stroke-width="1.1"/>
<line x1="475.04" y1="826.73" x2="481.64" y2="826.73" stroke="#6e6e6e" stroke-width="1.1"/>
<line x1="504.98" y1="778.89" x2="504.98" y2="823.40" stroke="#6e6e6e" stroke-width="1.1"/>
<line x1="501.68" y1="778.89" x2="508.28" y2="778.89" stroke="#6e6e6e" stroke-width="1.1"/>
<line x1="501.68" y1="823.40" x2="508.28" y2="823.40" stroke="#6e6e6e" stroke-width="1.1"/>
<line x1="531.62" y1="768.07" x2="531.62" y2="814.66" stroke="#6e6e6e" stroke-width="1.1"/>
<line x1="528.32" y1="768.07" x2="534.92" y2="768.07" stroke="#6e6e6e" stroke-width="1.1"/>
<line x1="528.32" y1="814.66" x2="534.92" y2="814.66" stroke="#6e6e6e" stroke-width="1.1"/>
<line x1="558.26" y1="754.76" x2="558.26" y2="803.02" stroke="#6e6e6e" stroke-width="1.1"/>
<line x1="554.96" y1="754.76" x2="561.56" y2="754.76" stroke="#6e6e6e" stroke-width="1.1"/>
<line x1="554.96" y1="803.02" x2="561.56" y2="803.02" stroke="#6e6e6e" stroke-width="1.1"/>
<line x1="584.90" y1="749.35" x2="584.90" y2="798.44" stroke="#6e6e6e" stroke-width="1.1"/>
<line x1="581.60" y1="749.35" x2="588.20" y2="749.35" stroke="#6e6e6e" stroke-width="1.1"/>
<line x1="581.60" y1="798.44" x2="588.20" y2="798.44" stroke="#6e6e6e" stroke-width="1.1"/>
<line x1="611.54" y1="746.02" x2="611.54" y2="795.94" stroke="#6e6e6e" stroke-width="1.1"/>
<line x1="608.24" y1="746.02" x2="614.84" y2="746.02" stroke="#6e6e6e" stroke-width="1.1"/>
<line x1="608.24" y1="795.94" x2="614.84" y2="795.94" stroke="#6e6e6e" stroke-width="1.1"/>
<line x1="638.18" y1="732.30" x2="638.18" y2="783.88" stroke="#6e6e6e" stroke-width="1.1"/>
<line x1="634.88" y1="732.30" x2="641.48" y2="732.30" stroke="#6e6e6e" stroke-width="1.1"/>
<line x1="634.88" y1="783.88" x2="641.48" y2="783.88" stroke="#6e6e6e" stroke-width="1.1"/>
<line x1="664.82" y1="731.46" x2="664.82" y2="783.88" stroke="#6e6e6e" stroke-width="1.1"/>
<line x1="661.52" y1="731.46" x2="668.12" y2="731.46" stroke="#6e6e6e" stroke-width="1.1"/>
<line x1="661.52" y1="783.88" x2="668.12" y2="783.88" stroke="#6e6e6e" stroke-width="1.1"/>
<line x1="691.46" y1="731.46" x2="691.46" y2="783.88" stroke="#6e6e6e" stroke-width="1.1"/>
<line x1="688.16" y1="731.46" x2="694.76" y2="731.46" stroke="#6e6e6e" stroke-width="1.1"/>
<line x1="688.16" y1="783.88" x2="694.76" y2="783.88" stroke="#6e6e6e" stroke-width="1.1"/>
<line x1="718.10" y1="701.10" x2="718.10" y2="757.67" stroke="#6e6e6e" stroke-width="1.1"/>
<line x1="714.80" y1="701.10" x2="721.40" y2="701.10" stroke="#6e6e6e" stroke-width="1.1"/>
<line x1="714.80" y1="757.67" x2="721.40" y2="757.67" stroke="#6e6e6e" stroke-width="1.1"/>
<line x1="744.74" y1="691.94" x2="744.74" y2="750.18" stroke="#6e6e6e" stroke-width="1.1"/>
<line x1="741.44" y1="691.94" x2="748.04" y2="691.94" stroke="#6e6e6e" stroke-width="1.1"/>
<line x1="741.44" y1="750.18" x2="748.04" y2="750.18" stroke="#6e6e6e" stroke-width="1.1"/>
<line x1="771.38" y1="669.48" x2="771.38" y2="731.46" stroke="#6e6e6e" stroke-width="1.1"/>
<line x1="768.08" y1="669.48" x2="774.68" y2="669.48" stroke="#6e6e6e" stroke-width="1.1"/>
<line x1="768.08" y1="731.46" x2="774.68" y2="731.46" stroke="#6e6e6e" stroke-width="1.1"/>
<rect x="472.34" y="798.68" width="12.00" height="12.00" fill="#0c9a4e" stroke="#111" stroke-width="0.9"/>
<rect x="498.98" y="795.35" width="12.00" height="12.00" fill="#0c9a4e" stroke="#111" stroke-width="0.9"/>
<rect x="525.62" y="785.37" width="12.00" height="12.00" fill="#0c9a4e" stroke="#111" stroke-width="0.9"/>
<rect x="552.26" y="772.89" width="12.00" height="12.00" fill="#0c9a4e" stroke="#111" stroke-width="0.9"/>
<rect x="578.90" y="767.90" width="12.00" height="12.00" fill="#0c9a4e" stroke="#111" stroke-width="0.9"/>
<rect x="605.54" y="764.98" width="12.00" height="12.00" fill="#0c9a4e" stroke="#111" stroke-width="0.9"/>
<rect x="632.18" y="752.09" width="12.00" height="12.00" fill="#0c9a4e" stroke="#111" stroke-width="0.9"/>
<rect x="658.82" y="751.67" width="12.00" height="12.00" fill="#0c9a4e" stroke="#111" stroke-width="0.9"/>
<rect x="685.46" y="751.67" width="12.00" height="12.00" fill="#0c9a4e" stroke="#111" stroke-width="0.9"/>
<rect x="712.10" y="723.38" width="12.00" height="12.00" fill="#0c9a4e" stroke="#111" stroke-width="0.9"/>
<rect x="738.74" y="715.06" width="12.00" height="12.00" fill="#0c9a4e" stroke="#111" stroke-width="0.9"/>
<rect x="765.38" y="694.68" width="12.00" height="12.00" fill="#0c9a4e" stroke="#111" stroke-width="0.9"/>
<text font-size="20.28" fill="#231f20" textLength="168.0" lengthAdjust="spacing" transform="translate(421.0 848.0) rotate(-90)">Ti-in-zircon T (°C)</text>
<circle cx="466.5" cy="659.3" r="10.8" fill="#fff" stroke="#8a8a8a" stroke-width="0.7"/>
<text font-size="21.84" fill="#231f20" text-anchor="middle" font-weight="bold" transform="translate(466.5 665.8) scale(1.1 1)">h</text>
<text font-size="18.20" fill="#231f20" textLength="167.3" lengthAdjust="spacing" transform="translate(481.0 666.0) scale(1.1 1)">16WDG17 Eclogite</text>
<text font-size="16.64" fill="#231f20" text-anchor="end" textLength="114.8" lengthAdjust="spacing" transform="translate(604.0 685.0) scale(1.1 1)">Weighted mean</text>
<text font-size="16.64" fill="#231f20" text-anchor="end" textLength="73.4" lengthAdjust="spacing" transform="translate(604.0 705.0) scale(1.1 1)">710±45°C</text>
<text font-size="16.64" fill="#231f20" text-anchor="end" textLength="85.5" lengthAdjust="spacing" transform="translate(604.0 725.0) scale(1.1 1)">MSWD=1.4</text>
<text font-size="16.64" fill="#231f20" text-anchor="end" textLength="62.7" lengthAdjust="spacing" transform="translate(604.0 744.3) scale(1.1 1)">N=12/12</text>
<line x1="846.70" y1="813.00" x2="1192.66" y2="813.00" stroke="#dedede" stroke-width="0.8" stroke-dasharray="3.5 2.5"/>
<line x1="846.70" y1="771.40" x2="1192.66" y2="771.40" stroke="#dedede" stroke-width="0.8" stroke-dasharray="3.5 2.5"/>
<line x1="846.70" y1="729.80" x2="1192.66" y2="729.80" stroke="#dedede" stroke-width="0.8" stroke-dasharray="3.5 2.5"/>
<line x1="846.70" y1="688.20" x2="1192.66" y2="688.20" stroke="#dedede" stroke-width="0.8" stroke-dasharray="3.5 2.5"/>
<line x1="846.70" y1="646.60" x2="1192.66" y2="646.60" stroke="#dedede" stroke-width="0.8" stroke-dasharray="3.5 2.5"/>
<rect x="860.00" y="740.00" width="316.70" height="35.70" fill="#e3e3e3"/>
<line x1="860.00" y1="757.70" x2="1176.70" y2="757.70" stroke="#ee161e" stroke-width="4.2"/>
<line x1="845.70" y1="646.10" x2="845.70" y2="855.20" stroke="#232323" stroke-width="1.3"/>
<line x1="845.10" y1="854.60" x2="1192.66" y2="854.60" stroke="#232323" stroke-width="1.3"/>
<line x1="845.70" y1="854.60" x2="849.20" y2="854.60" stroke="#232323" stroke-width="1.0"/>
<text font-size="12.79" fill="#231f20" text-anchor="end" textLength="21.4" lengthAdjust="spacing" transform="translate(843.1 858.6) scale(1.1 1)">500</text>
<line x1="845.70" y1="813.00" x2="849.20" y2="813.00" stroke="#232323" stroke-width="1.0"/>
<text font-size="12.79" fill="#231f20" text-anchor="end" textLength="21.4" lengthAdjust="spacing" transform="translate(843.1 817.0) scale(1.1 1)">600</text>
<line x1="845.70" y1="771.40" x2="849.20" y2="771.40" stroke="#232323" stroke-width="1.0"/>
<text font-size="12.79" fill="#231f20" text-anchor="end" textLength="21.4" lengthAdjust="spacing" transform="translate(843.1 775.4) scale(1.1 1)">700</text>
<line x1="845.70" y1="729.80" x2="849.20" y2="729.80" stroke="#232323" stroke-width="1.0"/>
<text font-size="12.79" fill="#231f20" text-anchor="end" textLength="21.4" lengthAdjust="spacing" transform="translate(843.1 733.8) scale(1.1 1)">800</text>
<line x1="845.70" y1="688.20" x2="849.20" y2="688.20" stroke="#232323" stroke-width="1.0"/>
<text font-size="12.79" fill="#231f20" text-anchor="end" textLength="21.4" lengthAdjust="spacing" transform="translate(843.1 692.2) scale(1.1 1)">900</text>
<line x1="845.70" y1="646.60" x2="849.20" y2="646.60" stroke="#232323" stroke-width="1.0"/>
<text font-size="12.79" fill="#231f20" text-anchor="end" textLength="28.2" lengthAdjust="spacing" transform="translate(843.1 650.6) scale(1.1 1)">1000</text>
<line x1="1192.16" y1="854.60" x2="1192.16" y2="851.30" stroke="#232323" stroke-width="1.0"/>
<line x1="845.70" y1="854.60" x2="845.70" y2="851.30" stroke="#232323" stroke-width="1.0"/>
<text font-size="13.00" fill="#231f20" text-anchor="middle" transform="translate(845.7 867.8) scale(1.1 1)">0</text>
<line x1="866.08" y1="854.60" x2="866.08" y2="851.30" stroke="#232323" stroke-width="1.0"/>
<text font-size="13.00" fill="#231f20" text-anchor="middle" transform="translate(866.1 867.8) scale(1.1 1)">1</text>
<line x1="886.46" y1="854.60" x2="886.46" y2="851.30" stroke="#232323" stroke-width="1.0"/>
<text font-size="13.00" fill="#231f20" text-anchor="middle" transform="translate(886.5 867.8) scale(1.1 1)">2</text>
<line x1="906.84" y1="854.60" x2="906.84" y2="851.30" stroke="#232323" stroke-width="1.0"/>
<text font-size="13.00" fill="#231f20" text-anchor="middle" transform="translate(906.8 867.8) scale(1.1 1)">3</text>
<line x1="927.22" y1="854.60" x2="927.22" y2="851.30" stroke="#232323" stroke-width="1.0"/>
<text font-size="13.00" fill="#231f20" text-anchor="middle" transform="translate(927.2 867.8) scale(1.1 1)">4</text>
<line x1="947.60" y1="854.60" x2="947.60" y2="851.30" stroke="#232323" stroke-width="1.0"/>
<text font-size="13.00" fill="#231f20" text-anchor="middle" transform="translate(947.6 867.8) scale(1.1 1)">5</text>
<line x1="967.98" y1="854.60" x2="967.98" y2="851.30" stroke="#232323" stroke-width="1.0"/>
<text font-size="13.00" fill="#231f20" text-anchor="middle" transform="translate(968.0 867.8) scale(1.1 1)">6</text>
<line x1="988.36" y1="854.60" x2="988.36" y2="851.30" stroke="#232323" stroke-width="1.0"/>
<text font-size="13.00" fill="#231f20" text-anchor="middle" transform="translate(988.4 867.8) scale(1.1 1)">7</text>
<line x1="1008.74" y1="854.60" x2="1008.74" y2="851.30" stroke="#232323" stroke-width="1.0"/>
<text font-size="13.00" fill="#231f20" text-anchor="middle" transform="translate(1008.7 867.8) scale(1.1 1)">8</text>
<line x1="1029.12" y1="854.60" x2="1029.12" y2="851.30" stroke="#232323" stroke-width="1.0"/>
<text font-size="13.00" fill="#231f20" text-anchor="middle" transform="translate(1029.1 867.8) scale(1.1 1)">9</text>
<line x1="1049.50" y1="854.60" x2="1049.50" y2="851.30" stroke="#232323" stroke-width="1.0"/>
<text font-size="13.00" fill="#231f20" text-anchor="middle" textLength="13.6" lengthAdjust="spacing" transform="translate(1049.5 867.8) scale(1.1 1)">10</text>
<line x1="1069.88" y1="854.60" x2="1069.88" y2="851.30" stroke="#232323" stroke-width="1.0"/>
<text font-size="13.00" fill="#231f20" text-anchor="middle" textLength="13.6" lengthAdjust="spacing" transform="translate(1069.9 867.8) scale(1.1 1)">11</text>
<line x1="1090.26" y1="854.60" x2="1090.26" y2="851.30" stroke="#232323" stroke-width="1.0"/>
<text font-size="13.00" fill="#231f20" text-anchor="middle" textLength="13.6" lengthAdjust="spacing" transform="translate(1090.3 867.8) scale(1.1 1)">12</text>
<line x1="1110.64" y1="854.60" x2="1110.64" y2="851.30" stroke="#232323" stroke-width="1.0"/>
<text font-size="13.00" fill="#231f20" text-anchor="middle" textLength="13.6" lengthAdjust="spacing" transform="translate(1110.6 867.8) scale(1.1 1)">13</text>
<line x1="1131.02" y1="854.60" x2="1131.02" y2="851.30" stroke="#232323" stroke-width="1.0"/>
<text font-size="13.00" fill="#231f20" text-anchor="middle" textLength="13.6" lengthAdjust="spacing" transform="translate(1131.0 867.8) scale(1.1 1)">14</text>
<line x1="1151.40" y1="854.60" x2="1151.40" y2="851.30" stroke="#232323" stroke-width="1.0"/>
<text font-size="13.00" fill="#231f20" text-anchor="middle" textLength="13.6" lengthAdjust="spacing" transform="translate(1151.4 867.8) scale(1.1 1)">15</text>
<line x1="1171.78" y1="854.60" x2="1171.78" y2="851.30" stroke="#232323" stroke-width="1.0"/>
<text font-size="13.00" fill="#231f20" text-anchor="middle" textLength="13.6" lengthAdjust="spacing" transform="translate(1171.8 867.8) scale(1.1 1)">16</text>
<line x1="866.08" y1="786.38" x2="866.08" y2="830.47" stroke="#6e6e6e" stroke-width="1.1"/>
<line x1="862.78" y1="786.38" x2="869.38" y2="786.38" stroke="#6e6e6e" stroke-width="1.1"/>
<line x1="862.78" y1="830.47" x2="869.38" y2="830.47" stroke="#6e6e6e" stroke-width="1.1"/>
<line x1="886.46" y1="775.56" x2="886.46" y2="820.49" stroke="#6e6e6e" stroke-width="1.1"/>
<line x1="883.16" y1="775.56" x2="889.76" y2="775.56" stroke="#6e6e6e" stroke-width="1.1"/>
<line x1="883.16" y1="820.49" x2="889.76" y2="820.49" stroke="#6e6e6e" stroke-width="1.1"/>
<line x1="906.84" y1="774.73" x2="906.84" y2="819.66" stroke="#6e6e6e" stroke-width="1.1"/>
<line x1="903.54" y1="774.73" x2="910.14" y2="774.73" stroke="#6e6e6e" stroke-width="1.1"/>
<line x1="903.54" y1="819.66" x2="910.14" y2="819.66" stroke="#6e6e6e" stroke-width="1.1"/>
<line x1="927.22" y1="771.82" x2="927.22" y2="817.58" stroke="#6e6e6e" stroke-width="1.1"/>
<line x1="923.92" y1="771.82" x2="930.52" y2="771.82" stroke="#6e6e6e" stroke-width="1.1"/>
<line x1="923.92" y1="817.58" x2="930.52" y2="817.58" stroke="#6e6e6e" stroke-width="1.1"/>
<line x1="947.60" y1="751.85" x2="947.60" y2="800.52" stroke="#6e6e6e" stroke-width="1.1"/>
<line x1="944.30" y1="751.85" x2="950.90" y2="751.85" stroke="#6e6e6e" stroke-width="1.1"/>
<line x1="944.30" y1="800.52" x2="950.90" y2="800.52" stroke="#6e6e6e" stroke-width="1.1"/>
<line x1="967.98" y1="744.36" x2="967.98" y2="794.28" stroke="#6e6e6e" stroke-width="1.1"/>
<line x1="964.68" y1="744.36" x2="971.28" y2="744.36" stroke="#6e6e6e" stroke-width="1.1"/>
<line x1="964.68" y1="794.28" x2="971.28" y2="794.28" stroke="#6e6e6e" stroke-width="1.1"/>
<line x1="988.36" y1="742.28" x2="988.36" y2="792.20" stroke="#6e6e6e" stroke-width="1.1"/>
<line x1="985.06" y1="742.28" x2="991.66" y2="742.28" stroke="#6e6e6e" stroke-width="1.1"/>
<line x1="985.06" y1="792.20" x2="991.66" y2="792.20" stroke="#6e6e6e" stroke-width="1.1"/>
<line x1="1008.74" y1="741.45" x2="1008.74" y2="791.78" stroke="#6e6e6e" stroke-width="1.1"/>
<line x1="1005.44" y1="741.45" x2="1012.04" y2="741.45" stroke="#6e6e6e" stroke-width="1.1"/>
<line x1="1005.44" y1="791.78" x2="1012.04" y2="791.78" stroke="#6e6e6e" stroke-width="1.1"/>
<line x1="1029.12" y1="732.71" x2="1029.12" y2="784.30" stroke="#6e6e6e" stroke-width="1.1"/>
<line x1="1025.82" y1="732.71" x2="1032.42" y2="732.71" stroke="#6e6e6e" stroke-width="1.1"/>
<line x1="1025.82" y1="784.30" x2="1032.42" y2="784.30" stroke="#6e6e6e" stroke-width="1.1"/>
<line x1="1049.50" y1="731.46" x2="1049.50" y2="783.46" stroke="#6e6e6e" stroke-width="1.1"/>
<line x1="1046.20" y1="731.46" x2="1052.80" y2="731.46" stroke="#6e6e6e" stroke-width="1.1"/>
<line x1="1046.20" y1="783.46" x2="1052.80" y2="783.46" stroke="#6e6e6e" stroke-width="1.1"/>
<line x1="1069.88" y1="718.15" x2="1069.88" y2="772.23" stroke="#6e6e6e" stroke-width="1.1"/>
<line x1="1066.58" y1="718.15" x2="1073.18" y2="718.15" stroke="#6e6e6e" stroke-width="1.1"/>
<line x1="1066.58" y1="772.23" x2="1073.18" y2="772.23" stroke="#6e6e6e" stroke-width="1.1"/>
<line x1="1090.26" y1="701.51" x2="1090.26" y2="758.09" stroke="#6e6e6e" stroke-width="1.1"/>
<line x1="1086.96" y1="701.51" x2="1093.56" y2="701.51" stroke="#6e6e6e" stroke-width="1.1"/>
<line x1="1086.96" y1="758.09" x2="1093.56" y2="758.09" stroke="#6e6e6e" stroke-width="1.1"/>
<line x1="1110.64" y1="697.35" x2="1110.64" y2="754.76" stroke="#6e6e6e" stroke-width="1.1"/>
<line x1="1107.34" y1="697.35" x2="1113.94" y2="697.35" stroke="#6e6e6e" stroke-width="1.1"/>
<line x1="1107.34" y1="754.76" x2="1113.94" y2="754.76" stroke="#6e6e6e" stroke-width="1.1"/>
<line x1="1131.02" y1="697.35" x2="1131.02" y2="754.76" stroke="#6e6e6e" stroke-width="1.1"/>
<line x1="1127.72" y1="697.35" x2="1134.32" y2="697.35" stroke="#6e6e6e" stroke-width="1.1"/>
<line x1="1127.72" y1="754.76" x2="1134.32" y2="754.76" stroke="#6e6e6e" stroke-width="1.1"/>
<line x1="1151.40" y1="692.36" x2="1151.40" y2="750.60" stroke="#6e6e6e" stroke-width="1.1"/>
<line x1="1148.10" y1="692.36" x2="1154.70" y2="692.36" stroke="#6e6e6e" stroke-width="1.1"/>
<line x1="1148.10" y1="750.60" x2="1154.70" y2="750.60" stroke="#6e6e6e" stroke-width="1.1"/>
<line x1="1171.78" y1="666.98" x2="1171.78" y2="729.38" stroke="#6e6e6e" stroke-width="1.1"/>
<line x1="1168.48" y1="666.98" x2="1175.08" y2="666.98" stroke="#6e6e6e" stroke-width="1.1"/>
<line x1="1168.48" y1="729.38" x2="1175.08" y2="729.38" stroke="#6e6e6e" stroke-width="1.1"/>
<polygon points="866.1,801.2 873.3,808.4 866.1,815.6 858.9,808.4" fill="#fff" stroke="#111" stroke-width="0.9"/>
<polygon points="886.5,790.8 893.7,798.0 886.5,805.2 879.3,798.0" fill="#ee161e" stroke="#111" stroke-width="0.9"/>
<polygon points="906.8,790.0 914.0,797.2 906.8,804.4 899.6,797.2" fill="#ee161e" stroke="#111" stroke-width="0.9"/>
<polygon points="927.2,787.5 934.4,794.7 927.2,801.9 920.0,794.7" fill="#ee161e" stroke="#111" stroke-width="0.9"/>
<polygon points="947.6,769.2 954.8,776.4 947.6,783.6 940.4,776.4" fill="#ee161e" stroke="#111" stroke-width="0.9"/>
<polygon points="968.0,762.1 975.2,769.3 968.0,776.5 960.8,769.3" fill="#ee161e" stroke="#111" stroke-width="0.9"/>
<polygon points="988.4,760.0 995.6,767.2 988.4,774.4 981.2,767.2" fill="#ee161e" stroke="#111" stroke-width="0.9"/>
<polygon points="1008.7,759.6 1015.9,766.8 1008.7,774.0 1001.5,766.8" fill="#ee161e" stroke="#111" stroke-width="0.9"/>
<polygon points="1029.1,751.3 1036.3,758.5 1029.1,765.7 1021.9,758.5" fill="#ee161e" stroke="#111" stroke-width="0.9"/>
<polygon points="1049.5,750.5 1056.7,757.7 1049.5,764.9 1042.3,757.7" fill="#ee161e" stroke="#111" stroke-width="0.9"/>
<polygon points="1069.9,738.0 1077.1,745.2 1069.9,752.4 1062.7,745.2" fill="#ee161e" stroke="#111" stroke-width="0.9"/>
<polygon points="1090.3,722.6 1097.5,729.8 1090.3,737.0 1083.1,729.8" fill="#ee161e" stroke="#111" stroke-width="0.9"/>
<polygon points="1110.6,718.9 1117.8,726.1 1110.6,733.3 1103.4,726.1" fill="#ee161e" stroke="#111" stroke-width="0.9"/>
<polygon points="1131.0,718.9 1138.2,726.1 1131.0,733.3 1123.8,726.1" fill="#ee161e" stroke="#111" stroke-width="0.9"/>
<polygon points="1151.4,714.3 1158.6,721.5 1151.4,728.7 1144.2,721.5" fill="#ee161e" stroke="#111" stroke-width="0.9"/>
<polygon points="1171.8,691.0 1179.0,698.2 1171.8,705.4 1164.6,698.2" fill="#ee161e" stroke="#111" stroke-width="0.9"/>
<text font-size="20.28" fill="#231f20" textLength="168.0" lengthAdjust="spacing" transform="translate(815.0 848.0) rotate(-90)">Ti-in-zircon T (°C)</text>
<circle cx="861.7" cy="659.3" r="10.8" fill="#fff" stroke="#8a8a8a" stroke-width="0.7"/>
<text font-size="21.84" fill="#231f20" text-anchor="middle" font-weight="bold" transform="translate(861.7 665.8) scale(1.1 1)">i</text>
<text font-size="18.20" fill="#231f20" textLength="168.2" lengthAdjust="spacing" transform="translate(875.0 664.0) scale(1.1 1)">16WDG19 Eclogite</text>
<text font-size="16.64" fill="#231f20" text-anchor="end" textLength="114.3" lengthAdjust="spacing" transform="translate(1189.0 787.7) scale(1.1 1)">Weighted mean</text>
<text font-size="16.64" fill="#231f20" text-anchor="end" textLength="74.9" lengthAdjust="spacing" transform="translate(1189.0 807.3) scale(1.1 1)">730±40°C</text>
<text font-size="16.64" fill="#231f20" text-anchor="end" textLength="85.5" lengthAdjust="spacing" transform="translate(1189.0 827.3) scale(1.1 1)">MSWD=1.3</text>
<text font-size="16.64" fill="#231f20" text-anchor="end" textLength="63.6" lengthAdjust="spacing" transform="translate(1189.0 846.7) scale(1.1 1)">N=15/16</text>
<g clip-path="url(#cp7)">
<rect x="13.70" y="876.70" width="196.30" height="135.80" fill="#0b0b0b"/>
<g filter="url(#b30)">
<polygon points="78.7,903.3 126.7,895.0 166.7,890.8 166.7,906.7 78.7,913.3" fill="#3a3a3a"/>
</g>
<g filter="url(#b08)">
<polygon points="73.3,905.8 126.7,898.7 166.7,893.3 203.3,925.0 203.3,963.3 170.0,999.2 73.3,1009.7" fill="#7b7b7b"/>
<polygon points="95.8,940.8 110.0,943.3 118.3,950.0 130.3,958.3 123.3,962.0 103.3,962.8 96.7,957.5" fill="#1e1e1e"/>
<polygon points="95.3,939.7 103.3,938.7 113.3,940.8 114.7,945.8 110.0,944.2 100.0,943.3 96.7,948.3 94.7,948.3" fill="#b8b8b8"/>
<ellipse cx="94.17" cy="960.83" rx="2.60" ry="2.20" fill="#e8e8e8"/>
<ellipse cx="127.50" cy="969.17" rx="2.20" ry="1.60" fill="#222"/>
<ellipse cx="82.00" cy="914.67" rx="1.60" ry="3.00" fill="#ddd"/>
</g>
<polyline points="126.7,963.3 143.3,965.3 156.7,968.3 170.0,970.5" fill="none" stroke="#4a4a4a" stroke-width="0.6"/>
<rect x="13.7" y="876.7" width="196.3" height="135.8" filter="url(#nz)" opacity="0.05"/>
</g>
<g clip-path="url(#cp8)">
<rect x="13.70" y="1012.50" width="193.80" height="156.70" fill="#0b0b0b"/>
<g filter="url(#b08)">
<polygon points="20.0,1045.8 79.2,1045.8 79.2,1025.0 110.0,1020.8 126.7,1031.7 140.0,1050.0 155.0,1055.0 176.7,1063.3 185.0,1060.8 191.7,1068.3 195.0,1110.0 201.7,1130.0 193.3,1148.3 160.0,1157.5 126.7,1156.7 79.2,1158.7 79.2,1080.0 16.7,1080.0 20.0,1060.0" fill="#6f6f6f"/>
<polygon points="151.3,1067.5 156.7,1065.8 175.0,1068.3 170.0,1080.0 160.0,1082.0 153.3,1076.7" fill="#2f2f2f"/>
<ellipse cx="100.83" cy="1070.00" rx="1.20" ry="1.20" fill="#2a2a2a"/>
<ellipse cx="130.00" cy="1074.17" rx="1.20" ry="1.20" fill="#2a2a2a"/>
<ellipse cx="179.17" cy="1136.17" rx="1.60" ry="1.60" fill="#2a2a2a"/>
<ellipse cx="192.50" cy="1135.33" rx="1.60" ry="1.60" fill="#2a2a2a"/>
<ellipse cx="87.50" cy="1122.50" rx="1.00" ry="1.00" fill="#2a2a2a"/>
<ellipse cx="167.50" cy="1133.33" rx="1.00" ry="1.00" fill="#2a2a2a"/>
<ellipse cx="103.33" cy="1045.83" rx="0.90" ry="0.90" fill="#2a2a2a"/>
<ellipse cx="121.67" cy="1137.50" rx="0.90" ry="0.90" fill="#2a2a2a"/>
</g>
<rect x="13.7" y="1012.5" width="193.8" height="156.7" filter="url(#nz)" opacity="0.05"/>
</g>
<g clip-path="url(#cp9)">
<rect x="210.00" y="876.70" width="187.50" height="135.80" fill="#2d2d2d"/>
<g filter="url(#b15)">
<path d="M216.7,973.3 C216.4,966.1 219.7,952.2 221.7,943.3 C223.6,934.4 222.8,925.8 228.3,920.0 C233.9,914.2 244.2,911.4 255.0,908.3 C265.8,905.3 278.9,903.6 293.3,901.7 C307.8,899.7 330.6,896.7 341.7,896.7 C352.8,896.7 355.8,898.9 360.0,901.7 C364.2,904.4 361.7,906.9 366.7,913.3 C371.7,919.7 385.8,933.3 390.0,940.0 C394.2,946.7 394.2,947.8 391.7,953.3 C389.2,958.9 384.7,967.8 375.0,973.3 C365.3,978.9 348.6,982.8 333.3,986.7 C318.1,990.6 298.1,995.0 283.3,996.7 C268.6,998.3 255.0,998.3 245.0,996.7 C235.0,995.0 228.1,990.6 223.3,986.7 C218.6,982.8 216.9,980.6 216.7,973.3Z" fill="#4f4f4f" stroke="#5c5c5c" stroke-width="1.5"/>
<polygon points="243.3,918.3 275.0,910.0 316.7,906.7 320.0,925.0 303.3,940.0 273.3,940.0 246.7,933.3" fill="#666"/>
<polygon points="278.3,912.5 313.3,909.2 315.0,920.0 280.0,923.3" fill="#505050"/>
</g>
<rect x="210.0" y="876.7" width="187.5" height="135.8" filter="url(#nz)" opacity="0.1"/>
</g>
<g clip-path="url(#cp10)">
<rect x="206.70" y="1012.50" width="190.80" height="156.70" fill="#2c2c2c"/>
<g filter="url(#b15)">
<path d="M216.7,1080.0 C216.7,1071.1 218.9,1063.6 221.7,1056.7 C224.4,1049.7 226.4,1043.1 233.3,1038.3 C240.3,1033.6 252.8,1030.4 263.3,1028.3 C273.9,1026.2 286.4,1025.0 296.7,1025.8 C306.9,1026.7 317.5,1031.8 325.0,1033.3 C332.5,1034.9 337.5,1031.9 341.7,1035.0 C345.8,1038.1 346.4,1044.7 350.0,1051.7 C353.6,1058.6 357.8,1069.2 363.3,1076.7 C368.9,1084.2 380.3,1090.6 383.3,1096.7 C386.4,1102.8 384.4,1107.2 381.7,1113.3 C378.9,1119.4 373.3,1127.5 366.7,1133.3 C360.0,1139.2 352.8,1144.7 341.7,1148.3 C330.6,1151.9 313.1,1154.4 300.0,1155.0 C286.9,1155.6 273.6,1154.7 263.3,1151.7 C253.1,1148.6 245.3,1143.6 238.3,1136.7 C231.4,1129.7 225.3,1119.4 221.7,1110.0 C218.1,1100.6 216.7,1088.9 216.7,1080.0Z" fill="#494949"/>
<polygon points="235.0,1068.3 250.0,1060.0 280.0,1065.0 293.3,1090.0 286.7,1110.0 266.7,1116.7 243.3,1103.3" fill="#525252"/>
<polygon points="250.0,1126.7 293.3,1116.7 316.7,1130.0 336.7,1143.3 300.0,1151.7 266.7,1148.3" fill="#525252"/>
</g>
<g filter="url(#b08)">
<ellipse cx="379.70" cy="1102.80" rx="2.00" ry="2.00" fill="#f0f0f0"/>
</g>
<rect x="206.7" y="1012.5" width="190.8" height="156.7" filter="url(#nz)" opacity="0.1"/>
</g>
<line x1="78.70" y1="1012.50" x2="397.50" y2="1012.50" stroke="#f2f2f2" stroke-width="1.0"/>
<rect x="13.70" y="905.00" width="65.00" height="138.30" fill="#4b6d94"/>
<text font-size="14.56" fill="#eef2f7" transform="translate(15.8 922.5) scale(0.95 1)" stroke="#eef2f7" stroke-width="0.3">Si</text>
<text font-size="15.08" fill="#d9e14a" transform="translate(44.2 922.5) scale(0.88 1)" stroke="#d9e14a" stroke-width="0.35">52.4</text>
<text font-size="14.56" fill="#eef2f7" transform="translate(15.8 942.1) scale(0.95 1)" stroke="#eef2f7" stroke-width="0.3">Al</text>
<text font-size="15.08" fill="#d9e14a" transform="translate(44.2 942.1) scale(0.88 1)" stroke="#d9e14a" stroke-width="0.35">29.8</text>
<text font-size="14.56" fill="#eef2f7" transform="translate(15.8 961.7) scale(0.95 1)" stroke="#eef2f7" stroke-width="0.3">Fe</text>
<text font-size="15.08" fill="#d9e14a" transform="translate(44.2 961.7) scale(0.88 1)" stroke="#d9e14a" stroke-width="0.35">11.9</text>
<text font-size="14.56" fill="#eef2f7" transform="translate(15.8 981.3) scale(0.95 1)" stroke="#eef2f7" stroke-width="0.3">K</text>
<text font-size="15.08" fill="#d9e14a" transform="translate(44.2 981.3) scale(0.88 1)" stroke="#d9e14a" stroke-width="0.35">2.3</text>
<text font-size="14.56" fill="#eef2f7" transform="translate(15.8 1000.9) scale(0.95 1)" stroke="#eef2f7" stroke-width="0.3">Mg</text>
<text font-size="15.08" fill="#d9e14a" transform="translate(44.2 1000.9) scale(0.88 1)" stroke="#d9e14a" stroke-width="0.35">2.1</text>
<text font-size="14.56" fill="#e0222c" transform="translate(15.8 1020.5) scale(0.95 1)" stroke="#e0222c" stroke-width="0.3">Na</text>
<text font-size="15.08" fill="#d9e14a" transform="translate(44.2 1020.5) scale(0.88 1)" stroke="#d9e14a" stroke-width="0.35">0.9</text>
<text font-size="14.56" fill="#e0222c" transform="translate(15.8 1040.1) scale(0.95 1)" stroke="#e0222c" stroke-width="0.3">Ca</text>
<text font-size="15.08" fill="#d9e14a" transform="translate(44.2 1040.1) scale(0.88 1)" stroke="#d9e14a" stroke-width="0.35">0.7</text>
<rect x="13.70" y="1080.00" width="65.50" height="89.20" fill="#4b6d94"/>
<text font-size="16.12" fill="#eef2f7" transform="translate(18.0 1095.8) scale(0.95 1)" stroke="#eef2f7" stroke-width="0.3">Si</text>
<text font-size="16.64" fill="#d9e14a" transform="translate(48.3 1095.8) scale(0.88 1)" stroke="#d9e14a" stroke-width="0.35">52.9</text>
<text font-size="16.12" fill="#eef2f7" transform="translate(18.0 1117.8) scale(0.95 1)" stroke="#eef2f7" stroke-width="0.3">Al</text>
<text font-size="16.64" fill="#d9e14a" transform="translate(48.3 1117.8) scale(0.88 1)" stroke="#d9e14a" stroke-width="0.35">30.3</text>
<text font-size="16.12" fill="#eef2f7" transform="translate(18.0 1139.8) scale(0.95 1)" stroke="#eef2f7" stroke-width="0.3">Ca</text>
<text font-size="16.64" fill="#d9e14a" transform="translate(48.3 1139.8) scale(0.88 1)" stroke="#d9e14a" stroke-width="0.35">11.0</text>
<text font-size="16.12" fill="#eef2f7" transform="translate(18.0 1161.8) scale(0.95 1)" stroke="#eef2f7" stroke-width="0.3">Na</text>
<text font-size="16.64" fill="#d9e14a" transform="translate(48.3 1161.8) scale(0.88 1)" stroke="#d9e14a" stroke-width="0.35">5.7</text>
<circle cx="25.8" cy="890.8" r="10.8" fill="#fff" stroke="#fff" stroke-width="0.7"/>
<text font-size="22.88" fill="#231f20" text-anchor="middle" font-weight="bold" transform="translate(25.8 895.8) scale(1.1 1)">j</text>
<text font-size="17.68" fill="#fff" textLength="167.7" lengthAdjust="spacing" transform="translate(123.0 895.3) scale(1.1 1)">16WDG10 Eclogite</text>
<text font-size="18.20" fill="#fff" textLength="27.0" lengthAdjust="spacing" transform="translate(101.3 984.2)">Hbl</text>
<line x1="110.00" y1="968.30" x2="106.50" y2="957.80" stroke="#fff" stroke-width="1.3"/>
<polygon points="106.2,956.9 109.6,960.7 105.8,961.9" fill="#fff"/>
<text font-size="11.02" fill="#fff" textLength="29.2" lengthAdjust="spacing" transform="translate(177.5 995.0)">10µm</text>
<rect x="180.80" y="999.20" width="28.40" height="2.40" fill="#fff"/>
<text font-size="18.20" fill="#fff" textLength="14.5" lengthAdjust="spacing" transform="translate(164.7 1104.7)">Pl</text>
<line x1="169.20" y1="1088.30" x2="165.80" y2="1077.30" stroke="#fff" stroke-width="1.3"/>
<polygon points="165.5,1076.3 168.8,1080.3 165.0,1081.4" fill="#fff"/>
<text font-size="11.02" fill="#fff" textLength="29.2" lengthAdjust="spacing" transform="translate(175.0 1160.8)">10µm</text>
<rect x="175.00" y="1165.00" width="29.20" height="2.00" fill="#fff"/>
<ellipse cx="352.80" cy="947.00" rx="35.00" ry="23.75" fill="none" stroke="#fff" stroke-width="2.2"/>
<text font-size="16.95" fill="#fff" text-anchor="middle" letter-spacing="0.6" transform="translate(352.8 952.9) scale(1.1 1)">10</text>
<text font-size="16.95" fill="#fff" textLength="89.7" lengthAdjust="spacing" transform="translate(296.3 988.8) scale(1.1 1)">14.3±0.4 Ma</text>
<text font-size="11.02" fill="#fff" textLength="29.5" lengthAdjust="spacing" transform="translate(363.0 1004.2)">10µm</text>
<rect x="365.00" y="1007.50" width="25.80" height="2.00" fill="#fff"/>
<ellipse cx="335.00" cy="1116.20" rx="34.70" ry="23.40" fill="none" stroke="#fff" stroke-width="2.2"/>
<text font-size="16.95" fill="#fff" text-anchor="middle" letter-spacing="0.6" transform="translate(335.0 1122.1) scale(1.1 1)">16</text>
<text font-size="16.95" fill="#fff" textLength="89.1" lengthAdjust="spacing" transform="translate(287.8 1082.5) scale(1.1 1)">15.0±0.4 Ma</text>
<text font-size="11.02" fill="#fff" textLength="29.4" lengthAdjust="spacing" transform="translate(365.3 1160.8)">10µm</text>
<rect x="370.80" y="1165.30" width="24.20" height="1.70" fill="#fff"/>
<g clip-path="url(#cp11)">
<rect x="413.30" y="877.00" width="193.40" height="153.30" fill="#0b0b0b"/>
<g filter="url(#b08)">
<path d="M440.0,901.7 C445.6,889.7 457.8,885.8 468.3,881.7 C478.9,877.6 490.8,876.2 503.3,877.0 C515.8,877.8 532.2,881.7 543.3,886.7 C554.4,891.6 562.8,899.7 570.0,906.7 C577.2,913.6 582.6,921.1 586.7,928.3 C590.7,935.6 594.2,943.1 594.2,950.0 C594.2,956.9 590.7,963.3 586.7,970.0 C582.6,976.7 576.7,983.1 570.0,990.0 C563.3,996.9 555.6,1006.5 546.7,1011.7 C537.8,1016.8 526.1,1019.7 516.7,1020.8 C507.2,1021.9 499.4,1021.2 490.0,1018.3 C480.6,1015.4 469.2,1014.2 460.0,1003.3 C450.8,992.5 438.3,970.3 435.0,953.3 C431.7,936.4 434.4,913.6 440.0,901.7Z" fill="#7a7a7a"/>
<polygon points="485.0,918.3 495.0,909.2 508.3,908.7 512.0,915.0 503.3,927.8 488.3,927.8" fill="#434343"/>
<polygon points="500.8,960.0 508.3,953.3 516.7,954.2 519.2,958.3 511.7,965.8 504.2,965.0" fill="#474747"/>
</g>
<g filter="url(#b15)">
<ellipse cx="527.50" cy="997.50" rx="7.50" ry="3.60" fill="#4a4a4a" transform="rotate(-35 527.5 997.5)"/>
<ellipse cx="548.33" cy="943.33" rx="5.50" ry="2.60" fill="#5c5c5c" transform="rotate(-40 548.3 943.3)"/>
<ellipse cx="556.67" cy="938.33" rx="2.50" ry="2.50" fill="#5c5c5c"/>
<ellipse cx="555.83" cy="960.00" rx="1.80" ry="3.00" fill="#626262"/>
<ellipse cx="544.17" cy="905.83" rx="3.00" ry="2.00" fill="#6a6a6a"/>
</g>
<rect x="413.3" y="877.0" width="193.4" height="153.3" filter="url(#nz)" opacity="0.05"/>
</g>
<g clip-path="url(#cp12)">
<rect x="413.30" y="1030.30" width="194.20" height="102.20" fill="#0b0b0b"/>
<g filter="url(#b08)">
<polygon points="415.0,1075.0 420.0,1065.0 435.0,1057.5 476.7,1055.8 565.0,1052.5 578.3,1056.7 591.7,1073.3 603.3,1096.7 598.3,1103.3 580.0,1111.7 476.7,1118.3 476.7,1075.8" fill="#6e6e6e"/>
<polygon points="553.3,1068.3 560.8,1067.5 567.5,1078.3 568.3,1090.0 565.8,1095.0 560.0,1075.0" fill="#858585"/>
<polygon points="550.0,1076.7 558.3,1075.0 566.7,1085.0 565.3,1095.0 556.7,1099.5 550.8,1093.3" fill="#474747"/>
<polyline points="575.0,1058.7 583.3,1063.7 590.8,1073.7 595.8,1086.7 601.7,1095.0" fill="none" stroke="#cfcfcf" stroke-width="1.0" stroke-dasharray="2 1.5"/>
</g>
<rect x="413.3" y="1030.3" width="194.2" height="102.2" filter="url(#nz)" opacity="0.05"/>
</g>
<g clip-path="url(#cp13)">
<rect x="606.70" y="877.00" width="190.00" height="153.30" fill="#363636"/>
<g filter="url(#b15)">
<path d="M625.0,933.3 C625.3,927.2 625.8,919.2 630.0,913.3 C634.2,907.5 639.4,902.9 650.0,898.3 C660.6,893.8 678.9,888.2 693.3,885.8 C707.8,883.5 725.0,882.4 736.7,884.2 C748.3,886.0 756.4,890.7 763.3,896.7 C770.3,902.6 775.3,910.6 778.3,920.0 C781.4,929.4 782.2,943.6 781.7,953.3 C781.1,963.1 779.7,970.3 775.0,978.3 C770.3,986.4 762.5,995.6 753.3,1001.7 C744.2,1007.8 733.1,1012.2 720.0,1015.0 C706.9,1017.8 685.8,1019.7 675.0,1018.3 C664.2,1016.9 660.8,1013.6 655.0,1006.7 C649.2,999.7 644.4,986.1 640.0,976.7 C635.6,967.2 630.8,957.2 628.3,950.0 C625.8,942.8 624.7,939.4 625.0,933.3Z" fill="#8c8c8c"/>
<polygon points="628.3,920.0 650.0,901.7 690.0,890.0 700.0,903.3 670.0,925.0 650.0,940.0 633.3,940.0" fill="#a0a0a0"/>
</g>
<g filter="url(#b08)">
<path d="M661.7,956.7 C663.1,948.3 672.5,935.0 680.0,926.7 C687.5,918.3 697.8,910.8 706.7,906.7 C715.6,902.5 724.7,902.2 733.3,901.7 C741.9,901.1 752.6,900.3 758.3,903.3 C764.0,906.4 767.2,913.3 767.5,920.0 C767.8,926.7 763.5,934.4 760.0,943.3 C756.5,952.2 750.6,966.7 746.7,973.3 C742.8,980.0 744.4,981.2 736.7,983.3 C728.9,985.4 710.8,986.9 700.0,985.8 C689.2,984.7 678.1,981.5 671.7,976.7 C665.3,971.8 660.3,965.0 661.7,956.7Z" fill="#7c7c7c" stroke="#cdcdcd" stroke-width="2.0"/>
<polygon points="703.3,940.0 726.7,915.0 733.3,920.0 723.3,950.0 716.7,976.7 706.7,973.3" fill="#909090"/>
<polygon points="733.3,920.0 750.0,916.7 755.0,936.7 743.3,963.3 730.0,973.3 731.7,945.0" fill="#6e6e6e"/>
<polygon points="673.3,990.0 693.3,986.7 716.7,991.7 743.3,986.7 750.0,996.7 716.7,1008.3 675.0,1013.7 670.0,1003.3" fill="#d2d2d2"/>
<ellipse cx="669.17" cy="995.83" rx="6.30" ry="3.70" fill="#0a0a0a" transform="rotate(30 669.2 995.8)"/>
</g>
<rect x="606.7" y="877.0" width="190.0" height="153.3" filter="url(#nz)" opacity="0.1"/>
</g>
<g clip-path="url(#cp14)">
<rect x="606.70" y="1030.30" width="190.00" height="102.20" fill="#2c2c2c"/>
<g filter="url(#b15)">
<path d="M615.8,1075.0 C616.7,1071.7 617.9,1069.2 625.0,1066.7 C632.1,1064.2 638.6,1062.1 658.3,1060.0 C678.1,1057.9 725.3,1054.9 743.3,1054.2 C761.4,1053.5 760.3,1054.2 766.7,1055.8 C773.1,1057.5 777.5,1061.0 781.7,1064.2 C785.8,1067.4 790.8,1071.5 791.7,1075.0 C792.5,1078.5 790.3,1081.7 786.7,1085.0 C783.1,1088.3 778.9,1092.6 770.0,1095.0 C761.1,1097.4 750.6,1097.9 733.3,1099.2 C716.1,1100.4 682.8,1102.4 666.7,1102.5 C650.6,1102.6 644.4,1102.6 636.7,1100.0 C628.9,1097.4 623.5,1090.8 620.0,1086.7 C616.5,1082.5 615.0,1078.3 615.8,1075.0Z" fill="#7b7b7b"/>
<polygon points="670.0,1066.7 743.3,1058.3 775.0,1070.0 760.0,1086.7 703.3,1086.7 680.0,1076.7" fill="#929292"/>
<polygon points="618.3,1075.0 633.3,1065.8 663.3,1065.0 670.0,1086.7 655.0,1098.3 630.0,1095.0" fill="#5e5e5e"/>
<polygon points="708.3,1063.7 726.7,1065.8 718.3,1074.2" fill="#606060"/>
</g>
<rect x="606.7" y="1030.3" width="190.0" height="102.2" filter="url(#nz)" opacity="0.1"/>
</g>
<line x1="475.80" y1="1030.30" x2="796.70" y2="1030.30" stroke="#f2f2f2" stroke-width="1.0"/>
<rect x="413.30" y="903.30" width="62.50" height="150.00" fill="#4b6d94"/>
<text font-size="14.04" fill="#eef2f7" transform="translate(418.0 918.3) scale(0.95 1)" stroke="#eef2f7" stroke-width="0.3">Si</text>
<text font-size="14.56" fill="#d9e14a" transform="translate(445.0 918.3) scale(0.88 1)" stroke="#d9e14a" stroke-width="0.35">43.0</text>
<text font-size="14.04" fill="#eef2f7" transform="translate(418.0 936.8) scale(0.95 1)" stroke="#eef2f7" stroke-width="0.3">Fe</text>
<text font-size="14.56" fill="#d9e14a" transform="translate(445.0 936.8) scale(0.88 1)" stroke="#d9e14a" stroke-width="0.35">17.1</text>
<text font-size="14.04" fill="#eef2f7" transform="translate(418.0 955.4) scale(0.95 1)" stroke="#eef2f7" stroke-width="0.3">Al</text>
<text font-size="14.56" fill="#d9e14a" transform="translate(445.0 955.4) scale(0.88 1)" stroke="#d9e14a" stroke-width="0.35">13.9</text>
<text font-size="14.04" fill="#eef2f7" transform="translate(418.0 973.9) scale(0.95 1)" stroke="#eef2f7" stroke-width="0.3">Ca</text>
<text font-size="14.56" fill="#d9e14a" transform="translate(445.0 973.9) scale(0.88 1)" stroke="#d9e14a" stroke-width="0.35">11.2</text>
<text font-size="14.04" fill="#eef2f7" transform="translate(418.0 992.5) scale(0.95 1)" stroke="#eef2f7" stroke-width="0.3">Mg</text>
<text font-size="14.56" fill="#d9e14a" transform="translate(445.0 992.5) scale(0.88 1)" stroke="#d9e14a" stroke-width="0.35">10.3</text>
<text font-size="14.04" fill="#eef2f7" transform="translate(418.0 1011.0) scale(0.95 1)" stroke="#eef2f7" stroke-width="0.3">K</text>
<text font-size="14.56" fill="#d9e14a" transform="translate(445.0 1011.0) scale(0.88 1)" stroke="#d9e14a" stroke-width="0.35">1.7</text>
<text font-size="14.04" fill="#eef2f7" transform="translate(418.0 1029.6) scale(0.95 1)" stroke="#eef2f7" stroke-width="0.3">Na</text>
<text font-size="14.56" fill="#d9e14a" transform="translate(445.0 1029.6) scale(0.88 1)" stroke="#d9e14a" stroke-width="0.35">1.4</text>
<text font-size="14.04" fill="#e0222c" transform="translate(418.0 1048.1) scale(0.95 1)" stroke="#e0222c" stroke-width="0.3">Ti</text>
<text font-size="14.56" fill="#d9e14a" transform="translate(445.0 1048.1) scale(0.88 1)" stroke="#d9e14a" stroke-width="0.35">1.3</text>
<rect x="413.30" y="1075.80" width="62.50" height="56.70" fill="#4b6d94"/>
<text font-size="15.08" fill="#eef2f7" transform="translate(418.0 1090.0) scale(0.95 1)" stroke="#eef2f7" stroke-width="0.3">Fe</text>
<text font-size="15.60" fill="#d9e14a" transform="translate(445.0 1090.0) scale(0.88 1)" stroke="#d9e14a" stroke-width="0.35">50.0</text>
<text font-size="15.08" fill="#eef2f7" transform="translate(418.0 1108.9) scale(0.95 1)" stroke="#eef2f7" stroke-width="0.3">Ti</text>
<text font-size="15.60" fill="#d9e14a" transform="translate(445.0 1108.9) scale(0.88 1)" stroke="#d9e14a" stroke-width="0.35">49.4</text>
<text font-size="15.08" fill="#e0222c" transform="translate(418.0 1127.8) scale(0.95 1)" stroke="#e0222c" stroke-width="0.3">Mn</text>
<text font-size="15.60" fill="#d9e14a" transform="translate(445.0 1127.8) scale(0.88 1)" stroke="#d9e14a" stroke-width="0.35">0.5</text>
<circle cx="425.8" cy="891.3" r="10.8" fill="#fff" stroke="#fff" stroke-width="0.7"/>
<text font-size="21.84" fill="#231f20" text-anchor="middle" font-weight="bold" transform="translate(425.8 897.8) scale(1.1 1)">k</text>
<text font-size="17.68" fill="#fff" textLength="167.0" lengthAdjust="spacing" transform="translate(523.0 892.5) scale(1.1 1)">16WDG17 Eclogite</text>
<text font-size="18.20" fill="#fff" textLength="26.5" lengthAdjust="spacing" transform="translate(516.7 930.3)">Hbl</text>
<line x1="515.50" y1="924.20" x2="502.80" y2="920.50" stroke="#fff" stroke-width="1.3"/>
<polygon points="501.8,920.2 506.9,919.6 505.8,923.4" fill="#fff"/>
<line x1="522.50" y1="935.80" x2="516.70" y2="949.00" stroke="#fff" stroke-width="1.3"/>
<polygon points="516.3,949.9 516.4,944.8 520.0,946.4" fill="#fff"/>
<text font-size="11.02" fill="#fff" textLength="29.5" lengthAdjust="spacing" transform="translate(574.7 1021.7)">10µm</text>
<rect x="577.50" y="1025.30" width="27.20" height="2.20" fill="#fff"/>
<text font-size="18.20" fill="#fff" textLength="23.8" lengthAdjust="spacing" transform="translate(517.5 1076.3)">Ilm</text>
<line x1="542.50" y1="1072.50" x2="554.50" y2="1072.00" stroke="#fff" stroke-width="1.3"/>
<polygon points="555.5,1072.0 550.9,1074.1 550.7,1070.2" fill="#fff"/>
<text font-size="18.20" fill="#fff" textLength="17.0" lengthAdjust="spacing" transform="translate(523.8 1103.0)">Rt</text>
<line x1="542.50" y1="1098.30" x2="553.30" y2="1092.70" stroke="#fff" stroke-width="1.3"/>
<polygon points="554.2,1092.2 550.9,1096.2 549.1,1092.6" fill="#fff"/>
<text font-size="11.02" fill="#fff" textLength="30.9" lengthAdjust="spacing" transform="translate(573.3 1123.3)">20µm</text>
<rect x="574.70" y="1127.20" width="29.00" height="2.00" fill="#fff"/>
<text font-size="11.02" fill="#fff" textLength="29.5" lengthAdjust="spacing" transform="translate(762.5 1022.0)">10µm</text>
<rect x="765.00" y="1025.50" width="28.00" height="2.00" fill="#fff"/>
<ellipse cx="645.00" cy="1081.70" rx="24.70" ry="16.80" fill="none" stroke="#fff" stroke-width="2.2"/>
<text font-size="16.95" fill="#fff" text-anchor="middle" letter-spacing="0.6" transform="translate(645.0 1087.6) scale(1.1 1)">10</text>
<text font-size="16.95" fill="#fff" textLength="89.4" lengthAdjust="spacing" transform="translate(616.7 1052.5) scale(1.1 1)">14.8±0.4 Ma</text>
<text font-size="11.02" fill="#fff" textLength="30.4" lengthAdjust="spacing" transform="translate(761.3 1123.3)">20µm</text>
<rect x="763.00" y="1127.20" width="29.00" height="2.00" fill="#fff"/>
<rect x="842.80" y="933.78" width="350.00" height="10.62" fill="#d9d9d9"/>
<line x1="843.30" y1="1121.74" x2="1192.30" y2="1121.74" stroke="#c9c9c9" stroke-width="0.8" stroke-dasharray="3.5 2.5"/>
<line x1="843.30" y1="1080.88" x2="1192.30" y2="1080.88" stroke="#c9c9c9" stroke-width="0.8" stroke-dasharray="3.5 2.5"/>
<line x1="843.30" y1="1040.02" x2="1192.30" y2="1040.02" stroke="#c9c9c9" stroke-width="0.8" stroke-dasharray="3.5 2.5"/>
<line x1="843.30" y1="999.16" x2="1192.30" y2="999.16" stroke="#c9c9c9" stroke-width="0.8" stroke-dasharray="3.5 2.5"/>
<line x1="843.30" y1="958.30" x2="1192.30" y2="958.30" stroke="#c9c9c9" stroke-width="0.8" stroke-dasharray="3.5 2.5"/>
<line x1="843.30" y1="917.44" x2="1192.30" y2="917.44" stroke="#c9c9c9" stroke-width="0.8" stroke-dasharray="3.5 2.5"/>
<line x1="963.53" y1="876.58" x2="963.53" y2="1162.60" stroke="#555" stroke-width="0.7" stroke-dasharray="1 1"/>
<line x1="1057.82" y1="876.58" x2="1057.82" y2="1162.60" stroke="#555" stroke-width="0.7" stroke-dasharray="1 1"/>
<rect x="842.30" y="876.58" width="351.00" height="286.02" fill="none" stroke="#3d3d3d" stroke-width="1.1"/>
<line x1="839.30" y1="1162.60" x2="842.30" y2="1162.60" stroke="#3d3d3d" stroke-width="1.0"/>
<text font-size="12.48" fill="#231f20" text-anchor="end" transform="translate(837.3 1166.9) scale(1.1 1)">0</text>
<line x1="839.30" y1="1121.74" x2="842.30" y2="1121.74" stroke="#3d3d3d" stroke-width="1.0"/>
<text font-size="12.48" fill="#231f20" text-anchor="end" transform="translate(837.3 1126.0) scale(1.1 1)">1</text>
<line x1="839.30" y1="1080.88" x2="842.30" y2="1080.88" stroke="#3d3d3d" stroke-width="1.0"/>
<text font-size="12.48" fill="#231f20" text-anchor="end" transform="translate(837.3 1085.2) scale(1.1 1)">2</text>
<line x1="839.30" y1="1040.02" x2="842.30" y2="1040.02" stroke="#3d3d3d" stroke-width="1.0"/>
<text font-size="12.48" fill="#231f20" text-anchor="end" transform="translate(837.3 1044.3) scale(1.1 1)">3</text>
<line x1="839.30" y1="999.16" x2="842.30" y2="999.16" stroke="#3d3d3d" stroke-width="1.0"/>
<text font-size="12.48" fill="#231f20" text-anchor="end" transform="translate(837.3 1003.5) scale(1.1 1)">4</text>
<line x1="839.30" y1="958.30" x2="842.30" y2="958.30" stroke="#3d3d3d" stroke-width="1.0"/>
<text font-size="12.48" fill="#231f20" text-anchor="end" transform="translate(837.3 962.6) scale(1.1 1)">5</text>
<line x1="839.30" y1="917.44" x2="842.30" y2="917.44" stroke="#3d3d3d" stroke-width="1.0"/>
<text font-size="12.48" fill="#231f20" text-anchor="end" transform="translate(837.3 921.7) scale(1.1 1)">6</text>
<line x1="839.30" y1="876.58" x2="842.30" y2="876.58" stroke="#3d3d3d" stroke-width="1.0"/>
<text font-size="12.48" fill="#231f20" text-anchor="end" transform="translate(837.3 880.9) scale(1.1 1)">7</text>
<line x1="840.30" y1="1142.17" x2="842.30" y2="1142.17" stroke="#3d3d3d" stroke-width="0.9"/>
<line x1="840.30" y1="1101.31" x2="842.30" y2="1101.31" stroke="#3d3d3d" stroke-width="0.9"/>
<line x1="840.30" y1="1060.45" x2="842.30" y2="1060.45" stroke="#3d3d3d" stroke-width="0.9"/>
<line x1="840.30" y1="1019.59" x2="842.30" y2="1019.59" stroke="#3d3d3d" stroke-width="0.9"/>
<line x1="840.30" y1="978.73" x2="842.30" y2="978.73" stroke="#3d3d3d" stroke-width="0.9"/>
<line x1="840.30" y1="937.87" x2="842.30" y2="937.87" stroke="#3d3d3d" stroke-width="0.9"/>
<line x1="840.30" y1="897.01" x2="842.30" y2="897.01" stroke="#3d3d3d" stroke-width="0.9"/>
<line x1="842.30" y1="1162.60" x2="842.30" y2="1165.60" stroke="#3d3d3d" stroke-width="1.0"/>
<line x1="855.77" y1="1162.60" x2="855.77" y2="1165.60" stroke="#3d3d3d" stroke-width="1.0"/>
<line x1="869.24" y1="1162.60" x2="869.24" y2="1165.60" stroke="#3d3d3d" stroke-width="1.0"/>
<line x1="882.71" y1="1162.60" x2="882.71" y2="1165.60" stroke="#3d3d3d" stroke-width="1.0"/>
<line x1="896.18" y1="1162.60" x2="896.18" y2="1165.60" stroke="#3d3d3d" stroke-width="1.0"/>
<line x1="909.65" y1="1162.60" x2="909.65" y2="1165.60" stroke="#3d3d3d" stroke-width="1.0"/>
<line x1="923.12" y1="1162.60" x2="923.12" y2="1165.60" stroke="#3d3d3d" stroke-width="1.0"/>
<line x1="936.59" y1="1162.60" x2="936.59" y2="1165.60" stroke="#3d3d3d" stroke-width="1.0"/>
<line x1="950.06" y1="1162.60" x2="950.06" y2="1165.60" stroke="#3d3d3d" stroke-width="1.0"/>
<line x1="963.53" y1="1162.60" x2="963.53" y2="1165.60" stroke="#3d3d3d" stroke-width="1.0"/>
<line x1="977.00" y1="1162.60" x2="977.00" y2="1165.60" stroke="#3d3d3d" stroke-width="1.0"/>
<line x1="990.47" y1="1162.60" x2="990.47" y2="1165.60" stroke="#3d3d3d" stroke-width="1.0"/>
<line x1="1003.94" y1="1162.60" x2="1003.94" y2="1165.60" stroke="#3d3d3d" stroke-width="1.0"/>
<line x1="1017.41" y1="1162.60" x2="1017.41" y2="1165.60" stroke="#3d3d3d" stroke-width="1.0"/>
<line x1="1030.88" y1="1162.60" x2="1030.88" y2="1165.60" stroke="#3d3d3d" stroke-width="1.0"/>
<line x1="1044.35" y1="1162.60" x2="1044.35" y2="1165.60" stroke="#3d3d3d" stroke-width="1.0"/>
<line x1="1057.82" y1="1162.60" x2="1057.82" y2="1165.60" stroke="#3d3d3d" stroke-width="1.0"/>
<line x1="1071.29" y1="1162.60" x2="1071.29" y2="1165.60" stroke="#3d3d3d" stroke-width="1.0"/>
<line x1="1084.76" y1="1162.60" x2="1084.76" y2="1165.60" stroke="#3d3d3d" stroke-width="1.0"/>
<line x1="1098.23" y1="1162.60" x2="1098.23" y2="1165.60" stroke="#3d3d3d" stroke-width="1.0"/>
<line x1="1111.70" y1="1162.60" x2="1111.70" y2="1165.60" stroke="#3d3d3d" stroke-width="1.0"/>
<line x1="1125.17" y1="1162.60" x2="1125.17" y2="1165.60" stroke="#3d3d3d" stroke-width="1.0"/>
<line x1="1138.64" y1="1162.60" x2="1138.64" y2="1165.60" stroke="#3d3d3d" stroke-width="1.0"/>
<line x1="1152.11" y1="1162.60" x2="1152.11" y2="1165.60" stroke="#3d3d3d" stroke-width="1.0"/>
<line x1="1165.58" y1="1162.60" x2="1165.58" y2="1165.60" stroke="#3d3d3d" stroke-width="1.0"/>
<line x1="1179.05" y1="1162.60" x2="1179.05" y2="1165.60" stroke="#3d3d3d" stroke-width="1.0"/>
<line x1="1192.52" y1="1162.60" x2="1192.52" y2="1165.60" stroke="#3d3d3d" stroke-width="1.0"/>
<text font-size="12.48" fill="#231f20" text-anchor="middle" transform="translate(842.3 1176.5) scale(1.1 1)">0</text>
<text font-size="12.48" fill="#231f20" text-anchor="middle" textLength="13.2" lengthAdjust="spacing" transform="translate(909.6 1176.5) scale(1.1 1)">10</text>
<text font-size="12.48" fill="#231f20" text-anchor="middle" textLength="13.2" lengthAdjust="spacing" transform="translate(977.0 1176.5) scale(1.1 1)">20</text>
<text font-size="12.48" fill="#231f20" text-anchor="middle" textLength="13.2" lengthAdjust="spacing" transform="translate(1044.3 1176.5) scale(1.1 1)">30</text>
<text font-size="12.48" fill="#231f20" text-anchor="middle" textLength="13.2" lengthAdjust="spacing" transform="translate(1111.7 1176.5) scale(1.1 1)">40</text>
<text font-size="12.48" fill="#231f20" text-anchor="middle" textLength="13.2" lengthAdjust="spacing" transform="translate(1179.0 1176.5) scale(1.1 1)">50</text>
<line x1="849.03" y1="910.90" x2="849.03" y2="928.88" stroke="#2a2a2a" stroke-width="1.15"/>
<line x1="846.43" y1="910.90" x2="851.63" y2="910.90" stroke="#2a2a2a" stroke-width="1.15"/>
<line x1="846.43" y1="928.88" x2="851.63" y2="928.88" stroke="#2a2a2a" stroke-width="1.15"/>
<line x1="855.77" y1="921.53" x2="855.77" y2="944.41" stroke="#2a2a2a" stroke-width="1.15"/>
<line x1="853.17" y1="921.53" x2="858.37" y2="921.53" stroke="#2a2a2a" stroke-width="1.15"/>
<line x1="853.17" y1="944.41" x2="858.37" y2="944.41" stroke="#2a2a2a" stroke-width="1.15"/>
<line x1="862.50" y1="927.25" x2="862.50" y2="954.21" stroke="#2a2a2a" stroke-width="1.15"/>
<line x1="859.90" y1="927.25" x2="865.11" y2="927.25" stroke="#2a2a2a" stroke-width="1.15"/>
<line x1="859.90" y1="954.21" x2="865.11" y2="954.21" stroke="#2a2a2a" stroke-width="1.15"/>
<line x1="869.24" y1="933.38" x2="869.24" y2="948.08" stroke="#2a2a2a" stroke-width="1.15"/>
<line x1="866.64" y1="933.38" x2="871.84" y2="933.38" stroke="#2a2a2a" stroke-width="1.15"/>
<line x1="866.64" y1="948.08" x2="871.84" y2="948.08" stroke="#2a2a2a" stroke-width="1.15"/>
<line x1="875.97" y1="935.42" x2="875.97" y2="954.21" stroke="#2a2a2a" stroke-width="1.15"/>
<line x1="873.37" y1="935.42" x2="878.57" y2="935.42" stroke="#2a2a2a" stroke-width="1.15"/>
<line x1="873.37" y1="954.21" x2="878.57" y2="954.21" stroke="#2a2a2a" stroke-width="1.15"/>
<line x1="882.71" y1="939.50" x2="882.71" y2="955.85" stroke="#2a2a2a" stroke-width="1.15"/>
<line x1="880.11" y1="939.50" x2="885.31" y2="939.50" stroke="#2a2a2a" stroke-width="1.15"/>
<line x1="880.11" y1="955.85" x2="885.31" y2="955.85" stroke="#2a2a2a" stroke-width="1.15"/>
<line x1="889.44" y1="940.32" x2="889.44" y2="962.39" stroke="#2a2a2a" stroke-width="1.15"/>
<line x1="886.84" y1="940.32" x2="892.04" y2="940.32" stroke="#2a2a2a" stroke-width="1.15"/>
<line x1="886.84" y1="962.39" x2="892.04" y2="962.39" stroke="#2a2a2a" stroke-width="1.15"/>
<line x1="896.18" y1="942.36" x2="896.18" y2="966.88" stroke="#2a2a2a" stroke-width="1.15"/>
<line x1="893.58" y1="942.36" x2="898.78" y2="942.36" stroke="#2a2a2a" stroke-width="1.15"/>
<line x1="893.58" y1="966.88" x2="898.78" y2="966.88" stroke="#2a2a2a" stroke-width="1.15"/>
<line x1="902.91" y1="938.28" x2="902.91" y2="970.97" stroke="#2a2a2a" stroke-width="1.15"/>
<line x1="900.31" y1="938.28" x2="905.51" y2="938.28" stroke="#2a2a2a" stroke-width="1.15"/>
<line x1="900.31" y1="970.97" x2="905.51" y2="970.97" stroke="#2a2a2a" stroke-width="1.15"/>
<line x1="909.65" y1="951.76" x2="909.65" y2="964.02" stroke="#2a2a2a" stroke-width="1.15"/>
<line x1="907.05" y1="951.76" x2="912.25" y2="951.76" stroke="#2a2a2a" stroke-width="1.15"/>
<line x1="907.05" y1="964.02" x2="912.25" y2="964.02" stroke="#2a2a2a" stroke-width="1.15"/>
<line x1="916.38" y1="945.63" x2="916.38" y2="970.15" stroke="#2a2a2a" stroke-width="1.15"/>
<line x1="913.78" y1="945.63" x2="918.99" y2="945.63" stroke="#2a2a2a" stroke-width="1.15"/>
<line x1="913.78" y1="970.15" x2="918.99" y2="970.15" stroke="#2a2a2a" stroke-width="1.15"/>
<line x1="923.12" y1="950.95" x2="923.12" y2="1001.61" stroke="#2a2a2a" stroke-width="1.15"/>
<line x1="920.52" y1="950.95" x2="925.72" y2="950.95" stroke="#2a2a2a" stroke-width="1.15"/>
<line x1="920.52" y1="1001.61" x2="925.72" y2="1001.61" stroke="#2a2a2a" stroke-width="1.15"/>
<line x1="929.86" y1="1044.92" x2="929.86" y2="1065.35" stroke="#2a2a2a" stroke-width="1.15"/>
<line x1="927.25" y1="1044.92" x2="932.46" y2="1044.92" stroke="#2a2a2a" stroke-width="1.15"/>
<line x1="927.25" y1="1065.35" x2="932.46" y2="1065.35" stroke="#2a2a2a" stroke-width="1.15"/>
<line x1="936.59" y1="1090.28" x2="936.59" y2="1109.07" stroke="#2a2a2a" stroke-width="1.15"/>
<line x1="933.99" y1="1090.28" x2="939.19" y2="1090.28" stroke="#2a2a2a" stroke-width="1.15"/>
<line x1="933.99" y1="1109.07" x2="939.19" y2="1109.07" stroke="#2a2a2a" stroke-width="1.15"/>
<line x1="950.06" y1="951.76" x2="950.06" y2="986.08" stroke="#2a2a2a" stroke-width="1.15"/>
<line x1="947.46" y1="951.76" x2="952.66" y2="951.76" stroke="#2a2a2a" stroke-width="1.15"/>
<line x1="947.46" y1="986.08" x2="952.66" y2="986.08" stroke="#2a2a2a" stroke-width="1.15"/>
<line x1="970.26" y1="910.90" x2="970.26" y2="927.25" stroke="#2a2a2a" stroke-width="1.15"/>
<line x1="967.66" y1="910.90" x2="972.87" y2="910.90" stroke="#2a2a2a" stroke-width="1.15"/>
<line x1="967.66" y1="927.25" x2="972.87" y2="927.25" stroke="#2a2a2a" stroke-width="1.15"/>
<line x1="977.00" y1="918.67" x2="977.00" y2="943.18" stroke="#2a2a2a" stroke-width="1.15"/>
<line x1="974.40" y1="918.67" x2="979.60" y2="918.67" stroke="#2a2a2a" stroke-width="1.15"/>
<line x1="974.40" y1="943.18" x2="979.60" y2="943.18" stroke="#2a2a2a" stroke-width="1.15"/>
<line x1="983.73" y1="918.67" x2="983.73" y2="943.18" stroke="#2a2a2a" stroke-width="1.15"/>
<line x1="981.13" y1="918.67" x2="986.33" y2="918.67" stroke="#2a2a2a" stroke-width="1.15"/>
<line x1="981.13" y1="943.18" x2="986.33" y2="943.18" stroke="#2a2a2a" stroke-width="1.15"/>
<line x1="990.47" y1="920.71" x2="990.47" y2="941.14" stroke="#2a2a2a" stroke-width="1.15"/>
<line x1="987.87" y1="920.71" x2="993.07" y2="920.71" stroke="#2a2a2a" stroke-width="1.15"/>
<line x1="987.87" y1="941.14" x2="993.07" y2="941.14" stroke="#2a2a2a" stroke-width="1.15"/>
<line x1="997.20" y1="937.05" x2="997.20" y2="959.93" stroke="#2a2a2a" stroke-width="1.15"/>
<line x1="994.60" y1="937.05" x2="999.80" y2="937.05" stroke="#2a2a2a" stroke-width="1.15"/>
<line x1="994.60" y1="959.93" x2="999.80" y2="959.93" stroke="#2a2a2a" stroke-width="1.15"/>
<line x1="1003.94" y1="1003.25" x2="1003.94" y2="1030.21" stroke="#2a2a2a" stroke-width="1.15"/>
<line x1="1001.34" y1="1003.25" x2="1006.54" y2="1003.25" stroke="#2a2a2a" stroke-width="1.15"/>
<line x1="1001.34" y1="1030.21" x2="1006.54" y2="1030.21" stroke="#2a2a2a" stroke-width="1.15"/>
<line x1="1010.67" y1="997.12" x2="1010.67" y2="1036.34" stroke="#2a2a2a" stroke-width="1.15"/>
<line x1="1008.07" y1="997.12" x2="1013.27" y2="997.12" stroke="#2a2a2a" stroke-width="1.15"/>
<line x1="1008.07" y1="1036.34" x2="1013.27" y2="1036.34" stroke="#2a2a2a" stroke-width="1.15"/>
<line x1="1017.41" y1="1036.75" x2="1017.41" y2="1065.35" stroke="#2a2a2a" stroke-width="1.15"/>
<line x1="1014.81" y1="1036.75" x2="1020.01" y2="1036.75" stroke="#2a2a2a" stroke-width="1.15"/>
<line x1="1014.81" y1="1065.35" x2="1020.01" y2="1065.35" stroke="#2a2a2a" stroke-width="1.15"/>
<line x1="1024.14" y1="1037.16" x2="1024.14" y2="1078.02" stroke="#2a2a2a" stroke-width="1.15"/>
<line x1="1021.54" y1="1037.16" x2="1026.74" y2="1037.16" stroke="#2a2a2a" stroke-width="1.15"/>
<line x1="1021.54" y1="1078.02" x2="1026.74" y2="1078.02" stroke="#2a2a2a" stroke-width="1.15"/>
<line x1="1030.88" y1="1054.73" x2="1030.88" y2="1089.05" stroke="#2a2a2a" stroke-width="1.15"/>
<line x1="1028.28" y1="1054.73" x2="1033.48" y2="1054.73" stroke="#2a2a2a" stroke-width="1.15"/>
<line x1="1028.28" y1="1089.05" x2="1033.48" y2="1089.05" stroke="#2a2a2a" stroke-width="1.15"/>
<line x1="1037.62" y1="1049.83" x2="1037.62" y2="1097.22" stroke="#2a2a2a" stroke-width="1.15"/>
<line x1="1035.02" y1="1049.83" x2="1040.21" y2="1049.83" stroke="#2a2a2a" stroke-width="1.15"/>
<line x1="1035.02" y1="1097.22" x2="1040.21" y2="1097.22" stroke="#2a2a2a" stroke-width="1.15"/>
<line x1="1044.35" y1="908.45" x2="1044.35" y2="931.33" stroke="#2a2a2a" stroke-width="1.15"/>
<line x1="1041.75" y1="908.45" x2="1046.95" y2="908.45" stroke="#2a2a2a" stroke-width="1.15"/>
<line x1="1041.75" y1="931.33" x2="1046.95" y2="931.33" stroke="#2a2a2a" stroke-width="1.15"/>
<line x1="1071.29" y1="968.51" x2="1071.29" y2="984.86" stroke="#2a2a2a" stroke-width="1.15"/>
<line x1="1068.69" y1="968.51" x2="1073.89" y2="968.51" stroke="#2a2a2a" stroke-width="1.15"/>
<line x1="1068.69" y1="984.86" x2="1073.89" y2="984.86" stroke="#2a2a2a" stroke-width="1.15"/>
<line x1="1078.03" y1="972.60" x2="1078.03" y2="999.57" stroke="#2a2a2a" stroke-width="1.15"/>
<line x1="1075.43" y1="972.60" x2="1080.62" y2="972.60" stroke="#2a2a2a" stroke-width="1.15"/>
<line x1="1075.43" y1="999.57" x2="1080.62" y2="999.57" stroke="#2a2a2a" stroke-width="1.15"/>
<line x1="1084.76" y1="975.05" x2="1084.76" y2="997.12" stroke="#2a2a2a" stroke-width="1.15"/>
<line x1="1082.16" y1="975.05" x2="1087.36" y2="975.05" stroke="#2a2a2a" stroke-width="1.15"/>
<line x1="1082.16" y1="997.12" x2="1087.36" y2="997.12" stroke="#2a2a2a" stroke-width="1.15"/>
<line x1="1091.49" y1="977.50" x2="1091.49" y2="1002.02" stroke="#2a2a2a" stroke-width="1.15"/>
<line x1="1088.89" y1="977.50" x2="1094.09" y2="977.50" stroke="#2a2a2a" stroke-width="1.15"/>
<line x1="1088.89" y1="1002.02" x2="1094.09" y2="1002.02" stroke="#2a2a2a" stroke-width="1.15"/>
<line x1="1098.23" y1="993.85" x2="1098.23" y2="1007.74" stroke="#2a2a2a" stroke-width="1.15"/>
<line x1="1095.63" y1="993.85" x2="1100.83" y2="993.85" stroke="#2a2a2a" stroke-width="1.15"/>
<line x1="1095.63" y1="1007.74" x2="1100.83" y2="1007.74" stroke="#2a2a2a" stroke-width="1.15"/>
<line x1="1104.96" y1="995.48" x2="1104.96" y2="1009.37" stroke="#2a2a2a" stroke-width="1.15"/>
<line x1="1102.37" y1="995.48" x2="1107.56" y2="995.48" stroke="#2a2a2a" stroke-width="1.15"/>
<line x1="1102.37" y1="1009.37" x2="1107.56" y2="1009.37" stroke="#2a2a2a" stroke-width="1.15"/>
<line x1="1111.70" y1="997.53" x2="1111.70" y2="1013.87" stroke="#2a2a2a" stroke-width="1.15"/>
<line x1="1109.10" y1="997.53" x2="1114.30" y2="997.53" stroke="#2a2a2a" stroke-width="1.15"/>
<line x1="1109.10" y1="1013.87" x2="1114.30" y2="1013.87" stroke="#2a2a2a" stroke-width="1.15"/>
<line x1="1118.43" y1="992.21" x2="1118.43" y2="1020.82" stroke="#2a2a2a" stroke-width="1.15"/>
<line x1="1115.84" y1="992.21" x2="1121.03" y2="992.21" stroke="#2a2a2a" stroke-width="1.15"/>
<line x1="1115.84" y1="1020.82" x2="1121.03" y2="1020.82" stroke="#2a2a2a" stroke-width="1.15"/>
<line x1="1125.17" y1="995.89" x2="1125.17" y2="1018.77" stroke="#2a2a2a" stroke-width="1.15"/>
<line x1="1122.57" y1="995.89" x2="1127.77" y2="995.89" stroke="#2a2a2a" stroke-width="1.15"/>
<line x1="1122.57" y1="1018.77" x2="1127.77" y2="1018.77" stroke="#2a2a2a" stroke-width="1.15"/>
<line x1="1131.90" y1="1004.88" x2="1131.90" y2="1021.22" stroke="#2a2a2a" stroke-width="1.15"/>
<line x1="1129.31" y1="1004.88" x2="1134.50" y2="1004.88" stroke="#2a2a2a" stroke-width="1.15"/>
<line x1="1129.31" y1="1021.22" x2="1134.50" y2="1021.22" stroke="#2a2a2a" stroke-width="1.15"/>
<line x1="1138.64" y1="1004.88" x2="1138.64" y2="1027.76" stroke="#2a2a2a" stroke-width="1.15"/>
<line x1="1136.04" y1="1004.88" x2="1141.24" y2="1004.88" stroke="#2a2a2a" stroke-width="1.15"/>
<line x1="1136.04" y1="1027.76" x2="1141.24" y2="1027.76" stroke="#2a2a2a" stroke-width="1.15"/>
<line x1="1145.38" y1="1002.02" x2="1145.38" y2="1030.62" stroke="#2a2a2a" stroke-width="1.15"/>
<line x1="1142.78" y1="1002.02" x2="1147.97" y2="1002.02" stroke="#2a2a2a" stroke-width="1.15"/>
<line x1="1142.78" y1="1030.62" x2="1147.97" y2="1030.62" stroke="#2a2a2a" stroke-width="1.15"/>
<line x1="1152.11" y1="1009.78" x2="1152.11" y2="1030.21" stroke="#2a2a2a" stroke-width="1.15"/>
<line x1="1149.51" y1="1009.78" x2="1154.71" y2="1009.78" stroke="#2a2a2a" stroke-width="1.15"/>
<line x1="1149.51" y1="1030.21" x2="1154.71" y2="1030.21" stroke="#2a2a2a" stroke-width="1.15"/>
<line x1="1158.85" y1="1009.78" x2="1158.85" y2="1030.21" stroke="#2a2a2a" stroke-width="1.15"/>
<line x1="1156.25" y1="1009.78" x2="1161.44" y2="1009.78" stroke="#2a2a2a" stroke-width="1.15"/>
<line x1="1156.25" y1="1030.21" x2="1161.44" y2="1030.21" stroke="#2a2a2a" stroke-width="1.15"/>
<line x1="1165.58" y1="1011.42" x2="1165.58" y2="1031.85" stroke="#2a2a2a" stroke-width="1.15"/>
<line x1="1162.98" y1="1011.42" x2="1168.18" y2="1011.42" stroke="#2a2a2a" stroke-width="1.15"/>
<line x1="1162.98" y1="1031.85" x2="1168.18" y2="1031.85" stroke="#2a2a2a" stroke-width="1.15"/>
<line x1="1172.32" y1="1008.97" x2="1172.32" y2="1041.65" stroke="#2a2a2a" stroke-width="1.15"/>
<line x1="1169.72" y1="1008.97" x2="1174.91" y2="1008.97" stroke="#2a2a2a" stroke-width="1.15"/>
<line x1="1169.72" y1="1041.65" x2="1174.91" y2="1041.65" stroke="#2a2a2a" stroke-width="1.15"/>
<line x1="1179.05" y1="1011.01" x2="1179.05" y2="1042.06" stroke="#2a2a2a" stroke-width="1.15"/>
<line x1="1176.45" y1="1011.01" x2="1181.65" y2="1011.01" stroke="#2a2a2a" stroke-width="1.15"/>
<line x1="1176.45" y1="1042.06" x2="1181.65" y2="1042.06" stroke="#2a2a2a" stroke-width="1.15"/>
<line x1="1185.78" y1="1063.72" x2="1185.78" y2="1094.77" stroke="#2a2a2a" stroke-width="1.15"/>
<line x1="1183.18" y1="1063.72" x2="1188.38" y2="1063.72" stroke="#2a2a2a" stroke-width="1.15"/>
<line x1="1183.18" y1="1094.77" x2="1188.38" y2="1094.77" stroke="#2a2a2a" stroke-width="1.15"/>
<circle cx="849.0" cy="919.9" r="3.9" fill="#1c9ee4" stroke="#111" stroke-width="0.8"/>
<circle cx="855.8" cy="933.0" r="3.9" fill="#1c9ee4" stroke="#111" stroke-width="0.8"/>
<circle cx="862.5" cy="940.7" r="3.9" fill="#1c9ee4" stroke="#111" stroke-width="0.8"/>
<circle cx="869.2" cy="940.7" r="3.9" fill="#1c9ee4" stroke="#111" stroke-width="0.8"/>
<circle cx="876.0" cy="944.8" r="3.9" fill="#1c9ee4" stroke="#111" stroke-width="0.8"/>
<circle cx="882.7" cy="947.7" r="3.9" fill="#1c9ee4" stroke="#111" stroke-width="0.8"/>
<circle cx="889.4" cy="951.4" r="3.9" fill="#1c9ee4" stroke="#111" stroke-width="0.8"/>
<circle cx="896.2" cy="954.6" r="3.9" fill="#1c9ee4" stroke="#111" stroke-width="0.8"/>
<circle cx="902.9" cy="954.6" r="3.9" fill="#1c9ee4" stroke="#111" stroke-width="0.8"/>
<circle cx="909.6" cy="957.9" r="3.9" fill="#1c9ee4" stroke="#111" stroke-width="0.8"/>
<circle cx="916.4" cy="957.9" r="3.9" fill="#1c9ee4" stroke="#111" stroke-width="0.8"/>
<circle cx="923.1" cy="976.3" r="3.9" fill="#1c9ee4" stroke="#111" stroke-width="0.8"/>
<circle cx="929.9" cy="1055.1" r="3.9" fill="#1c9ee4" stroke="#111" stroke-width="0.8"/>
<circle cx="936.6" cy="1099.7" r="3.9" fill="#1c9ee4" stroke="#111" stroke-width="0.8"/>
<circle cx="950.1" cy="968.9" r="3.9" fill="#1c9ee4" stroke="#111" stroke-width="0.8"/>
<rect x="966.37" y="915.17" width="7.80" height="7.80" fill="#0c9a4e" stroke="#111" stroke-width="0.8"/>
<rect x="973.10" y="927.02" width="7.80" height="7.80" fill="#0c9a4e" stroke="#111" stroke-width="0.8"/>
<rect x="979.83" y="927.02" width="7.80" height="7.80" fill="#0c9a4e" stroke="#111" stroke-width="0.8"/>
<rect x="986.57" y="927.02" width="7.80" height="7.80" fill="#0c9a4e" stroke="#111" stroke-width="0.8"/>
<rect x="993.30" y="944.59" width="7.80" height="7.80" fill="#0c9a4e" stroke="#111" stroke-width="0.8"/>
<rect x="1000.04" y="1012.83" width="7.80" height="7.80" fill="#0c9a4e" stroke="#111" stroke-width="0.8"/>
<rect x="1006.77" y="1012.83" width="7.80" height="7.80" fill="#0c9a4e" stroke="#111" stroke-width="0.8"/>
<rect x="1013.51" y="1047.15" width="7.80" height="7.80" fill="#0c9a4e" stroke="#111" stroke-width="0.8"/>
<rect x="1020.25" y="1053.69" width="7.80" height="7.80" fill="#0c9a4e" stroke="#111" stroke-width="0.8"/>
<rect x="1026.98" y="1067.99" width="7.80" height="7.80" fill="#0c9a4e" stroke="#111" stroke-width="0.8"/>
<rect x="1033.71" y="1069.63" width="7.80" height="7.80" fill="#0c9a4e" stroke="#111" stroke-width="0.8"/>
<rect x="1040.45" y="915.99" width="7.80" height="7.80" fill="#0c9a4e" stroke="#111" stroke-width="0.8"/>
<polygon points="1071.3,971.7 1076.3,976.7 1071.3,981.7 1066.3,976.7" fill="#ee1c25" stroke="#111" stroke-width="0.8"/>
<polygon points="1078.0,981.1 1083.0,986.1 1078.0,991.1 1073.0,986.1" fill="#ee1c25" stroke="#111" stroke-width="0.8"/>
<polygon points="1084.8,981.1 1089.8,986.1 1084.8,991.1 1079.8,986.1" fill="#ee1c25" stroke="#111" stroke-width="0.8"/>
<polygon points="1091.5,984.8 1096.5,989.8 1091.5,994.8 1086.5,989.8" fill="#ee1c25" stroke="#111" stroke-width="0.8"/>
<polygon points="1098.2,995.8 1103.2,1000.8 1098.2,1005.8 1093.2,1000.8" fill="#ee1c25" stroke="#111" stroke-width="0.8"/>
<polygon points="1105.0,997.4 1110.0,1002.4 1105.0,1007.4 1100.0,1002.4" fill="#ee1c25" stroke="#111" stroke-width="0.8"/>
<polygon points="1111.7,1000.7 1116.7,1005.7 1111.7,1010.7 1106.7,1005.7" fill="#ee1c25" stroke="#111" stroke-width="0.8"/>
<polygon points="1118.4,1001.5 1123.4,1006.5 1118.4,1011.5 1113.4,1006.5" fill="#ee1c25" stroke="#111" stroke-width="0.8"/>
<polygon points="1125.2,1002.3 1130.2,1007.3 1125.2,1012.3 1120.2,1007.3" fill="#ee1c25" stroke="#111" stroke-width="0.8"/>
<polygon points="1131.9,1008.1 1136.9,1013.1 1131.9,1018.1 1126.9,1013.1" fill="#ee1c25" stroke="#111" stroke-width="0.8"/>
<polygon points="1138.6,1011.3 1143.6,1016.3 1138.6,1021.3 1133.6,1016.3" fill="#ee1c25" stroke="#111" stroke-width="0.8"/>
<polygon points="1145.4,1011.3 1150.4,1016.3 1145.4,1021.3 1140.4,1016.3" fill="#ee1c25" stroke="#111" stroke-width="0.8"/>
<polygon points="1152.1,1015.0 1157.1,1020.0 1152.1,1025.0 1147.1,1020.0" fill="#ee1c25" stroke="#111" stroke-width="0.8"/>
<polygon points="1158.8,1015.0 1163.8,1020.0 1158.8,1025.0 1153.8,1020.0" fill="#ee1c25" stroke="#111" stroke-width="0.8"/>
<polygon points="1165.6,1016.6 1170.6,1021.6 1165.6,1026.6 1160.6,1021.6" fill="#ee1c25" stroke="#111" stroke-width="0.8"/>
<polygon points="1172.3,1020.3 1177.3,1025.3 1172.3,1030.3 1167.3,1025.3" fill="#ee1c25" stroke="#111" stroke-width="0.8"/>
<polygon points="1179.0,1021.5 1184.0,1026.5 1179.0,1031.5 1174.0,1026.5" fill="#ee1c25" stroke="#111" stroke-width="0.8"/>
<polygon points="1185.8,1074.2 1190.8,1079.2 1185.8,1084.2 1180.8,1079.2" fill="#ee1c25" stroke="#111" stroke-width="0.8"/>
<circle cx="856.3" cy="890.3" r="10.8" fill="#fff" stroke="#8a8a8a" stroke-width="0.7"/>
<text font-size="22.88" fill="#231f20" text-anchor="middle" font-weight="bold" transform="translate(856.3 897.6) scale(1.1 1)">l</text>
<text font-size="18.72" fill="#231f20" textLength="206.6" lengthAdjust="spacing" transform="translate(871.7 895.3) scale(1.1 1)">Zircon oxygen isotopes</text>
<text font-size="16.12" fill="#9a9a9a" textLength="94.0" lengthAdjust="spacing" transform="translate(1073.3 932.1) scale(1.1 1)">Mantle value</text>
<text font-size="12.48" fill="#231f20" textLength="32.5" lengthAdjust="spacing" transform="translate(1026.0 953.4) scale(1.1 1)">43Ma</text>
<text font-size="12.48" fill="#231f20" textLength="32.5" lengthAdjust="spacing" transform="translate(927.7 1011.8) scale(1.1 1)">23Ma</text>
<line x1="1057.30" y1="946.00" x2="1051.20" y2="931.70" stroke="#231f20" stroke-width="0.9"/>
<line x1="1051.20" y1="931.70" x2="1054.44" y2="934.04" stroke="#231f20" stroke-width="0.9"/>
<line x1="1051.20" y1="931.70" x2="1050.65" y2="935.66" stroke="#231f20" stroke-width="0.9"/>
<line x1="956.30" y1="1002.00" x2="951.70" y2="989.50" stroke="#231f20" stroke-width="0.9"/>
<line x1="951.70" y1="989.50" x2="954.82" y2="992.00" stroke="#231f20" stroke-width="0.9"/>
<line x1="951.70" y1="989.50" x2="950.95" y2="993.43" stroke="#231f20" stroke-width="0.9"/>
<text font-size="16.64" fill="#231f20" textLength="90.9" lengthAdjust="spacing" transform="translate(851.7 1135.1) scale(1.1 1)">14.3±0.4 Ma</text>
<text font-size="16.64" fill="#231f20" textLength="75.8" lengthAdjust="spacing" transform="translate(863.3 1157.1) scale(1.1 1)">16WDG10</text>
<text font-size="16.64" fill="#231f20" textLength="86.4" lengthAdjust="spacing" transform="translate(963.3 1135.1) scale(1.1 1)">13.9±0.4Ma</text>
<text font-size="16.64" fill="#231f20" textLength="76.4" lengthAdjust="spacing" transform="translate(968.3 1157.1) scale(1.1 1)">16WDG17</text>
<text font-size="16.64" fill="#231f20" textLength="91.8" lengthAdjust="spacing" transform="translate(1070.7 1135.1) scale(1.1 1)">14.5±0.6 Ma</text>
<text font-size="16.64" fill="#231f20" textLength="75.7" lengthAdjust="spacing" transform="translate(1081.7 1157.1) scale(1.1 1)">16WDG19</text>
<text font-size="22.36" fill="#231f20" textLength="62.0" lengthAdjust="spacing" transform="translate(824.8 1017.8) rotate(-90)"><tspan font-size="22.36" dy="0.0">δO</tspan><tspan font-size="12.48" dy="-8.0">18</tspan><tspan font-size="17.68" dy="8.0"> ‰</tspan></text>
</svg>
</body></html>
